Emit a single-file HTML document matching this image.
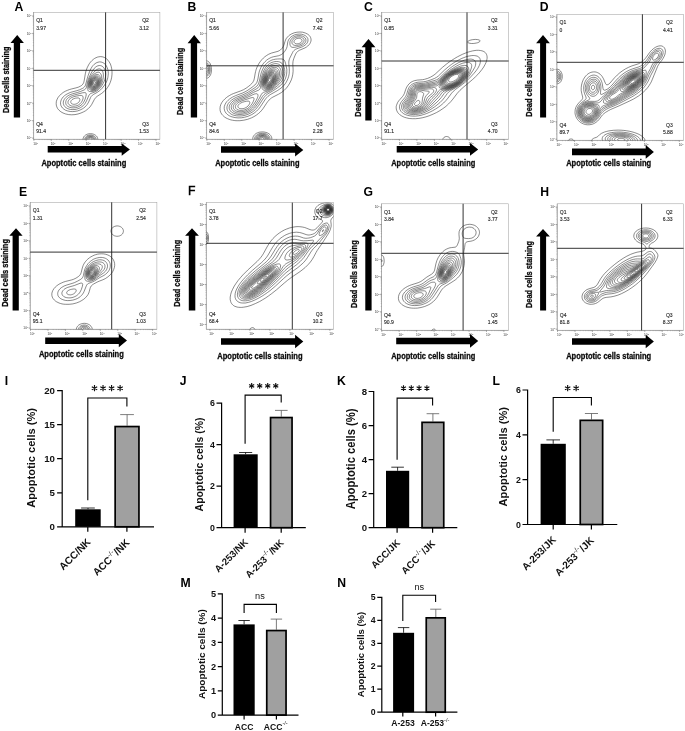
<!DOCTYPE html>
<html><head><meta charset="utf-8"><title>Figure</title>
<style>html,body{margin:0;padding:0;background:#fff;}svg{display:block;will-change:transform;}text{font-family:"Liberation Sans",sans-serif;}</style>
</head><body>
<svg width="685" height="731" viewBox="0 0 685 731">
<rect width="685" height="731" fill="#fff"/>
<clipPath id="c0"><rect x="33.6" y="12.4" width="126.3" height="126.9"/></clipPath>
<rect x="33.6" y="12.4" width="126.3" height="126.9" fill="#fff" stroke="#9a9a9a" stroke-width="0.5"/>
<path d="M33.6 12.4 V139.3 H159.9" fill="none" stroke="#8a8a8a" stroke-width="0.5"/>
<path d="M33.9 139.3 v1.5 M51.3 139.3 v1.5 M68.8 139.3 v1.5 M86.2 139.3 v1.5 M103.7 139.3 v1.5 M121.2 139.3 v1.5 M138.6 139.3 v1.5 M156.0 139.3 v1.5 M33.6 138.1 h-1.5 M33.6 120.7 h-1.5 M33.6 103.2 h-1.5 M33.6 85.8 h-1.5 M33.6 68.3 h-1.5 M33.6 50.9 h-1.5 M33.6 33.4 h-1.5 M33.6 16.0 h-1.5" stroke="#555" stroke-width="0.5" fill="none"/>
<path d="M39.2 139.3 v.8 M42.2 139.3 v.8 M44.4 139.3 v.8 M46.1 139.3 v.8 M47.5 139.3 v.8 M48.6 139.3 v.8 M49.7 139.3 v.8 M50.6 139.3 v.8 M56.6 139.3 v.8 M59.7 139.3 v.8 M61.9 139.3 v.8 M63.5 139.3 v.8 M64.9 139.3 v.8 M66.1 139.3 v.8 M67.1 139.3 v.8 M68.0 139.3 v.8 M74.1 139.3 v.8 M77.1 139.3 v.8 M79.3 139.3 v.8 M81.0 139.3 v.8 M82.4 139.3 v.8 M83.5 139.3 v.8 M84.6 139.3 v.8 M85.5 139.3 v.8 M91.5 139.3 v.8 M94.6 139.3 v.8 M96.8 139.3 v.8 M98.4 139.3 v.8 M99.8 139.3 v.8 M101.0 139.3 v.8 M102.0 139.3 v.8 M102.9 139.3 v.8 M109.0 139.3 v.8 M112.0 139.3 v.8 M114.2 139.3 v.8 M115.9 139.3 v.8 M117.3 139.3 v.8 M118.4 139.3 v.8 M119.5 139.3 v.8 M120.4 139.3 v.8 M126.4 139.3 v.8 M129.5 139.3 v.8 M131.7 139.3 v.8 M133.3 139.3 v.8 M134.7 139.3 v.8 M135.9 139.3 v.8 M136.9 139.3 v.8 M137.8 139.3 v.8 M143.9 139.3 v.8 M146.9 139.3 v.8 M149.1 139.3 v.8 M150.8 139.3 v.8 M152.2 139.3 v.8 M153.3 139.3 v.8 M154.4 139.3 v.8 M155.3 139.3 v.8 M33.6 132.8 h-.8 M33.6 129.8 h-.8 M33.6 127.6 h-.8 M33.6 125.9 h-.8 M33.6 124.5 h-.8 M33.6 123.4 h-.8 M33.6 122.3 h-.8 M33.6 121.4 h-.8 M33.6 115.4 h-.8 M33.6 112.3 h-.8 M33.6 110.1 h-.8 M33.6 108.5 h-.8 M33.6 107.1 h-.8 M33.6 105.9 h-.8 M33.6 104.9 h-.8 M33.6 104.0 h-.8 M33.6 97.9 h-.8 M33.6 94.9 h-.8 M33.6 92.7 h-.8 M33.6 91.0 h-.8 M33.6 89.6 h-.8 M33.6 88.5 h-.8 M33.6 87.4 h-.8 M33.6 86.5 h-.8 M33.6 80.5 h-.8 M33.6 77.4 h-.8 M33.6 75.2 h-.8 M33.6 73.6 h-.8 M33.6 72.2 h-.8 M33.6 71.0 h-.8 M33.6 70.0 h-.8 M33.6 69.1 h-.8 M33.6 63.0 h-.8 M33.6 60.0 h-.8 M33.6 57.8 h-.8 M33.6 56.1 h-.8 M33.6 54.7 h-.8 M33.6 53.6 h-.8 M33.6 52.5 h-.8 M33.6 51.6 h-.8 M33.6 45.6 h-.8 M33.6 42.5 h-.8 M33.6 40.3 h-.8 M33.6 38.7 h-.8 M33.6 37.3 h-.8 M33.6 36.1 h-.8 M33.6 35.1 h-.8 M33.6 34.2 h-.8 M33.6 28.1 h-.8 M33.6 25.1 h-.8 M33.6 22.9 h-.8 M33.6 21.2 h-.8 M33.6 19.8 h-.8 M33.6 18.7 h-.8 M33.6 17.6 h-.8 M33.6 16.7 h-.8" stroke="#777" stroke-width="0.35" fill="none"/>
<g font-family="Liberation Sans, sans-serif" font-size="3.2" fill="#333"><text x="33.3" y="144.9">10<tspan dy="-1.1" font-size="2.3">0</tspan></text><text x="50.7" y="144.9">10<tspan dy="-1.1" font-size="2.3">1</tspan></text><text x="68.2" y="144.9">10<tspan dy="-1.1" font-size="2.3">2</tspan></text><text x="85.7" y="144.9">10<tspan dy="-1.1" font-size="2.3">3</tspan></text><text x="103.1" y="144.9">10<tspan dy="-1.1" font-size="2.3">4</tspan></text><text x="120.6" y="144.9">10<tspan dy="-1.1" font-size="2.3">5</tspan></text><text x="138.0" y="144.9">10<tspan dy="-1.1" font-size="2.3">6</tspan></text><text x="155.4" y="144.9">10<tspan dy="-1.1" font-size="2.3">7</tspan></text><text x="31.6" y="139.4" text-anchor="end">10<tspan dy="-1.1" font-size="2.3">0</tspan></text><text x="31.6" y="122.0" text-anchor="end">10<tspan dy="-1.1" font-size="2.3">1</tspan></text><text x="31.6" y="104.5" text-anchor="end">10<tspan dy="-1.1" font-size="2.3">2</tspan></text><text x="31.6" y="87.1" text-anchor="end">10<tspan dy="-1.1" font-size="2.3">3</tspan></text><text x="31.6" y="69.6" text-anchor="end">10<tspan dy="-1.1" font-size="2.3">4</tspan></text><text x="31.6" y="52.2" text-anchor="end">10<tspan dy="-1.1" font-size="2.3">5</tspan></text><text x="31.6" y="34.7" text-anchor="end">10<tspan dy="-1.1" font-size="2.3">6</tspan></text><text x="31.6" y="17.3" text-anchor="end">10<tspan dy="-1.1" font-size="2.3">7</tspan></text></g>
<path clip-path="url(#c0)" d="M98.8 56.8l2-.2 2.1 .3 1.8 .7 1.8 1.2 1.5 1.4 1.2 1.7 1.2 2.1 .8 2.4 .5 2.4 .3 2.7 0 2.7-.3 3-.6 2.7-.9 2.7-1.1 2.4-1.5 2.4-1.7 2.2-2.1 2.1-2.4 1.9-4.2 2.7-1.5 1.3-.6 .8-.7 1-2.7 5.1-1.7 2.4-1.5 1.5-1.4 1.2-1.6 1.2-1.8 1-2.7 1.2-3 1-3 .6-3.3 .2-3-.2-3-.6-2.7-1-2.1-1.2-1.8-1.5-1.4-1.6-.9-1.8-.5-1.8-.1-1.8 .2-2.1 .8-2.1 1-1.8 1.5-1.8 1.5-1.5 2.1-1.6 2.1-1.2 2.1-.9 1.8-.7 2.1-.6 4.5-1.1 2.4-.7 2.1-1 1-.6 .8-.7 .9-1.1 .7-1.5 .5-2.3 1-6.1 .6-2.7 1.2-3.3 1.5-3 .9-1.5 1.2-1.5 1.1-1.2 1.5-1.3 1.2-.9 1.5-.8 1.5-.6zM84.2 142.3l-.8-1.2-.2-.6-.2-.9 0-.6 .2-.9 .4-.9 .3-.6 .5-.6 .8-.7 1.5-.9 1.8-.6 1.8-.1 1.8 .1 1.8 .5 .9 .5 .9 .6 .7 .6 .5 .6 .3 .6 .4 .9 .1 .6 .1 .9-.1 .6-.3 .9-.8 1.2M98 62.2l1.6-.3 1.5 .1 1.5 .5 1.5 .8 1.2 1.1 1 1.4 .9 1.8 .6 1.8 .4 2.1 .1 2.1-.2 2.1-.3 2.1-.6 2.1-.8 2.1-1.2 2.1-1.2 1.8-2.2 2.7-1.2 1.2-1.3 1.1-2.1 1.5-4 2.2-.8 .6-.6 .6-.6 .7-.6 1-2 4.6-1.4 2.4-1 1.2-1.1 1.2-1.4 1.1-1.5 1-2.1 1-2.4 .9-2.7 .5-2.4 .2-2.4-.1-2.4-.5-2.1-.7-1.8-1.1-1.3-1.1-.9-1.2-.7-1.2-.4-1.5-.1-1.5 .3-1.5 .5-1.5 .9-1.5 .9-1.2 1.4-1.3 1.5-1.1 1.8-1 3-1.3 6-1.6 2.7-.9 3.2-1.5 .9-.6 .7-.6 .7-.9 .5-1.1 1.6-6.1 1-3.3 1.5-4.2 1.4-3 1.4-2.2 .9-1.1 .9-.9 1.8-1.3 .9-.4zM86.3 142.3l-.8-.9-.4-.6-.2-.6-.1-1.2 .3-1.2 .7-1 1.2-1 1.5-.6 1.8-.2 1.5 .1 1.5 .5 1.2 .7 .6 .6 .4 .6 .5 1.2 .1 .6-.2 .9-.6 1.2-.8 .9M97.9 65.8l1.4-.3 1.2 .1 1.2 .4 1.2 .8 .9 .9 .8 1.4 .6 1.5 .4 1.8 .1 1.8-.1 1.8-.3 1.8-.5 1.8-.8 2.1-1 2.1-1.1 1.8-1.2 1.8-2 2.1-.9 .8-1.2 .8-1.8 .9-3.8 1.4-.7 .4-.6 .5-.5 .6-.5 .9-2.2 5.1-1.3 2.4-.9 1.2-1.1 1.2-1.3 1-1.2 .8-1.8 .9-2.1 .7-1.8 .4-2.1 .1-2.1-.1-1.8-.4-1.8-.7-1.4-.9-1-.9-.7-.9-.5-1.2-.3-1.2 0-1.2 .3-1.2 .5-1.2 .8-1.2 .8-.9 1.2-1 1.2-.9 1.5-.8 2.7-1 5.4-1.5 3-1 3.3-1.4 .9-.5 .6-.5 .6-.9 .4-1 1-5.1 .8-2.7 1-2.4 1.6-3.2 1.8-3.2 1.5-2.1 .9-.9 .9-.7 .9-.6zM88.1 142.3l-1.1-.7-.5-.5-.4-.6-.2-.9 0-.6 .1-.6 .5-.9 .5-.5 .6-.5 1.2-.5 1.5-.2 1.5 .2 1.2 .4 1 .8 .5 .6 .3 .6 .1 .6 0 .6-.2 .9-.4 .6-.4 .4-1.2 .8M97.9 69.1l.8-.2 .9 0 .9 .3 .6 .3 .6 .5 .6 .8 .5 1 .3 .9 .3 2.1-.1 2.7-.6 3-.9 2.7-1 2.1-1.2 1.8-1.5 1.7-1.5 1.2-1.8 .9-1.8 .5-2.1 .2-1.2-.1-.8-.2-.4-.2-.3-.4-.3-.6-.1-1.2-.1-2.1 .2-2.1 .2-1.8 .5-1.8 .6-1.8 .7-1.5 1-1.7 1.2-1.7 1.5-1.8 1.2-1.4 1.2-1 .9-.7zM82.5 92.8l1.8-.2 .9 0 .4 .2 .4 .3 .1 .3 .1 .6 0 .9-.3 1.5-.4 1.5-.6 1.8-.7 1.5-.7 1.2-.7 1-.9 1-.9 .8-1.8 1.2-1.8 .8-2.1 .5-2.1 .2-2.1-.2-1.8-.5-1.5-.8-1.1-1-.6-.9-.3-.9-.1-.9 .1-1.2 .4-1.2 .5-.9 .8-.9 .9-.8 1.8-1.2 2.4-1 2.1-.6zM89.5 136.6l1.1-.1 1.2 .2 1.2 .6 .7 .8 .3 .9 0 .9-.5 .9-.7 .6-.7 .4-.8 .2-.7 .1-.9-.1-.9-.2-.6-.3-.6-.4-.5-.6-.3-.6 0-.6 0-.6 .3-.6 .5-.6 .4-.3 .8-.4zM97.2 72.4l1.2-.2 .6 .2 .6 .2 .9 .9 .7 1.3 .4 1.8 .1 2.1-.3 2.4-.6 2.1-.8 1.8-.9 1.5-1.2 1.5-1.3 1.1-1.5 .9-1.5 .4-1.5 .1-1.2-.2-.9-.5-.6-.6-.5-.9-.3-1.2-.1-1.5 .1-1.5 .3-1.8 .4-1.5 .6-1.5 .7-1.2 .9-1.3 .9-1.1 1.2-1.2 1.2-.9 1.2-.7zM79.5 95.5l1.5-.1 .6 .1 .6 .2 .6 .5 .2 .5 .1 .6 0 .9-.2 .9-.7 1.8-.9 1.5-1.4 1.5-1.3 1-1.5 .7-1.5 .4-1.5 .2-1.5 0-1.5-.3-1.2-.6-1-.8-.5-.6-.3-.6-.1-.6 0-.9 .3-.9 .3-.6 .6-.9 .6-.6 1.6-1.1 2.1-.9 2.7-.7zM90.1 137.2l.8 0 1 .3 .8 .6 .4 .6 0 .9-.2 .6-.5 .6-.6 .3-1.2 .3-1.2-.1-1-.5-.3-.3-.4-.6 0-.9 .2-.6 .2-.3 .8-.6zM96.4 74.5l1.1 0 1 .3 .8 .7 .7 1.1 .4 1.5 .2 1.5-.1 1.8-.5 1.8-.5 1.5-.9 1.5-1 1.2-1 .9-1.2 .8-1.2 .5-1.2 .1-1.2-.1-.9-.4-.6-.5-.5-.7-.4-.9-.2-1.2 0-1.5 .1-1.2 .3-1.5 .6-1.5 .6-1.2 .7-1.1 .9-1.1 .9-.8 1.2-.8 .9-.4zM75.3 98.2l1.5-.2 1.2-.1 .9 .2 .6 .4 .3 .6 .1 .6-.2 .9-.4 .9-.7 .9-.9 .7-.9 .6-1.2 .4-1.2 .2-.9 0-.9-.2-.9-.4-.6-.6-.3-.7 0-.9 .4-.9 .8-.9 .9-.6 1.2-.5zM89.6 138.1l1-.1 .6 .1 .5 .3 .3 .3 .2 .6-.1 .4-.3 .4-.6 .4-.6 .1-.9-.1-.6-.3-.4-.6 0-.6 .4-.6zM95.1 76l1.2-.2 .9 .1 .9 .4 .8 .9 .6 1.2 .2 1.2 .1 1.2-.2 1.5-.4 1.5-.5 1.2-.8 1.2-1 1.2-.9 .7-1.2 .6-1.2 .3-1.2 0-.9-.4-.6-.4-.4-.5-.5-.9-.2-.9-.1-1.2 .2-2.1 .7-2.1 .6-1.2 .6-.8 .6-.7 .9-.8 .9-.6zM95 76.9l1-.1 .9 .1 .9 .5 .6 .7 .4 .9 .3 1.2 0 1.2-.1 1.2-.4 1.2-.5 1.2-.6 1-.9 1-.9 .7-.9 .4-1.2 .3-.9-.1-.6-.2-.7-.4-.5-.6-.3-.6-.3-.9-.1-.9 0-.9 .1-1.2 .4-1.2 .4-.9 1-1.6 .6-.6 .9-.7zM94.5 77.8l.9-.2 .9 .1 .6 .2 .6 .5 .6 .8 .3 1 .2 .9-.1 1.2-.3 1.2-.3 .9-.5 .9-.8 1-.9 .8-.9 .4-.9 .3-.9 0-.6-.2-.6-.4-.4-.4-.4-.6-.2-.6-.1-.9 0-1.5 .5-1.8 .8-1.5 .7-.9 .6-.5zM94.9 78.4l.8-.1 .6 .2 .6 .4 .4 .4 .4 .6 .2 .9 .1 .9-.1 .9-.2 .9-.3 .9-.5 .8-.6 .7-.7 .6-.8 .5-.9 .2-.6 0-.6-.2-.4-.2-.5-.5-.3-.4-.2-.6-.2-.9 .1-1.5 .4-1.5 .5-.8 .5-.7 1-.9 .6-.4zM94.2 79.3l.6-.2 .6 0 .6 .1 .6 .4 .5 .6 .2 .6 .1 .6 .1 .9-.4 1.5-.4 .9-.5 .6-.5 .5-.6 .4-.6 .3-.9 .1-.9-.3-.6-.6-.4-1-.1-1.2 .2-1.2 .6-1.3 .9-1.1zM94.4 79.9l.4-.1 .6 0 .6 .3 .3 .2 .3 .5 .2 .6 .1 1.2-.3 1.2-.3 .6-.6 .7-.9 .7-.6 .1-.6 0-.6-.2-.6-.6-.3-.9 0-1 .3-1.2 .5-.9 .7-.7zM94.1 80.8l.4-.2 .6 0 .6 .3 .3 .3 .2 .5 .1 .9-.3 1.1-.6 .9-.6 .4-.9 .2-.6-.2-.3-.3-.3-.6 0-.9 .2-.9 .3-.6 .4-.5zM94.4 81.7l.5 0 .4 .3 .1 .3 0 .6-.2 .6-.2 .3-.3 .3-.5 .1-.3 0-.3-.3-.2-.7 .2-.6 .1-.3 .3-.3z" fill="none" stroke="#2a2a2a" stroke-width="0.55"/>
<path d="M105.6 12.4 V139.3 M33.6 70.3 H159.9" stroke="#1c1c1c" stroke-width="0.9" fill="none"/>
<g font-family="Liberation Sans, sans-serif" font-size="5.0" fill="#2a2a2a" stroke="#2a2a2a" stroke-width="0.14"><text x="36.2" y="22.4">Q1</text><text x="36.2" y="29.7">3.97</text><text x="148.9" y="22.4" text-anchor="end">Q2</text><text x="148.9" y="29.7" text-anchor="end">3.12</text><text x="148.9" y="125.8" text-anchor="end">Q3</text><text x="148.9" y="133.1" text-anchor="end">1.53</text><text x="36.2" y="125.8">Q4</text><text x="36.2" y="133.1">91.4</text></g>
<text x="14.6" y="10.6" font-family="Liberation Sans, sans-serif" font-size="12.2" font-weight="bold" fill="#000">A</text>
<path d="M13.8 117.5 V42.9 H10.5 L17.2 35.1 L23.9 42.9 H20.1 V117.5 Z" fill="#000"/>
<path d="M47.7 146.0 H121.7 V143.4 L129.9 149.6 L121.7 155.8 V152.4 H47.7 Z" fill="#000"/>
<text x="41.4" y="166.0" font-family="Liberation Sans, sans-serif" font-size="8.5" font-weight="bold" fill="#0a0a0a" stroke="#0a0a0a" stroke-width="0.28" textLength="84.9" lengthAdjust="spacingAndGlyphs">Apoptotic cells staining</text>
<text transform="translate(8.9 113.0) rotate(-90)" font-family="Liberation Sans, sans-serif" font-size="8.5" font-weight="bold" fill="#0a0a0a" stroke="#0a0a0a" stroke-width="0.28" textLength="66.6" lengthAdjust="spacingAndGlyphs">Dead cells staining</text>
<clipPath id="c1"><rect x="206.6" y="12.4" width="126.9" height="126.9"/></clipPath>
<rect x="206.6" y="12.4" width="126.9" height="126.9" fill="#fff" stroke="#9a9a9a" stroke-width="0.5"/>
<path d="M206.6 12.4 V139.3 H333.5" fill="none" stroke="#8a8a8a" stroke-width="0.5"/>
<path d="M206.9 139.3 v1.5 M224.3 139.3 v1.5 M241.8 139.3 v1.5 M259.2 139.3 v1.5 M276.7 139.3 v1.5 M294.1 139.3 v1.5 M311.6 139.3 v1.5 M329.1 139.3 v1.5 M206.6 138.1 h-1.5 M206.6 120.7 h-1.5 M206.6 103.2 h-1.5 M206.6 85.8 h-1.5 M206.6 68.3 h-1.5 M206.6 50.9 h-1.5 M206.6 33.4 h-1.5 M206.6 16.0 h-1.5" stroke="#555" stroke-width="0.5" fill="none"/>
<path d="M212.2 139.3 v.8 M215.2 139.3 v.8 M217.4 139.3 v.8 M219.1 139.3 v.8 M220.5 139.3 v.8 M221.6 139.3 v.8 M222.7 139.3 v.8 M223.6 139.3 v.8 M229.6 139.3 v.8 M232.7 139.3 v.8 M234.9 139.3 v.8 M236.5 139.3 v.8 M237.9 139.3 v.8 M239.1 139.3 v.8 M240.1 139.3 v.8 M241.0 139.3 v.8 M247.1 139.3 v.8 M250.1 139.3 v.8 M252.3 139.3 v.8 M254.0 139.3 v.8 M255.4 139.3 v.8 M256.5 139.3 v.8 M257.6 139.3 v.8 M258.5 139.3 v.8 M264.5 139.3 v.8 M267.6 139.3 v.8 M269.8 139.3 v.8 M271.4 139.3 v.8 M272.8 139.3 v.8 M274.0 139.3 v.8 M275.0 139.3 v.8 M275.9 139.3 v.8 M282.0 139.3 v.8 M285.0 139.3 v.8 M287.2 139.3 v.8 M288.9 139.3 v.8 M290.3 139.3 v.8 M291.4 139.3 v.8 M292.5 139.3 v.8 M293.4 139.3 v.8 M299.4 139.3 v.8 M302.5 139.3 v.8 M304.7 139.3 v.8 M306.3 139.3 v.8 M307.7 139.3 v.8 M308.9 139.3 v.8 M309.9 139.3 v.8 M310.8 139.3 v.8 M316.9 139.3 v.8 M319.9 139.3 v.8 M322.1 139.3 v.8 M323.8 139.3 v.8 M325.2 139.3 v.8 M326.3 139.3 v.8 M327.4 139.3 v.8 M328.3 139.3 v.8 M206.6 132.8 h-.8 M206.6 129.8 h-.8 M206.6 127.6 h-.8 M206.6 125.9 h-.8 M206.6 124.5 h-.8 M206.6 123.4 h-.8 M206.6 122.3 h-.8 M206.6 121.4 h-.8 M206.6 115.4 h-.8 M206.6 112.3 h-.8 M206.6 110.1 h-.8 M206.6 108.5 h-.8 M206.6 107.1 h-.8 M206.6 105.9 h-.8 M206.6 104.9 h-.8 M206.6 104.0 h-.8 M206.6 97.9 h-.8 M206.6 94.9 h-.8 M206.6 92.7 h-.8 M206.6 91.0 h-.8 M206.6 89.6 h-.8 M206.6 88.5 h-.8 M206.6 87.4 h-.8 M206.6 86.5 h-.8 M206.6 80.5 h-.8 M206.6 77.4 h-.8 M206.6 75.2 h-.8 M206.6 73.6 h-.8 M206.6 72.2 h-.8 M206.6 71.0 h-.8 M206.6 70.0 h-.8 M206.6 69.1 h-.8 M206.6 63.0 h-.8 M206.6 60.0 h-.8 M206.6 57.8 h-.8 M206.6 56.1 h-.8 M206.6 54.7 h-.8 M206.6 53.6 h-.8 M206.6 52.5 h-.8 M206.6 51.6 h-.8 M206.6 45.6 h-.8 M206.6 42.5 h-.8 M206.6 40.3 h-.8 M206.6 38.7 h-.8 M206.6 37.3 h-.8 M206.6 36.1 h-.8 M206.6 35.1 h-.8 M206.6 34.2 h-.8 M206.6 28.1 h-.8 M206.6 25.1 h-.8 M206.6 22.9 h-.8 M206.6 21.2 h-.8 M206.6 19.8 h-.8 M206.6 18.7 h-.8 M206.6 17.6 h-.8 M206.6 16.7 h-.8" stroke="#777" stroke-width="0.35" fill="none"/>
<g font-family="Liberation Sans, sans-serif" font-size="3.2" fill="#333"><text x="206.3" y="144.9">10<tspan dy="-1.1" font-size="2.3">0</tspan></text><text x="223.8" y="144.9">10<tspan dy="-1.1" font-size="2.3">1</tspan></text><text x="241.2" y="144.9">10<tspan dy="-1.1" font-size="2.3">2</tspan></text><text x="258.6" y="144.9">10<tspan dy="-1.1" font-size="2.3">3</tspan></text><text x="276.1" y="144.9">10<tspan dy="-1.1" font-size="2.3">4</tspan></text><text x="293.5" y="144.9">10<tspan dy="-1.1" font-size="2.3">5</tspan></text><text x="311.0" y="144.9">10<tspan dy="-1.1" font-size="2.3">6</tspan></text><text x="328.4" y="144.9">10<tspan dy="-1.1" font-size="2.3">7</tspan></text><text x="204.6" y="139.4" text-anchor="end">10<tspan dy="-1.1" font-size="2.3">0</tspan></text><text x="204.6" y="122.0" text-anchor="end">10<tspan dy="-1.1" font-size="2.3">1</tspan></text><text x="204.6" y="104.5" text-anchor="end">10<tspan dy="-1.1" font-size="2.3">2</tspan></text><text x="204.6" y="87.1" text-anchor="end">10<tspan dy="-1.1" font-size="2.3">3</tspan></text><text x="204.6" y="69.6" text-anchor="end">10<tspan dy="-1.1" font-size="2.3">4</tspan></text><text x="204.6" y="52.2" text-anchor="end">10<tspan dy="-1.1" font-size="2.3">5</tspan></text><text x="204.6" y="34.7" text-anchor="end">10<tspan dy="-1.1" font-size="2.3">6</tspan></text><text x="204.6" y="17.3" text-anchor="end">10<tspan dy="-1.1" font-size="2.3">7</tspan></text></g>
<path clip-path="url(#c1)" d="M297 32.2l2.9-.2 2.7 .2 1.5 .4 1.2 .4 2.1 1 .9 .6 1 .9 .7 .9 .5 .9 .3 .9 .2 .9 .1 .9-.2 1.2-.4 1.2-.6 1.2-.9 1.2-1.2 1.2-1.3 1-1.5 .9-5.4 2.3-1.2 .7-.7 .5-.8 .8-.6 .8-.6 1-.9 2-.9 2.3-.6 1.8-.3 1.5-.2 2.4 .3 5.1 0 2.4-.3 2.7-.6 3-.9 2.7-1.4 3-1.6 2.7-1.9 2.5-2.4 2.4-2.7 2.1-2.7 1.6-5.7 2.9-1.5 .9-1.2 1-1.2 1.1-1.2 1.4-1.2 1.7-3.4 5.2-1.4 1.8-1.5 1.7-1.8 1.6-2.1 1.6-2.4 1.5-2.4 1.2-1.8 .7-2.1 .8-3.9 .9-3.9 .5-2.1 0-1.8 0-1.8-.2-1.8-.3-1.5-.3-1.8-.6-1.5-.6-1.5-.7-1.4-.9-1.1-.9-.9-.9-.8-.9-1.1-1.8-.6-1.8-.2-2.1 .2-2.1 .6-2.1 1.1-2.1 1.6-2.1 1.4-1.4 1.5-1.3 1.5-1.1 1.8-1.1 1.8-1 2.1-.9 6.9-2.5 2.8-1.2 1.6-.9 1.9-1.2 2-1.5 1.8-1.5 1.2-1.2 .8-.9 .7-1.2 .6-1.2 .5-2.1 .7-4.2 .5-2.4 .6-2.1 .9-2.4 .9-1.8 1.2-2.1 1.3-1.8 1.2-1.5 1.6-1.7 1.5-1.3 1.8-1.3 1.8-1.1 1.5-.7 1.8-.7 6.3-1.7 1.2-.6 1.2-.7 1.5-1.5 1.2-1.7 .8-1.7 1.1-3.6 .5-1.5 1-1.8 1.3-1.5 .9-.9 1-.8 2.1-1.2 2.4-1zM203.6 62.3l.6-.5 .6-.4 .6-.3 .9-.2 .9 .1 .6 .2 .6 .4 .6 .5 .6 .7 .6 .9 .7 1.8 .4 1.8 .2 2.4-.2 2.4-.5 2.1-.9 1.8-.6 .8-.6 .6-1.2 .7-.6 .1-.9 .1-1.2-.5-.6-.4-.6-.5M254.1 142.3l-.5-.6-.4-.9-.3-.9-.1-.9 0-.9 .2-.9 .4-.9 .6-.9 .6-.7 .9-.8 .9-.6 1.2-.5 1.2-.5 1.2-.2 2.4-.2 1.5 .1 1.2 .2 2.1 .6 1.9 1.1 .8 .7 .7 .8 .6 .9 .4 .9 .2 .9 0 .9-.1 .9-.3 .9-.4 .9-.5 .6M296.9 34.3l2.4-.2 2.1 .1 2.1 .6 1.8 .8 1.3 1.1 .5 .6 .5 .9 .3 .6 .1 .9-.1 1.5-.4 1.2-.6 .9-.7 .9-1.2 1-1.2 .8-1.5 .8-5.3 1.9-1.6 .7-.7 .5-.8 .7-.7 .8-.5 .9-3 6-.5 1.5-.3 1.2-.1 1.2 0 1.5 .5 5.1 0 2.4-.1 2.4-.5 2.7-.8 2.4-1.1 2.4-1.2 2.1-1.6 2.1-2.1 2.1-2.1 1.6-2.4 1.6-6.6 3.7-1.5 1-1.4 1.1-1.3 1.3-1.2 1.5-4.9 7.4-1.1 1.5-1.3 1.5-1.5 1.5-1.7 1.4-1.8 1.3-1.8 1-3.3 1.5-3.3 .9-3.3 .6-3.3 .1-3-.3-3-.7-1.5-.5-1.2-.6-1.2-.7-.9-.7-1.2-1.2-1-1.5-.6-1.5-.3-1.8 .1-1.8 .6-1.8 .9-1.8 1.1-1.5 1.2-1.2 1.4-1.2 1.4-1 1.8-1.1 3-1.4 7.2-2.7 3.2-1.6 1.9-1.2 3-2.1 2.4-1.8 1.5-1.2 .8-.9 .7-.9 .5-.9 .4-1.1 .6-2.2 1-6 .6-2.1 .7-1.8 1.4-3 1-1.5 1.1-1.5 1.4-1.5 1.5-1.4 1.5-1.1 1.8-1 1.5-.7 1.8-.6 5.1-1 1.5-.5 1.5-.7 1.2-.8 .9-.9 1.3-1.5 1-1.5 .8-1.5 .6-1.8 .5-3.6 .3-1.5 .6-1.5 .9-1.4 .6-.7 .9-.9 1.8-1.2 2.1-1zM203.6 65l.9-1.2 .9-.6 .6-.2 .6 0 .6 .1 .6 .3 .9 .9 .4 .6 .5 .9 .5 1.8 .2 2.1-.2 1.8-.5 1.8-.8 1.5-1 1-.9 .3-.6 .1-.6-.1-.6-.3-.6-.4-.9-1.2M256.3 142.3l-.6-.6-.6-.9-.4-.9-.1-.6 0-.9 .1-.6 .4-.9 .3-.6 1.1-1.2 .8-.6 .9-.4 .9-.4 1.2-.3 2.1-.2 2.1 .2 1.8 .6 .9 .5 .9 .6 1.1 1.2 .3 .6 .4 .9 .1 .6 0 .9-.2 .9-.3 .6-.6 .9-.6 .6M296.8 35.8l1.9-.2 2.1 .1 1.8 .5 1.5 .8 1 .9 .7 1.2 .1 1.2-.1 .9-.2 .6-.7 1.2-1.1 1.1-1.5 1-1.5 .7-2.4 .7-3.6 .8-1.8 .1-.9-.1-.4-.1-.5-.3-.6-.7-.4-.8-.3-1.2 0-1.2 0-.9 .2-.9 .4-.9 1-1.5 .6-.7 .9-.7 1.8-1zM275.3 59.2l2.1-.2 2.7-.1 1.8 .1 1.2 .3 .8 .5 .5 .6 .5 1 .6 1.8 .8 3.5 .5 2.7 0 2.4-.2 2.4-.6 2.7-.9 2.4-1.2 2.1-1.6 2.1-2 2.1-2.7 2.1-4.1 2.8-5.9 3.5-1.9 1.5-.9 1-.9 1.1-4.9 7.5-2.3 3-1.4 1.5-1.3 1.2-1.6 1.2-1.7 1-2.7 1.3-3 1-3 .6-3 .1-2.7-.2-2.7-.6-1.2-.4-1.2-.6-1.8-1.3-1.1-1.2-.8-1.2-.4-1.2-.2-1.5 .2-1.5 .5-1.5 .8-1.5 1-1.2 1.9-1.8 2.3-1.6 3-1.5 6.3-2.4 3-1.4 2.6-1.5 6.4-4.2 1.9-1.5 1.1-1.3 .8-1.7 .7-2.3 1.3-6.1 .8-2.7 1.2-3 1.5-2.7 1.1-1.5 1.1-1.2 1.3-1.2 1.3-.9 1.5-.9 1.5-.7 1.5-.4zM203.6 67.6l.6-1.5 .6-.9 .9-.6 .6-.1 .6 0 .6 .3 .5 .4 .4 .5 .4 .7 .5 1.5 .1 1.8-.2 1.8-.5 1.5-.4 .6-.5 .6-.9 .5-.6 0-.6-.1-.9-.6-.7-1-.5-1.4M258 142.3l-.7-.5-.6-.6-.5-.7-.2-.6-.2-.6 0-.9 .4-1.2 .4-.6 .5-.6 .7-.6 .7-.4 .9-.4 .9-.3 1.2-.2 .9 0 1.8 .2 1.8 .6 .8 .5 .7 .6 .5 .6 .4 .6 .4 1.2 0 .6-.2 .9-.6 1.2-.6 .6-.8 .6M297.4 37l1.3-.1 1.5 .1 1.3 .3 1.1 .6 .9 .9 .5 .9 .1 .9-.2 .6-.2 .6-.6 .9-1 .9-1 .6-1.5 .6-1.5 .4-1.8 .2-1.5 0-1.2-.4-.9-.6-.4-.5-.2-.6-.2-1.2 .1-.9 .2-.6 .8-1.2 1.2-1.1 1.5-.8zM274.9 61.6l1.6-.1 1.8 .1 1.5 .4 1.2 .6 .9 .7 .9 1.1 .8 1.4 .6 1.8 .4 1.8 .2 2.1-.1 2.1-.3 1.8-.7 2.1-.8 1.8-1.1 1.8-1.2 1.5-1.4 1.5-1.6 1.5-3.8 3.1-3.3 2.1-5 2.6-1.5 1.2-1.5 1.8-4.1 6.6-2.6 3.6-1.3 1.5-1.4 1.3-1.5 1.2-1.5 1-2.4 1.2-2.4 .9-2.7 .6-2.7 .2-2.4-.1-2.4-.5-2.1-.9-1.6-1-.9-.9-.7-1.2-.5-1.2-.1-1.2 .1-1.2 .4-1.2 .7-1.2 .9-1.2 1.7-1.7 2.4-1.5 2.4-1.2 5.8-2.2 2.9-1.3 2.1-1.2 4.5-2.8 3.6-2.1 1.4-1 .9-1.2 .7-1.5 .5-1.8 1.2-5.7 1.2-3.9 1.2-3 1.3-2.3 .9-1.3 1.2-1.3 1.2-1.2 1.2-.9 1.2-.7 1.2-.5 1.5-.5zM206.3 65.8l.3 0 .6 .2 .4 .4 .4 .6 .5 1.2 .1 1.5-.2 1.5-.5 1.2-.7 .8-.3 .1-.6 .1-.4-.1-.5-.3-.6-.7-.4-1.1-.2-1.5 .1-1.5 .5-1.2 .6-.8 .3-.2zM259.6 142.3l-.8-.4-.6-.4-.9-1-.3-.6-.2-.6 0-.9 .2-.6 .3-.6 .4-.6 .7-.6 .7-.4 1.5-.6 1.8-.2 1.8 .2 1.5 .7 1.2 .9 .4 .6 .3 .6 .2 .6 0 .9-.2 .6-.3 .6-.5 .6-.5 .4-1.3 .8M297 38.5l1.1-.2 1.2 0 .9 .2 .9 .5 .6 .6 .3 .7 0 .6-.4 .9-.5 .6-.9 .6-.9 .4-.9 .3-1.2 .1-.9 0-.9-.3-.6-.3-.5-.5-.2-.6-.1-.6 .3-.9 .4-.6 .6-.6 1-.6zM274.6 63.7l1.3-.1 1.5 .2 1.2 .4 1.2 .7 1 .9 .9 1.2 .6 1.5 .4 1.5 .2 1.5 0 1.8-.3 1.8-.4 1.5-.7 1.8-.9 1.5-1 1.5-1.4 1.8-1.7 1.8-1.9 1.8-1.7 1.4-1.8 1.2-1.5 .8-1.2 .6-4.8 1.5-.6 .3-.7 .5-.9 1.2-2 3.9-1.4 2.4-1.5 2.4-1.4 2.1-1.2 1.5-1.5 1.5-1.4 1.3-1.7 1.1-2.2 1.2-2.1 .7-2.4 .6-2.1 .1-2.1 0-2.1-.4-1.8-.8-1.5-1-.9-1-.5-.9-.3-1.2 0-1.2 .3-1.2 .6-1.2 1-1.2 1.2-1.2 1.3-.9 1.8-1 2.1-.9 4.5-1.7 2.4-1 2.1-1.1 4.8-2.8 1.8-.8 3.3-1.4 1-.7 .6-.9 .4-1.2 1.1-6.9 .9-3.6 1.3-3.3 1.3-2.7 .9-1.4 1-1.3 1.1-1.2 1.2-1 1.2-.9 1.5-.7 1.2-.4zM206.2 67.3l.4 0 .6 .4 .4 .8 .2 .9-.1 .9-.3 .9-.5 .6-.6 .1-.6-.3-.3-.4-.3-.8-.1-.7 .1-.9 .3-.8 .3-.4zM260.6 135.7l1.2-.2 1.5 0 1.5 .5 1 .6 .7 .9 .4 .9 0 .6-.1 .6-.5 .9-.7 .6-.8 .5-.9 .3-1.2 .2-1.2 0-.9-.2-.9-.3-.9-.6-.6-.7-.4-.7-.1-.6 .1-.9 .4-.8 .6-.7 .9-.6zM273.2 65.8l.9-.2 1.2 0 .9 .1 .9 .2 .9 .4 .9 .7 .6 .6 .6 .8 .5 1 .3 .9 .2 1.2 .1 1.2 0 1.2-.2 1.2-.7 2.4-1.2 2.4-1 1.5-1.1 1.5-2.3 2.7-2.4 2.1-2.1 1.3-1.2 .6-1.2 .4-1.2 .3-1.2 .1-.9 0-.9-.3-.6-.3-.3-.3-.5-.9-.3-1.2-.1-1.8 .1-2.4 .4-2.4 .5-2.4 .8-2.4 1-2.1 1-1.8 1-1.5 1.2-1.4 1.2-1.2 1.5-1.1 1.2-.6zM254.6 94l.9-.2 .9-.1 .6 .1 .6 .4 .3 .5 .1 .8-.1 .9-.3 .9-.6 1.5-.9 1.8-2.3 3.6-1.9 2.4-1.2 1.2-1.1 .9-1.9 1.2-2.1 1-2.1 .6-2.4 .3-2.1-.1-2.1-.4-1.6-.8-.7-.6-.6-.6-.5-.9-.2-.9 0-.9 .2-.9 .4-.9 .6-.9 .8-.9 1-.8 1.5-1 1.5-.7 7.8-3 5.7-2.8zM260.9 136.3l1.2-.2 1.2 .1 .9 .3 .9 .5 .6 .8 .3 .9-.2 .9-.3 .6-.7 .6-.6 .3-.6 .2-.9 .2-.9 0-.9-.2-.9-.4-.6-.4-.5-.6-.2-.6-.1-.6 .1-.6 .3-.6 .7-.6zM272.4 67.6l1.7-.3 .9 0 .9 .2 .9 .4 .6 .4 .6 .5 .5 .6 .7 1.5 .3 .9 .1 1.2-.1 2.1-.5 2.1-1.1 2.7-1.5 2.4-1.8 2.4-1.9 1.8-1.9 1.4-.9 .5-1.2 .6-1.2 .3-.9 .1-.9 0-.7-.2-.8-.4-.8-.8-.5-1.2-.3-1.5 0-1.8 .2-2.1 .3-1.8 .7-2.1 .7-1.8 .9-1.8 1-1.5 1.1-1.4 1.2-1.2 1.2-1 1.2-.7zM252 97.6l.8-.1 .5 .1 .4 .2 .2 .4 .1 .6 0 .6-.6 1.8-1.2 2.4-1.3 1.8-1.4 1.6-1.8 1.4-1.7 .9-1.6 .6-1.5 .4-1.8 .1-1.8-.1-1.4-.4-1.1-.6-.9-.9-.3-.6-.2-.9 0-.6 .3-.9 .3-.7 .7-.8 1.4-1.2 1.8-1 2.1-.9 8.1-2.7zM261.4 136.9l.7-.1 .9 .1 .9 .3 .5 .3 .5 .6 .2 .6-.1 .6-.4 .6-.4 .4-.6 .3-1.2 .2-.9-.1-.6-.2-.9-.6-.3-.4-.1-.5 0-.6 .1-.3 .6-.7 .6-.3zM272 69.1l1.5-.3 1.5 .2 .6 .2 .8 .5 .6 .6 .4 .5 .6 1.3 .3 1.8-.1 1.8-.4 2.1-.9 2.1-1.3 2.4-1.6 2.1-1.7 1.7-1.8 1.3-1.8 .9-1.5 .3-.9-.1-.6-.1-.9-.5-.6-.5-.6-1.2-.3-1.2-.1-1.5 .1-1.5 .2-1.8 .5-1.8 .6-1.5 .7-1.5 .9-1.5 1-1.4 1.2-1.2 1.2-1 1.2-.7zM246.5 101.2l1.5-.1 .9 .1 .6 .4 .3 .5 0 .3-.2 1.2-.6 1.2-1 1.2-1 .9-1.1 .7-1.2 .6-1.5 .4-1.2 .2-1.2-.1-1.2-.2-.7-.4-.6-.6-.4-.9 .1-.9 .5-.9 1.1-1.1 1.2-.7 1.8-.8 2.1-.6zM261.7 137.8l.4-.1 .6 0 .8 .4 .2 .3 .1 .3-.2 .6-.3 .3-.9 .3-.6-.1-.5-.2-.4-.4-.1-.5 .1-.3 .2-.3zM271.8 70.3l1.4-.2 1.2 .2 .6 .3 .6 .4 .5 .5 .4 .6 .6 1.5 .1 1.5-.1 1.8-.5 1.8-.8 2.1-1.1 1.8-1.4 1.8-1.3 1.3-1.8 1.3-1.5 .6-1.5 .2-1.2-.2-.9-.5-.5-.6-.5-.9-.3-1.2-.1-1.2 .1-1.5 .2-1.5 .5-1.8 .6-1.4 .6-1.3 .9-1.4 .9-1.1 .9-.9 1.2-1 1.2-.7zM271 71.5l1.3-.3 1.2 .1 .6 .2 .6 .4 .8 .8 .6 1.2 .2 1.5 0 1.5-.4 1.8-.6 1.8-1 1.8-1.1 1.5-1.2 1.3-1.2 .9-1.5 .8-1.5 .4-1.2-.1-.6-.3-.7-.6-.5-.7-.4-1.1-.2-1.2 0-1.2 .2-1.2 .3-1.5 .5-1.5 .6-1.2 .7-1.2 .7-1 .9-1 .9-.8 .9-.6zM270.9 72.4l1.1-.2 1.2 .1 .9 .5 .8 .8 .5 1.2 .2 1.2-.1 1.5-.3 1.5-.5 1.5-.8 1.5-1.1 1.5-1.1 1.2-1.2 .9-1.2 .6-1.2 .3-1.2-.1-.6-.2-.7-.6-.4-.6-.3-.9-.2-.9 0-1.2 .1-1.2 .4-1.5 .4-1.2 .5-1.2 .8-1.2 .6-.8 1.5-1.5 .9-.6zM270.5 73.3l1.2-.3 .9 .1 .9 .4 .7 .7 .4 .9 .3 1.2 0 1.2-.3 1.5-.5 1.5-.7 1.5-.9 1.2-1.1 1.2-.9 .7-1.2 .6-1.2 .2-.9-.1-.6-.2-.6-.6-.4-.6-.2-.6-.2-.9 0-1.2 .3-2.1 .8-2.1 1.2-1.8 .6-.7 .9-.8 .6-.5zM271 73.9l.7-.1 .9 .3 .7 .4 .5 .7 .3 .8 .2 1.2-.1 1.2-.3 1.2-.4 1.2-.7 1.2-.8 1.1-.9 .9-.9 .7-.9 .4-.9 .2-.9 0-.6-.3-.6-.6-.4-.6-.2-.6-.1-.9 0-.9 .1-.9 .3-1.2 .9-2 1.2-1.6 .6-.6 .9-.6 .6-.4zM270.3 74.8l.8-.2 .9 .1 .7 .4 .5 .6 .3 .7 .2 .8 0 .9-.2 1.2-.4 1.2-.5 1-.7 1.1-.8 .8-.9 .7-.9 .5-.9 .1-.6 0-.6-.3-.3-.2-.3-.4-.3-.6-.2-.6 0-.9 .2-1.8 .6-1.7 .9-1.4 1.2-1.3 .6-.4zM269.9 75.7l.9-.3 .6 0 .6 .3 .4 .3 .4 .6 .3 .9 0 .9-.1 .9-.3 .9-.4 .9-.6 1-.7 .8-.8 .6-.6 .4-.9 .2-.6 0-.6-.3-.3-.3-.4-.6-.3-1.2 .2-1.5 .5-1.5 .7-1.2 .8-1zM270.2 76.3l.6-.1 .6 .1 .7 .6 .3 .6 .1 .6 0 .6-.1 .9-.6 1.5-1 1.3-.6 .5-.6 .3-.6 .2-.6 0-.4-.2-.4-.3-.4-.7-.1-1.1 .1-1.2 .5-1.2 .7-1.1 .9-.8zM270.1 77.2l.4-.1 .4 .1 .5 .3 .2 .3 .2 .9-.1 1-.4 1.1-.8 1-.9 .7-.6 .1-.3 0-.6-.4-.3-.5-.1-.9 .1-.9 .4-.9 .5-.8 .6-.6zM269.8 78.4l.4-.1 .3 .1 .3 .3 .1 .6-.1 .6-.3 .7-.4 .5-.5 .3-.6 .1-.3-.3-.2-.4 .1-.9 .4-.9 .3-.3z" fill="none" stroke="#2a2a2a" stroke-width="0.55"/>
<path d="M283.1 12.4 V139.3 M206.6 65.8 H333.5" stroke="#1c1c1c" stroke-width="0.9" fill="none"/>
<g font-family="Liberation Sans, sans-serif" font-size="5.0" fill="#2a2a2a" stroke="#2a2a2a" stroke-width="0.14"><text x="209.2" y="22.4">Q1</text><text x="209.2" y="29.7">5.66</text><text x="322.5" y="22.4" text-anchor="end">Q2</text><text x="322.5" y="29.7" text-anchor="end">7.42</text><text x="322.5" y="125.8" text-anchor="end">Q3</text><text x="322.5" y="133.1" text-anchor="end">2.28</text><text x="209.2" y="125.8">Q4</text><text x="209.2" y="133.1">84.6</text></g>
<text x="187.6" y="10.6" font-family="Liberation Sans, sans-serif" font-size="12.2" font-weight="bold" fill="#000">B</text>
<path d="M190.8 117.5 V43.2 H187.6 L194.2 35.1 L200.9 43.2 H197.1 V117.5 Z" fill="#000"/>
<path d="M221.0 146.3 H295.1 V143.4 L303.3 149.9 L295.1 156.5 V152.8 H221.0 Z" fill="#000"/>
<text x="215.2" y="166.2" font-family="Liberation Sans, sans-serif" font-size="8.5" font-weight="bold" fill="#0a0a0a" stroke="#0a0a0a" stroke-width="0.28" textLength="84.3" lengthAdjust="spacingAndGlyphs">Apoptotic cells staining</text>
<text transform="translate(182.6 115.0) rotate(-90)" font-family="Liberation Sans, sans-serif" font-size="8.5" font-weight="bold" fill="#0a0a0a" stroke="#0a0a0a" stroke-width="0.28" textLength="67.3" lengthAdjust="spacingAndGlyphs">Dead cells staining</text>
<clipPath id="c2"><rect x="381.7" y="12.4" width="126.9" height="126.9"/></clipPath>
<rect x="381.7" y="12.4" width="126.9" height="126.9" fill="#fff" stroke="#9a9a9a" stroke-width="0.5"/>
<path d="M381.7 12.4 V139.3 H508.6" fill="none" stroke="#8a8a8a" stroke-width="0.5"/>
<path d="M382.0 139.3 v1.5 M399.4 139.3 v1.5 M416.9 139.3 v1.5 M434.4 139.3 v1.5 M451.8 139.3 v1.5 M469.2 139.3 v1.5 M486.7 139.3 v1.5 M504.1 139.3 v1.5 M381.7 138.1 h-1.5 M381.7 120.7 h-1.5 M381.7 103.2 h-1.5 M381.7 85.8 h-1.5 M381.7 68.3 h-1.5 M381.7 50.9 h-1.5 M381.7 33.4 h-1.5 M381.7 16.0 h-1.5" stroke="#555" stroke-width="0.5" fill="none"/>
<path d="M387.3 139.3 v.8 M390.3 139.3 v.8 M392.5 139.3 v.8 M394.2 139.3 v.8 M395.6 139.3 v.8 M396.7 139.3 v.8 M397.8 139.3 v.8 M398.7 139.3 v.8 M404.7 139.3 v.8 M407.8 139.3 v.8 M410.0 139.3 v.8 M411.6 139.3 v.8 M413.0 139.3 v.8 M414.2 139.3 v.8 M415.2 139.3 v.8 M416.1 139.3 v.8 M422.2 139.3 v.8 M425.2 139.3 v.8 M427.4 139.3 v.8 M429.1 139.3 v.8 M430.5 139.3 v.8 M431.6 139.3 v.8 M432.7 139.3 v.8 M433.6 139.3 v.8 M439.6 139.3 v.8 M442.7 139.3 v.8 M444.9 139.3 v.8 M446.5 139.3 v.8 M447.9 139.3 v.8 M449.1 139.3 v.8 M450.1 139.3 v.8 M451.0 139.3 v.8 M457.1 139.3 v.8 M460.1 139.3 v.8 M462.3 139.3 v.8 M464.0 139.3 v.8 M465.4 139.3 v.8 M466.5 139.3 v.8 M467.6 139.3 v.8 M468.5 139.3 v.8 M474.5 139.3 v.8 M477.6 139.3 v.8 M479.8 139.3 v.8 M481.4 139.3 v.8 M482.8 139.3 v.8 M484.0 139.3 v.8 M485.0 139.3 v.8 M485.9 139.3 v.8 M492.0 139.3 v.8 M495.0 139.3 v.8 M497.2 139.3 v.8 M498.9 139.3 v.8 M500.3 139.3 v.8 M501.4 139.3 v.8 M502.5 139.3 v.8 M503.4 139.3 v.8 M381.7 132.8 h-.8 M381.7 129.8 h-.8 M381.7 127.6 h-.8 M381.7 125.9 h-.8 M381.7 124.5 h-.8 M381.7 123.4 h-.8 M381.7 122.3 h-.8 M381.7 121.4 h-.8 M381.7 115.4 h-.8 M381.7 112.3 h-.8 M381.7 110.1 h-.8 M381.7 108.5 h-.8 M381.7 107.1 h-.8 M381.7 105.9 h-.8 M381.7 104.9 h-.8 M381.7 104.0 h-.8 M381.7 97.9 h-.8 M381.7 94.9 h-.8 M381.7 92.7 h-.8 M381.7 91.0 h-.8 M381.7 89.6 h-.8 M381.7 88.5 h-.8 M381.7 87.4 h-.8 M381.7 86.5 h-.8 M381.7 80.5 h-.8 M381.7 77.4 h-.8 M381.7 75.2 h-.8 M381.7 73.6 h-.8 M381.7 72.2 h-.8 M381.7 71.0 h-.8 M381.7 70.0 h-.8 M381.7 69.1 h-.8 M381.7 63.0 h-.8 M381.7 60.0 h-.8 M381.7 57.8 h-.8 M381.7 56.1 h-.8 M381.7 54.7 h-.8 M381.7 53.6 h-.8 M381.7 52.5 h-.8 M381.7 51.6 h-.8 M381.7 45.6 h-.8 M381.7 42.5 h-.8 M381.7 40.3 h-.8 M381.7 38.7 h-.8 M381.7 37.3 h-.8 M381.7 36.1 h-.8 M381.7 35.1 h-.8 M381.7 34.2 h-.8 M381.7 28.1 h-.8 M381.7 25.1 h-.8 M381.7 22.9 h-.8 M381.7 21.2 h-.8 M381.7 19.8 h-.8 M381.7 18.7 h-.8 M381.7 17.6 h-.8 M381.7 16.7 h-.8" stroke="#777" stroke-width="0.35" fill="none"/>
<g font-family="Liberation Sans, sans-serif" font-size="3.2" fill="#333"><text x="381.4" y="144.9">10<tspan dy="-1.1" font-size="2.3">0</tspan></text><text x="398.8" y="144.9">10<tspan dy="-1.1" font-size="2.3">1</tspan></text><text x="416.3" y="144.9">10<tspan dy="-1.1" font-size="2.3">2</tspan></text><text x="433.8" y="144.9">10<tspan dy="-1.1" font-size="2.3">3</tspan></text><text x="451.2" y="144.9">10<tspan dy="-1.1" font-size="2.3">4</tspan></text><text x="468.6" y="144.9">10<tspan dy="-1.1" font-size="2.3">5</tspan></text><text x="486.1" y="144.9">10<tspan dy="-1.1" font-size="2.3">6</tspan></text><text x="503.5" y="144.9">10<tspan dy="-1.1" font-size="2.3">7</tspan></text><text x="379.7" y="139.4" text-anchor="end">10<tspan dy="-1.1" font-size="2.3">0</tspan></text><text x="379.7" y="122.0" text-anchor="end">10<tspan dy="-1.1" font-size="2.3">1</tspan></text><text x="379.7" y="104.5" text-anchor="end">10<tspan dy="-1.1" font-size="2.3">2</tspan></text><text x="379.7" y="87.1" text-anchor="end">10<tspan dy="-1.1" font-size="2.3">3</tspan></text><text x="379.7" y="69.6" text-anchor="end">10<tspan dy="-1.1" font-size="2.3">4</tspan></text><text x="379.7" y="52.2" text-anchor="end">10<tspan dy="-1.1" font-size="2.3">5</tspan></text><text x="379.7" y="34.7" text-anchor="end">10<tspan dy="-1.1" font-size="2.3">6</tspan></text><text x="379.7" y="17.3" text-anchor="end">10<tspan dy="-1.1" font-size="2.3">7</tspan></text></g>
<path clip-path="url(#c2)" d="M472.3 39.7l3-.3 2.4 .2 1.6 .4 .4 .3 .3 .3 .1 .3-.3 .6-.8 .6-1.3 .6-1.2 .3-1.6 .3-1.7 .2-1.8 0-1.5-.2-1.2-.3-.6-.3-.3-.3-.2-.3 .1-.3 .1-.3 .8-.6 .7-.4 1.6-.5zM475 50.5l1.8-.2 1.8 0 1.8 .2 1.5 .3 1.2 .4 1.2 .6 1 .8 .7 .9 .5 .9 .4 1.2 .2 1.2 0 1.5-.3 1.5-.4 1.5-.5 1.5-.9 1.8-1.3 2.4-1.7 2.4-2.1 2.7-2.1 2.4-2.4 2.4-2.8 2.6-9.4 7.9-3.3 3-2.7 3-4.3 5.7-2 2.4-2.3 2.4-2.7 2.5-3 2.2-3 2-3.3 1.9-3.6 1.7-3.9 1.6-3.3 1.1-3.6 .9-3.3 .6-3.3 .3-3.3 0-3-.2-2.7-.6-2.4-.7-2.4-1.2-2-1.3-1.5-1.5-.7-.9-.6-1.2-.4-.9-.3-1.2-.1-1.2 0-1.2 .3-1.2 .4-1.2 .8-1.8 1-1.5 1.3-1.5 2.4-2.7 1.1-1.5 .9-1.8 1.4-4.2 .9-2.1 1.4-2.1 .9-1.1 .9-.8 1.2-.9 1.2-.7 1.2-.5 1.2-.4 2.7-.5 5.1-.4 2.1-.4 3-.9 2.8-1.2 2.6-1.5 2.1-1.5 7.2-6.7 4.5-3.7 3.6-2.6 4.2-2.7 2.7-1.6 2.7-1.4 2.7-1.3 2.7-1.1 2.4-.9 2.4-.7 2.4-.6zM444.8 142.3l-.9-.6-.8-.9-.3-.9 .1-.9 .4-.9 .8-.8 1.2-.6 1.2-.2 1.2 .2 1.2 .5 .7 .6 .6 .9 .2 .6 0 .6-.3 .9-.8 .9-.9 .6M471.7 55.6l1.5-.1 1.5 .1 1.2 .2 1.2 .3 .9 .4 .8 .6 .6 .6 .5 .9 .3 .9 .2 .9 0 1.2-.2 1.2-.3 1.2-.6 1.5-1.4 2.7-1.7 2.4-2.2 2.7-3.3 3.6-3.3 3.3-2.6 2.3-2.1 1.7-7.3 5.3-2.1 1.8-1.7 1.9-3.7 5-2 2.4-2.3 2.4-2.8 2.4-2.7 2-2.7 1.7-2.7 1.6-3 1.5-3.3 1.4-2.7 .9-2.7 .8-2.7 .5-2.7 .3-2.7 0-2.7-.2-2.4-.5-2.1-.7-1.8-.8-1.5-1.1-1.4-1.4-.9-1.5-.3-.9-.2-.9-.1-1.8 .3-1.2 .3-.9 .7-1.5 .8-1.2 3.2-3.8 .9-1.3 .9-1.8 1.2-4.2 .8-2.1 .5-.9 .8-1.1 .9-1 .7-.6 1.1-.7 .9-.5 2.1-.8 2.4-.5 5.1-.3 2.7-.5 2.2-.6 2.8-.9 3.8-1.5 2-1.1 1.8-1.3 6.3-6.1 3.6-3.1 3.3-2.5 3.3-2.2 4.5-2.5 2.4-1.2 2.1-.8 2.1-.8 2.1-.6 1.8-.3zM469 59.2l1.5-.1 1.2 .1 1.2 .3 .9 .4 .9 .7 .5 .7 .4 .9 .1 .9 0 .9-.2 1.2-.3 1.2-.6 1.2-1.5 2.7-3 4.5-1.8 2.4-1.8 2.1-2.1 2.1-2.3 2-1.8 1.4-2.4 1.6-7.4 4.3-1.3 .9-.7 .6-1.1 1.2-3 4.2-1.9 2.4-2.6 2.6-3 2.5-2.4 1.8-2.4 1.6-2.4 1.5-2.4 1.2-2.1 1-2.4 .9-2.4 .7-2.4 .4-2.4 .3-2.4 .1-2.1-.2-2.1-.4-2.1-.6-1.5-.8-1.3-.9-1.2-1.2-.9-1.5-.4-1.5 0-1.5 .5-1.8 .6-1.2 .8-1.2 2.8-3.5 .9-1.3 .8-1.8 1.1-4.2 .7-1.8 1.1-1.8 .8-.9 .9-.8 1.8-1.1 2.1-.7 2.1-.3 5.1-.3 2.1-.4 8.1-2.2 2.7-.9 1.4-.8 1.3-1 5.7-5.5 4.2-3.6 3-2.3 2.7-1.8 3.6-2.1 3.9-1.8 1.8-.7 1.8-.5zM465.6 62.5l1.3-.1 1.2 0 .9 .1 .9 .3 .6 .4 .6 .6 .4 .8 .2 .9-.1 1.2-.2 1.2-.7 2.1-.7 2.1-1.5 3-1.8 2.7-1.5 1.8-1.9 1.9-2.1 1.8-2.4 1.8-2.1 1.3-2.1 1.2-2.4 1.2-4.9 2.2-1.1 .6-.9 .6-1.1 1.2-2.8 3.9-2.3 2.7-3.1 3-3.9 3.3-2 1.5-1.8 1.2-1.9 1.1-1.8 .9-2.1 .8-1.8 .6-2.1 .5-1.8 .3-2.1 .2-1.8 0-1.8-.2-1.8-.4-1.5-.5-1.2-.6-1.2-.8-1-1-.7-1.2-.4-1.5 0-1.5 .4-1.5 .4-.9 .8-1.2 2.6-3.3 1-1.5 .7-1.8 .9-3.6 .6-1.8 1-1.8 .8-.9 .7-.7 .9-.6 .9-.5 2.1-.7 1.8-.2 4.2-.2 2.4-.3 6-1.5 3.6-.7 1.8-.6 .9-.6 1.2-.9 4.5-4.5 2.7-2.3 3-2.4 3-2 3.9-2.4 3.6-1.9 3-1.2zM463.4 65.5l1.4-.1 1.2 .2 .9 .3 .9 .7 .6 1 .3 1.2 .2 1.5-.2 1.5-.4 1.5-.6 1.5-.8 1.5-1 1.5-1.2 1.5-1.4 1.5-1.5 1.4-1.5 1.2-3 2.1-3.3 1.8-3.3 1.5-6.3 2.2-1.5 .9-1.2 1.2-1.9 2.7-1.8 2.1-6.4 6.6-2 1.8-1.9 1.5-1.9 1.2-2.1 1.1-2.7 1.1-2.4 .7-2.7 .4-2.7 .1-2.4-.3-2.1-.7-1.7-.9-.7-.6-.6-.6-.7-1.2-.3-1.2 0-1.2 .4-1.5 .9-1.8 2.6-3.3 1-1.5 .7-1.8 .7-3.6 .7-1.8 .4-.9 .7-.9 1.3-1.3 .9-.6 .9-.4 1.8-.5 1.5-.2 3.9-.1 2.1-.2 6-1.3 4.2-.7 1.2-.4 .9-.4 1.2-1 4-4.3 2.3-2.2 2.4-2 2.4-1.7 3.6-2.1 3.6-1.7 3.3-1.3 1.8-.5zM462.4 67.3l1.2 0 1.2 .3 .9 .4 .9 .7 .6 .9 .3 .9 .1 1 0 1.2-.3 1.2-.6 1.5-.8 1.5-.8 1.2-1 1.2-1.4 1.5-1.5 1.4-1.5 1.1-1.8 1.3-1.8 1.1-1.8 1-2.1 .9-3.9 1.4-5.5 1.4-1.1 .4-.8 .5-.9 .9-1.8 2.4-1.2 1.5-4 4.2-3.1 3.6-1.4 1.5-1.3 1.2-1.4 1.1-1.5 1-1.5 .8-2.1 .9-2.4 .7-2.4 .3-2.4 .1-2.1-.3-1.8-.5-1.5-.8-.7-.6-.6-.6-.5-.9-.3-1.2 0-1.2 .3-1.2 1-1.8 2.3-3 .9-1.5 .7-1.8 .7-3.6 .5-1.5 .5-.9 .6-.9 1.2-1.2 1.5-.8 1.8-.5 1.5-.2 3.6-.1 1.8-.1 6-1.2 4.5-.5 1.2-.3 .9-.5 .9-.7 3.9-4.7 2.4-2.4 2.4-2.1 2.4-1.7 3.6-2.1 3.3-1.4 1.8-.6 1.5-.4 1.5-.3zM459.7 68.5l1.5-.2 1.5 .1 1.2 .2 .9 .4 .9 .7 .5 .6 .4 .9 .1 1.2-.1 1.2-.3 1.2-.5 1.2-.9 1.5-1.1 1.5-1.1 1.2-1.5 1.4-1.5 1.3-2.1 1.5-2.1 1.2-2.1 1.1-2.4 .9-2.1 .7-2.1 .5-6 .8-.9 .3-.6 .4-.9 .9-1.5 2.2-1.2 1.5-3.7 3.6-1.1 1.2-2.7 3.9-1.5 1.8-.9 .9-1.2 1-1.2 .8-1.5 .8-1.8 .8-2.1 .6-2.1 .3-2.1 .1-1.8-.3-1.8-.5-1.5-.9-.8-.9-.5-.9-.2-.9 0-.9 .3-1.2 .8-1.5 2.2-3 .9-1.5 .7-1.8 .6-3.3 .5-1.6 .4-.8 .5-.8 1.2-1.2 1.5-.8 1.8-.4 1.5-.2 4.5 0 1.8-.3 4.8-.9 1.8-.1 2.7 0 1.2-.2 .9-.6 .6-.6 3.1-4.4 2-2.4 2.1-2.1 2.1-1.7 3-2 3-1.6 3-1.1zM460.2 69.1l1 0 1.2 .1 .9 .2 .9 .3 .7 .6 .5 .6 .4 .9 .2 .9-.1 .9-.2 1.2-.4 .9-.6 1.2-.8 1.2-.9 1.2-1.1 1.2-1.3 1.2-2.7 2.1-2.7 1.6-3 1.4-3 1-3 .6-1.5 .1-1.5 0-1.2 0-1.2-.3-.9-.3-.6-.5-.2-.6 .1-1.2 .8-1.8 .9-1.8 1.2-1.8 1.2-1.5 1.3-1.5 1.6-1.5 1.5-1.2 1.8-1.3 2.1-1.2 1.8-.9 1.5-.7 1.8-.6 1.8-.5zM430 87.4l1.5-.1 1.5 0 1.2 .2 1.3 .5 .5 .3 .4 .6 .1 .6-.1 .9-.3 .9-.5 .9-1.1 1.5-1.2 1.3-3 2.5-1.2 1.3-.7 1.2-1.9 3.6-.9 1.2-.8 .9-1.7 1.4-1.8 1.1-2.1 .9-2.4 .6-2.1 .2-2.1-.3-1.8-.5-.7-.4-.7-.6-.7-.9-.3-.9 0-.9 .1-.9 .4-.9 .5-.9 2.2-3 .9-1.5 .5-1.5 .6-3.3 .3-1.2 .6-1.2 .8-1 .6-.6 .9-.5 .9-.3 .9-.2 1.5-.2 3.6 .1 1.5-.1zM459.8 69.7l2 0 .9 .2 .9 .4 .8 .6 .4 .6 .3 .6 .2 .9 0 .9-.2 .9-.3 .9-.6 1.2-1.5 2.1-2 2.1-2.5 2-2.7 1.7-3 1.5-2.7 .9-2.7 .6-1.5 .1-1.2 0-1.2-.1-.9-.2-.6-.3-.7-.5-.2-.3-.3-.6 0-.9 .3-1.2 .5-1.2 .8-1.5 1.2-1.8 1.3-1.5 1.5-1.5 1.6-1.3 1.8-1.3 1.8-1.1 1.8-1 1.8-.7 1.8-.6 1.5-.4zM428.7 88.9l1.3-.1 1.2 0 .9 .1 .6 .2 .5 .4 .4 .6 .1 .6 0 .6-.4 .9-1 1.2-3.5 2.8-1.3 1.4-.9 1.5-1 3-.6 1.2-.7 1.2-.9 1-1.2 1.1-1.8 1.1-1.8 .7-1.8 .4-1.8 .2-1.8-.2-1.5-.4-.6-.4-.7-.5-.4-.6-.4-.9 0-.9 .2-.9 .8-1.5 2.2-3 .8-1.5 .5-1.5 .4-2.7 .2-1.2 .6-1.2 .6-.9 .8-.6 .7-.4 .9-.3 .9-.2 1.5-.1 4.5 .2zM458.8 70.3l2.1-.1 .9 .2 .9 .3 .6 .3 .6 .5 .4 .6 .3 .9 0 .9-.1 .9-.7 1.8-1.3 2.1-1.9 2-2.2 1.9-2.6 1.7-2.7 1.3-2.7 1-2.7 .6-2.4 .2-1.2-.2-.9-.2-.6-.3-.6-.5-.4-.6-.2-.9 .2-1.2 .4-1.2 .6-1.2 1-1.5 1.3-1.5 1.1-1.2 1.4-1.2 1.5-1.2 1.5-1 1.8-1 1.8-.8 1.5-.6 1.8-.5zM418.6 90.4l1.2-.2 1.2 0 4.2 .7 3 .3 .5 .1 .5 .3 .1 .3-.1 .3-.6 .9-2.2 2.3-1.1 1.6-.6 1.5-.7 3.3-.4 1.2-.7 1.2-1 1.2-.9 .8-1.1 .7-1 .5-1.2 .4-1.2 .2-1.2 .1-1.2-.1-.9-.2-1.2-.6-.4-.3-.4-.6-.3-.9 0-.6 .1-.6 .7-1.3 2.3-3.2 .8-1.5 .4-1.5 .4-3 .3-.9 .3-.6 .4-.6 .7-.6 .7-.4zM457.8 70.9l2.2-.2 .9 .1 .9 .2 .6 .3 .7 .5 .5 .6 .3 .6 .1 .6 0 .9-.2 .9-.3 .9-1.1 1.8-1.8 2.1-2 1.8-2.5 1.7-2.4 1.3-2.7 1-2.4 .6-2.4 .3-1.2-.1-.9-.3-.7-.3-.5-.4-.4-.5-.2-.9 0-.9 .3-1.2 .6-1.2 .7-1.2 1.2-1.5 1.1-1.2 1.3-1.2 1.4-1.1 1.5-1 1.5-.9 3-1.3 1.5-.5zM418.7 91.9l.8-.2 .6-.1 1.5 .3 1.3 .6 .3 .3 .4 .6 .1 .6-.1 .6-.8 2.4-.3 1.2-.3 3.3-.2 1.2-.5 1.2-.7 .9-1 .9-.9 .5-1.2 .5-1.2 .3-1.2 0-1.2-.2-.9-.4-.6-.7-.2-.9 .2-.9 .6-1.2 2.1-2.7 .8-1.2 .6-1.5 .2-2.7 .2-.9 .3-.6 .3-.5 .5-.4zM456.9 71.5l2.2-.3 1.8 .2 .9 .3 .6 .4 .3 .3 .4 .6 .2 .6 .1 .9-.4 1.5-.9 1.8-.9 1.2-.8 .9-2 1.8-2.3 1.6-2.7 1.4-2.3 .9-2.5 .6-2.1 .1-.9-.1-.9-.2-.6-.3-.5-.4-.4-.6-.2-.9 .1-.9 .3-.9 .4-.9 .7-1.2 .9-1.2 1.1-1.2 2.4-2.1 2.7-1.8 2.7-1.3zM417.7 100.6l.9-.2 .6 .2 .3 .4 .3 .7 .1 .7-.1 .6-.3 .6-.4 .6-.5 .4-1.2 .7-1.2 .2-.6 0-.6-.3-.3-.3-.2-.4 0-.6 .3-.6 .5-.8 .6-.6 .9-.8zM457.7 71.8l2 0 1.4 .3 .5 .3 .5 .4 .3 .5 .2 .6 .1 .6-.1 .9-.5 1.5-1.2 1.8-1.4 1.5-1.7 1.5-2.3 1.5-2.4 1.2-2.1 .8-2.1 .5-1.8 .1-1.5-.3-.6-.2-.6-.5-.5-.7-.1-.6 .1-.9 .2-.9 .6-1.2 .6-.9 .9-1.2 1.1-1.2 1-.9 1.5-1.1 2.6-1.6 2.8-1.2 1.2-.3zM456.9 72.4l1.6-.2 1.5 .2 .6 .2 .6 .4 .3 .4 .3 .5 .2 .6 0 .6-.1 .6-.3 .9-.9 1.5-1.2 1.5-1.7 1.5-1.7 1.2-2.1 1.2-2.1 .9-2.1 .6-1.8 .2-1.5-.2-.8-.3-.4-.3-.5-.6-.1-.6 0-.6 .1-.9 .4-.9 .5-.9 .8-1.1 .8-1 2-1.8 2.6-1.7 2.7-1.3zM456.4 73l1.5-.2 1.5 .2 .9 .4 .3 .3 .4 .5 .1 .6 .1 .6-.3 1.2-.9 1.5-1 1.2-1.6 1.5-1.7 1.2-1.7 .9-2.1 .9-1.8 .5-1.5 .1-.9 0-.6-.1-.9-.5-.3-.4-.2-.5-.1-.6 .1-.9 .4-.9 .5-.9 1.4-1.8 1.7-1.5 2.2-1.5 2.4-1.2zM456.4 73.6l1.2-.1 1.2 .2 .5 .2 .4 .3 .4 .6 .1 .9-.4 1.2-.7 1.2-.9 1.1-1.2 1-1.6 1.2-1.7 .9-1.5 .6-1.5 .4-1.5 .2-1.2-.2-.8-.4-.2-.3-.2-.6 0-.6 .1-.6 .8-1.5 1.2-1.5 1.6-1.5 1.9-1.2 1.9-.9zM455.8 74.5l.9-.1 .9 .1 .7 .3 .5 .6 0 .6-.2 .9-.6 .9-.7 .8-1.1 1-1 .7-1.5 .8-1.2 .4-1.2 .4-.9 .1-.9-.1-.6-.4-.2-.4-.1-.3 .1-.9 .6-1.2 1-1.2 1.1-.9 1.4-.9 1.8-.9z" fill="none" stroke="#2a2a2a" stroke-width="0.55"/>
<path d="M467.0 12.4 V139.3 M381.7 61.0 H508.6" stroke="#1c1c1c" stroke-width="0.9" fill="none"/>
<g font-family="Liberation Sans, sans-serif" font-size="5.0" fill="#2a2a2a" stroke="#2a2a2a" stroke-width="0.14"><text x="384.3" y="22.4">Q1</text><text x="384.3" y="29.7">0.85</text><text x="497.6" y="22.4" text-anchor="end">Q2</text><text x="497.6" y="29.7" text-anchor="end">3.31</text><text x="497.6" y="125.8" text-anchor="end">Q3</text><text x="497.6" y="133.1" text-anchor="end">4.70</text><text x="384.3" y="125.8">Q4</text><text x="384.3" y="133.1">91.1</text></g>
<text x="364.0" y="10.6" font-family="Liberation Sans, sans-serif" font-size="12.2" font-weight="bold" fill="#000">C</text>
<path d="M365.3 120.5 V47.2 H361.6 L368.5 38.9 L375.4 47.2 H371.6 V120.5 Z" fill="#000"/>
<path d="M396.7 146.0 H470.0 V142.9 L478.2 149.4 L470.0 155.8 V152.4 H396.7 Z" fill="#000"/>
<text x="391.2" y="165.9" font-family="Liberation Sans, sans-serif" font-size="8.5" font-weight="bold" fill="#0a0a0a" stroke="#0a0a0a" stroke-width="0.28" textLength="84.1" lengthAdjust="spacingAndGlyphs">Apoptotic cells staining</text>
<text transform="translate(360.9 116.7) rotate(-90)" font-family="Liberation Sans, sans-serif" font-size="8.5" font-weight="bold" fill="#0a0a0a" stroke="#0a0a0a" stroke-width="0.28" textLength="67.2" lengthAdjust="spacingAndGlyphs">Dead cells staining</text>
<clipPath id="c3"><rect x="556.9" y="14.3" width="126.8" height="126.1"/></clipPath>
<rect x="556.9" y="14.3" width="126.8" height="126.1" fill="#fff" stroke="#9a9a9a" stroke-width="0.5"/>
<path d="M556.9 14.3 V140.4 H683.7" fill="none" stroke="#8a8a8a" stroke-width="0.5"/>
<path d="M557.2 140.4 v1.5 M574.6 140.4 v1.5 M592.1 140.4 v1.5 M609.5 140.4 v1.5 M627.0 140.4 v1.5 M644.4 140.4 v1.5 M661.9 140.4 v1.5 M679.3 140.4 v1.5 M556.9 139.2 h-1.5 M556.9 121.8 h-1.5 M556.9 104.3 h-1.5 M556.9 86.9 h-1.5 M556.9 69.4 h-1.5 M556.9 52.0 h-1.5 M556.9 34.5 h-1.5 M556.9 17.1 h-1.5" stroke="#555" stroke-width="0.5" fill="none"/>
<path d="M562.5 140.4 v.8 M565.5 140.4 v.8 M567.7 140.4 v.8 M569.4 140.4 v.8 M570.8 140.4 v.8 M571.9 140.4 v.8 M573.0 140.4 v.8 M573.9 140.4 v.8 M579.9 140.4 v.8 M583.0 140.4 v.8 M585.2 140.4 v.8 M586.8 140.4 v.8 M588.2 140.4 v.8 M589.4 140.4 v.8 M590.4 140.4 v.8 M591.3 140.4 v.8 M597.4 140.4 v.8 M600.4 140.4 v.8 M602.6 140.4 v.8 M604.3 140.4 v.8 M605.7 140.4 v.8 M606.8 140.4 v.8 M607.9 140.4 v.8 M608.8 140.4 v.8 M614.8 140.4 v.8 M617.9 140.4 v.8 M620.1 140.4 v.8 M621.7 140.4 v.8 M623.1 140.4 v.8 M624.3 140.4 v.8 M625.3 140.4 v.8 M626.2 140.4 v.8 M632.3 140.4 v.8 M635.3 140.4 v.8 M637.5 140.4 v.8 M639.2 140.4 v.8 M640.6 140.4 v.8 M641.7 140.4 v.8 M642.8 140.4 v.8 M643.7 140.4 v.8 M649.7 140.4 v.8 M652.8 140.4 v.8 M655.0 140.4 v.8 M656.6 140.4 v.8 M658.0 140.4 v.8 M659.2 140.4 v.8 M660.2 140.4 v.8 M661.1 140.4 v.8 M667.2 140.4 v.8 M670.2 140.4 v.8 M672.4 140.4 v.8 M674.1 140.4 v.8 M675.5 140.4 v.8 M676.6 140.4 v.8 M677.7 140.4 v.8 M678.6 140.4 v.8 M556.9 133.9 h-.8 M556.9 130.9 h-.8 M556.9 128.7 h-.8 M556.9 127.0 h-.8 M556.9 125.6 h-.8 M556.9 124.5 h-.8 M556.9 123.4 h-.8 M556.9 122.5 h-.8 M556.9 116.5 h-.8 M556.9 113.4 h-.8 M556.9 111.2 h-.8 M556.9 109.6 h-.8 M556.9 108.2 h-.8 M556.9 107.0 h-.8 M556.9 106.0 h-.8 M556.9 105.1 h-.8 M556.9 99.0 h-.8 M556.9 96.0 h-.8 M556.9 93.8 h-.8 M556.9 92.1 h-.8 M556.9 90.7 h-.8 M556.9 89.6 h-.8 M556.9 88.5 h-.8 M556.9 87.6 h-.8 M556.9 81.6 h-.8 M556.9 78.5 h-.8 M556.9 76.3 h-.8 M556.9 74.7 h-.8 M556.9 73.3 h-.8 M556.9 72.1 h-.8 M556.9 71.1 h-.8 M556.9 70.2 h-.8 M556.9 64.1 h-.8 M556.9 61.1 h-.8 M556.9 58.9 h-.8 M556.9 57.2 h-.8 M556.9 55.8 h-.8 M556.9 54.7 h-.8 M556.9 53.6 h-.8 M556.9 52.7 h-.8 M556.9 46.7 h-.8 M556.9 43.6 h-.8 M556.9 41.4 h-.8 M556.9 39.8 h-.8 M556.9 38.4 h-.8 M556.9 37.2 h-.8 M556.9 36.2 h-.8 M556.9 35.3 h-.8 M556.9 29.2 h-.8 M556.9 26.2 h-.8 M556.9 24.0 h-.8 M556.9 22.3 h-.8 M556.9 20.9 h-.8 M556.9 19.8 h-.8 M556.9 18.7 h-.8 M556.9 17.8 h-.8" stroke="#777" stroke-width="0.35" fill="none"/>
<g font-family="Liberation Sans, sans-serif" font-size="3.2" fill="#333"><text x="556.6" y="146.0">10<tspan dy="-1.1" font-size="2.3">0</tspan></text><text x="574.0" y="146.0">10<tspan dy="-1.1" font-size="2.3">1</tspan></text><text x="591.5" y="146.0">10<tspan dy="-1.1" font-size="2.3">2</tspan></text><text x="608.9" y="146.0">10<tspan dy="-1.1" font-size="2.3">3</tspan></text><text x="626.4" y="146.0">10<tspan dy="-1.1" font-size="2.3">4</tspan></text><text x="643.8" y="146.0">10<tspan dy="-1.1" font-size="2.3">5</tspan></text><text x="661.3" y="146.0">10<tspan dy="-1.1" font-size="2.3">6</tspan></text><text x="678.7" y="146.0">10<tspan dy="-1.1" font-size="2.3">7</tspan></text><text x="554.9" y="140.5" text-anchor="end">10<tspan dy="-1.1" font-size="2.3">0</tspan></text><text x="554.9" y="123.1" text-anchor="end">10<tspan dy="-1.1" font-size="2.3">1</tspan></text><text x="554.9" y="105.6" text-anchor="end">10<tspan dy="-1.1" font-size="2.3">2</tspan></text><text x="554.9" y="88.2" text-anchor="end">10<tspan dy="-1.1" font-size="2.3">3</tspan></text><text x="554.9" y="70.7" text-anchor="end">10<tspan dy="-1.1" font-size="2.3">4</tspan></text><text x="554.9" y="53.3" text-anchor="end">10<tspan dy="-1.1" font-size="2.3">5</tspan></text><text x="554.9" y="35.8" text-anchor="end">10<tspan dy="-1.1" font-size="2.3">6</tspan></text><text x="554.9" y="18.4" text-anchor="end">10<tspan dy="-1.1" font-size="2.3">7</tspan></text></g>
<path clip-path="url(#c3)" d="M658.4 46.1l1.7-.3 .9 .1 .9 .1 .6 .3 .8 .4 1 1 .3 .5 .4 .9 .3 .9 .1 .9-.1 1.8-.5 2.1-.9 2.1-1 1.8-1.2 1.8-2.8 3.6-1.2 2.1-5.5 13.5-.9 2.1-1 1.8-1.3 2.1-1.5 2.1-1.8 2.1-2.1 2-2.4 2.1-2.4 1.8-2.7 1.7-2.7 1.6-3.6 1.8-10.8 5-8.2 3.5-2.3 1.2-3 1.8-1.6 1.2-1.3 1.2-1 1.2-2.1 3-1.8 2-1.8 1.4-2.1 1.2-1.8 .7-2.1 .4-2.1 .1-2.1-.2-2.1-.6-2.1-1-1.8-1.2-1.3-1.3-1-1.2-.6-.9-.6-1.2-.6-1.5-.4-1.5-.2-1.5 .1-1.5 .1-1.5 .7-2.4 .6-1.2 .7-1.2 1.6-2 3-3.1 .5-.6 .3-.6 .1-.6 0-.9-1-3.9-.5-2.7 0-2.7 .3-2.7 .8-3 1.1-2.7 1.5-2.4 1-1.2 .9-.9 1.3-1.1 1.2-.7 1.5-.7 1.2-.3 1.5-.2 1.5 0 1.2 .2 1.5 .6 1.2 .6 1.2 .9 1 1 1 1.2 1.4 2.4 2 4.7 .6 .9 .3 .2 .6 .2 .9-.2 .9-.5 1.2-1.1 4.7-5.4 2.5-2.5 2.7-2.4 3-2.2 2.7-1.7 3-1.5 3.3-1.4 6.3-2 1.5-.7 1.8-1.2 1.8-1.5 1.8-1.8 1.2-1.5 3.4-4.8 1.1-1.3 1.2-1.2 1.5-1.3 1.8-1.2 1.5-.8zM553.9 70.4l1.2-.8 .6-.3 .9-.1 .6 0 .9 .1 1.2 .6 1.2 1.1 .9 1.5 .7 1.8 .2 2.1-.2 2.1-.6 1.8-.8 1.5-1.1 1.1-.9 .5-.6 .3-.6 .1-.9 0-.6 0-.9-.4-1.2-.8M570.1 139.1l.6-.1 .9 0 .9 .3 .6 .4 .5 .6 .1 .6 0 .6-.4 .6-.8 .6-1.2 .3-1.2-.1-.6-.2-.6-.4-.6-.8 0-.3 0-.6 .3-.6 .3-.3 .6-.4zM593.8 143.3l-.6-.3-.6-.3-.6-.6-.3-.6-.1-.6 .1-.6 .5-.9 .6-.6 .7-.4 .9-.4 2.1-.7 .6-.3 .6-.4 2-2 1.9-1.3 1.5-.7 1.5-.6 2.1-.6 2.1-.5 4.5-.6 4.8-.2 3 .1 2.7 .2 3 .4 2.4 .4 2.7 .6 2.7 .8 2.4 .9 2.1 .9 1.8 1.1 1.5 1 1.2 1.1 .9 1.2 .5 1.2 .2 1.2-.2 1.2-.4 .9M600 143.3l-.8-.1-1.2 .1M657.7 48.5l1.5-.2 .9 0 .6 .2 1.1 .6 .7 .8 .5 1.3 .1 1.2-.1 1.5-.6 1.8-.6 1.5-1.2 1.8-1.1 1.5-2.6 3-1.2 1.8-2.3 5.1-2.7 5.1-2.4 5.4-1.6 2.7-1.2 1.8-1.4 1.8-1.6 1.8-1.6 1.5-2.1 1.8-2.1 1.5-2.4 1.6-2.7 1.6-13.2 6.9-3 1.4-6.3 2.6-2.4 1.2-2.1 1.3-1.8 1.4-1.2 1.2-.9 1.3-2.1 3.2-1.5 1.8-1.8 1.6-.9 .6-1.2 .7-1.8 .6-1.8 .4-1.8 0-1.8-.1-1.8-.5-1.5-.7-1.5-.9-1.5-1.4-.8-.9-.8-1.2-.6-1.2-.4-1.2-.3-1.2-.2-1.5 .1-1.2 .2-1.5 .3-1.2 .6-1.5 .7-1.2 .9-1.2 .9-1 1.2-1 3.7-2.8 .6-.6 .3-.6 0-.6-.1-.9-1.4-3.3-.6-2.1-.3-2.4 0-2.4 .2-1.5 .4-1.5 .9-2.4 1.2-2.1 .8-1 .9-.9 1.2-.9 1.2-.7 1.2-.5 1.5-.3 1.2 0 1.2 .3 1.2 .4 1.2 .7 .9 .8 1.1 1.2 .8 1.2 .7 1.5 .5 1.5 .3 1.2 .7 4.5 .4 1.2 .3 .4 .6 .2 .6 0 .9-.3 2.1-1.1 2.3-1.9 1.8-1.8 4.1-4.8 2.3-2.4 2.7-2.5 3-2.3 2.7-1.7 3-1.5 3-1.1 6-1.9 1.5-.7 1.2-.8 2.4-2.3 2.7-2.9 1.2-1.7 2.5-4 .9-1.2 1.1-1.3 1.2-1.2 1.5-1.1 1.5-.8zM553.9 72.8l.9-1 .6-.4 .6-.3 1.2-.1 .6 .1 .6 .3 1 .8 .9 1.2 .5 1.5 .2 1.5-.2 1.5-.4 1.5-.8 1.2-.6 .6-.6 .4-.6 .3-.6 .1-.6 0-.6-.1-.6-.3-.6-.4-.9-1M605.7 143.3l-1.3-.9-1-.9-.9-1.2-.3-.9 0-.9 .2-.9 .4-.9 .9-.9 1.2-.9 1.2-.7 1.8-.7 1.8-.5 2.1-.4 2.1-.3 2.4-.2 2.4-.1 2.4 .1 2.7 .2 4.5 .7 2.1 .5 2.1 .7 1.8 .6 1.8 .9 1.5 .9 1.2 1 .9 .9 .5 .9 .3 .9 .1 1.2-.4 .9-.6 .9M658.3 50l.9 0 .9 .4 .7 .5 .5 .9 .2 .9 0 1.2-.2 1.2-.6 1.5-.7 1.2-.9 1.2-1.1 1.3-2.4 2.6-1.4 1.8-2.3 4.8-2.7 4.8-2.7 6.3-1.6 2.7-1 1.5-1.5 1.8-1.4 1.5-1.6 1.5-3 2.4-3.3 2.2-2.7 1.5-6.4 3.5-5.6 3.2-3.6 1.8-7.2 2.8-2.1 1-1.8 1.1-1.5 1.2-1.2 1.4-.9 1.3-1.9 3.3-1.6 2.1-.9 .9-1 .8-1.8 1.1-1.5 .6-1.8 .3-1.8 .1-1.5-.1-1.8-.5-1.5-.7-1.5-1-1.2-1.2-1-1.2-.6-1.2-.6-1.5-.3-1.5-.1-1.5 .1-1.5 .3-1.2 .6-1.5 .7-1.2 .6-.9 .9-1 1.2-1 2.4-1.6 4.4-2.1 .7-.6 .2-.3 0-.3-.2-.6-2.1-2.7-.6-.9-.6-1.2-.7-2.1-.3-2.4 0-1.2 .2-1.5 .3-1.5 .5-1.2 .5-1.2 .7-1.1 .8-1 .7-.8 1.2-.9 1.2-.6 1.2-.3 1.2-.1 1.2 .2 1.2 .4 1.2 .8 .9 .8 .9 1.3 .7 1.3 .5 1.5 .3 1.5 .2 1.5 0 1.5-.4 4.5 0 1.2 .2 .5 .3 .1 .6 0 .9-.3 1.5-.8 2.4-1.5 2.6-1.9 1.9-1.5 2.4-2.3 4.3-4.9 2.3-2.4 2.7-2.4 2.7-2 2.7-1.7 3-1.5 3.3-1.2 5.4-1.5 1.5-.6 1.1-.8 1.9-1.8 3.6-4.1 1-1.6 2.3-4.2 .9-1.2 1-1.2 1.3-1.2 1.3-.9 1.5-.7zM553.9 75.5l.4-1.2 .3-.6 .5-.6 .9-.6 .6-.2 .6 0 .6 .2 .5 .3 .9 .9 .6 1.2 .2 1.5-.2 1.5-.5 1.2-.4 .6-.5 .5-.6 .3-.6 .2-.6 0-.6-.2-.9-.6-.8-1.1-.4-1.3M609.1 143.3l-1.2-.7-1-.8-.9-.9-.5-.9-.3-.9 .1-.9 .4-.9 .5-.6 .8-.7 1.2-.7 1.5-.7 1.5-.4 1.8-.4 1.8-.3 2.1-.2 2.1-.1 4.2 .2 4.2 .7 2.1 .5 1.8 .6 1.5 .7 1.5 .7 1 .7 1.1 .9 .7 .9 .4 .9 .1 .9-.2 .9-.6 .9-.6 .6M656.5 51.8l1.2-.3 .9 .1 .6 .3 .6 .7 .3 .9 0 1-.2 .9-.5 1.2-.7 1.2-1 1.2-1.2 1.2-2.7 2.4-1 1.2-.7 1.2-1.6 3.6-2.4 4.2-.6 1.6-1.4 4.1-.7 1.5-.7 1.5-1.2 1.8-1.4 1.8-1.5 1.7-1.8 1.7-2.7 2.2-3 2-2.7 1.6-6.6 3.7-6.6 3.9-1.8 .9-1.8 .8-7.5 2.6-1.6 .8-1.4 .8-1.2 1-1.2 1.3-.9 1.5-2.1 3.8-1.4 2.1-1.6 1.5-1.8 1.2-1.5 .7-1.5 .4-1.8 .1-1.5-.1-1.8-.5-1.5-.7-1.2-.8-1.2-1.2-1.1-1.5-.8-1.8-.4-1.8 0-1.8 .3-1.8 .7-1.8 1-1.5 1.5-1.5 1.2-.9 1.2-.7 1.5-.7 1.8-.6 1.5-.3 1.5-.1 3.9 .1 1.4-.1 1.3-.3 1.5-.9 1.5-1.2 3-3 1.7-1.5 1.8-1.5 4.4-3.3 1.8-1.5 1.7-1.8 3.7-4.2 2-2.1 2.4-2.3 2.7-2.1 3.3-2.1 3-1.4 1.8-.7 1.8-.5 5.7-1.4 1.4-.6 1.3-.9 4.4-4.8 1-1.2 .8-1.5 1.7-3.9 .6-1.2 .7-.9 .8-.9 .8-.7 .9-.7zM556.2 73.7l.4-.1 .6 0 .8 .4 .7 .9 .3 .9 0 1.2-.3 1.1-.6 .9-.3 .2-.6 .2-.9-.1-.6-.3-.6-.8-.3-1 0-1.1 .2-.9 .5-.9zM592 79.4l1.2-.2 1.5 .1 1.2 .5 1.1 .8 1 1.2 .6 1.2 .5 1.5 .3 1.8 0 1.8-.4 2.1-.6 1.8-.7 1.4-.9 1.1-1.2 1-1.2 .6-1.2 .2-1.2-.1-1.2-.4-1.2-.8-.9-.9-.8-1.2-.6-1.2-.4-1.2-.2-1.5 0-1.5 .2-1.5 .4-1.5 .7-1.5 .7-1.1 .9-1.1 1.2-.9zM612.1 143.3l-1.5-.7-1.1-.8-.7-.6-.7-.9-.4-.9 0-.6 .3-.9 .4-.6 .6-.6 .9-.6 1.3-.6 1.2-.4 1.5-.4 1.8-.2 3.6-.3 3.9 .2 3.6 .7 1.8 .4 1.5 .6 1.5 .6 1 .6 .9 .6 .9 .9 .4 .6 .3 .9-.1 .9-.2 .6-.8 .9-.8 .6M656.6 53.3l.5-.1 .6 .1 .5 .3 .2 .3 .2 .6 0 .6-.3 .9-.2 .6-1 1.4-1.5 1.3-1.5 .8-.6 .1-.3-.1-.3-.1-.2-.4-.1-.6 .1-1.2 .5-1.3 .7-1.1 .8-1 .9-.7zM643.9 70.4l1.2-.2 .6 .1 .3 .2 .2 .8 0 1.8-.3 2.4-.5 2.1-.7 1.8-.6 1.2-.9 1.5-1 1.5-1 1.2-2.4 2.5-3 2.4-1.8 1.3-2.4 1.5-7.8 4.3-6 3.7-2.4 1.3-1.8 .8-1.8 .7-7.2 2-1.5 .6-.9 .6-1.2 1.1-.8 1.2-2.7 5.4-1.5 2.4-.7 .9-1 .9-1.1 .8-.9 .5-1.5 .6-1.5 .3-1.8 0-1.5-.2-1.5-.5-1.5-.9-1.1-.9-1-1.2-.9-1.5-.5-1.5-.2-1.5 .1-1.8 .4-1.5 .8-1.6 1-1.4 1.4-1.3 1.2-.8 1.2-.6 1.5-.5 1.5-.3 1.2-.2 1.5 0 4.5 .5 1.5 .1 1.2-.2 1.2-.5 .6-.4 .9-.8 3.1-4 1.6-1.8 2-1.8 4.5-3.3 2-1.7 1.8-1.9 3.6-4.2 2-2.1 2.2-2.1 2.4-1.9 1.8-1.2 2.1-1.2 2.1-1 1.8-.7 1.8-.5 2.1-.5zM556.6 75.2l.3-.1 .3 .1 .3 .2 .3 .4 .1 .6-.1 .6-.1 .3-.2 .3-.3 .2-.3 .1-.3-.1-.3-.2-.3-.5-.1-.4 .1-.9 .3-.4zM593.1 80.9l1 .1 .9 .2 .9 .6 .8 .9 .6 .9 .4 1.2 .3 1.2 0 1.5-.2 1.5-.3 1.2-.5 1.2-.6 .9-.8 .8-.9 .7-.9 .3-1.2 .1-.9-.1-.9-.4-.9-.7-.6-.7-.6-1-.4-1.1-.2-1.2-.1-1.2 .1-1.2 .3-1.2 .5-1.2 .7-1.2 .9-.9 .8-.6 1-.4zM615.2 143.3l-1.6-.6-1.2-.6-1-.6-.6-.6-.5-.6-.3-.9 0-.6 .2-.6 .4-.6 .7-.6 1.1-.6 1.2-.4 2.7-.6 3.3-.3 3.6 .3 3.3 .6 1.5 .4 1.5 .6 1.1 .6 .9 .6 .6 .6 .5 .6 .3 .9-.1 .6-.2 .6-.5 .6-.8 .6-1.2 .6M639.1 71.9l1.5-.1 1.5 .1 .9 .3 .7 .3 .5 .5 .3 .7 .2 .9 0 1.2-.1 1.2-.4 1.5-.6 1.5-.8 1.5-1.1 1.5-1.1 1.4-1.2 1.3-1.5 1.4-2.7 2.1-2.7 1.8-2.7 1.5-6.5 3.4-6.1 4-2.7 1.5-1.5 .6-1.5 .5-1.5 .3-1.8 .3-1.8 .2-1.2 0-.9-.1-.6-.4-.2-.3-.1-.6 .1-.9 .3-.9 1.1-2.1 1.4-1.8 1.1-1.2 1.1-1 5.1-3.7 1.8-1.6 1.5-1.6 4.4-5.3 1.8-1.8 1.6-1.5 1.5-1.2 1.8-1.3 2.1-1.3 1.8-.9 1.8-.7 1.8-.6 1.8-.4zM592.1 83l.8-.2 .6 0 .9 .2 .6 .3 .6 .6 .5 .9 .3 .9 .2 .9 0 1.2-.2 .9-.3 .9-.4 .9-.7 .8-.6 .5-.6 .3-.9 .2-.6 0-.6-.2-.6-.4-.6-.5-.5-.7-.2-.6-.4-1.5 0-.9 .1-.9 .6-1.5 .8-1.2 .5-.5zM588.2 103.4l1.7-.1 1.8 .1 2.4 .4 2.7 .7 1.2 .4 .9 .6 .3 .6 0 .6-.1 .9-.3 1.2-1.1 3.3-1.1 2.4-1.3 1.9-1.5 1.5-1.6 1.1-1.1 .5-.9 .2-1.8 .3-1.5-.1-1.5-.4-1.5-.7-1.3-1-1.1-1.2-.8-1.5-.5-1.5-.2-1.5 .1-1.5 .5-1.5 .7-1.5 1-1.2 1.3-1.1 1.2-.8 1.5-.6zM619.3 143.3l-1.6-.3-1.4-.4-1.3-.5-1.1-.6-.9-.6-.5-.6-.3-.6-.1-.6 .2-.6 .5-.6 .9-.6 .8-.4 1.2-.4 1.5-.3 3-.2 3 .3 3 .6 1.2 .4 1.2 .6 .9 .6 .7 .6 .3 .6 .2 .6-.1 .6-.5 .7-.6 .5-1.2 .6-2.3 .6M637.3 72.8l1.5-.1 1.2 0 1.2 .1 .9 .3 .6 .4 .6 .7 .3 .7 .2 .9-.1 1.2-.2 1.2-.4 1.2-.7 1.5-.8 1.2-1.1 1.5-2.3 2.4-2.4 2-2.7 1.8-3 1.7-5.4 2.6-2.1 1.1-1.8 1.2-4.1 2.8-2.2 1.2-1.3 .6-1.4 .5-2.4 .4-1.2 0-.9-.1-.6-.2-.6-.5-.3-.7 0-.6 .1-.6 .6-1.5 1.1-1.5 .9-1 1.2-1 4.7-3.4 1.8-1.5 1.6-1.8 4-5.1 1.7-1.8 1.5-1.5 1.5-1.3 1.5-1.1 1.5-1 1.8-.9 3-1.3 1.5-.4zM592.7 85.4l.5-.1 .3 .1 .6 .3 .4 .6 .2 .9-.1 .9-.5 .9-.6 .6-.6 .1-.6-.1-.6-.6-.3-.6 0-.6 0-.7 .3-.8 .5-.6zM587.4 104.3l1.6-.3 1.8 0 1.8 .3 1.8 .5 1.5 .6 1 .7 .6 .9 .2 .9 0 .9-.1 .9-.6 2.1-.9 2.1-1.1 1.8-1.2 1.4-1.4 1-1.6 .8-1.5 .3-1.5 .1-1.5-.3-1.5-.5-1.1-.7-1-.9-.9-1.2-.6-1.2-.4-1.5-.1-1.5 .2-1.2 .6-1.5 .7-1.2 1.1-1.2 1.2-.9 1.5-.8zM617.5 137.3l1.8-.3 1.8 0 2.1 .2 1.8 .5 1.5 .5 1.2 .9 .3 .3 .3 .6-.1 .6-.4 .6-.9 .6-1 .4-1.5 .3-1.5 .1-1.8-.1-1.8-.2-1.5-.4-1.2-.4-1.1-.6-.6-.6-.2-.3-.2-.6 .2-.6 .5-.6 1.1-.6zM637.4 73.4l1.1-.1 1.2 .1 .9 .2 .9 .3 .6 .5 .5 .8 .2 .6 .1 .9 0 .9-.3 1.2-.9 2.1-.8 1.2-.9 1.2-2.1 2.2-2.1 1.8-2.7 1.8-3.3 1.8-6 2.6-2.1 1.1-1.8 1.1-3.6 2.7-2.1 1.2-1.8 .7-1.8 .4-1.5-.1-.6-.2-.5-.3-.4-.6 0-.9 .5-1.2 .8-1.2 .9-.9 1.1-.9 4.2-2.8 1.8-1.5 1.5-1.8 2.7-3.8 1.4-1.8 1.5-1.8 1.6-1.5 2.7-2.2 1.5-1 1.5-.9 1.5-.7 1.5-.5 1.5-.4zM587.9 104.9l1.7-.2 1.5 .1 1.5 .3 1.5 .5 1.2 .7 .7 .7 .5 .9 .2 .9 0 .9-.1 .9-.5 1.8-.9 1.8-1 1.5-1.3 1.2-1.2 .8-1.5 .6-1.5 .3-1.5-.1-1.2-.3-1.2-.5-1.1-.8-.9-.9-.7-1.2-.5-1.2-.2-1.2 .1-1.2 .3-1.4 .6-1.3 .7-.9 .9-.9 1.1-.8 1.5-.7zM619 138.5l.9-.2 1.2 0 1.2 .1 .9 .2 .9 .3 .8 .5 .2 .3 .1 .3-.1 .3-.2 .3-.5 .3-1.5 .4-1.8 0-1.8-.4-.8-.3-.5-.3-.2-.3-.2-.3 .1-.3 .1-.3 .4-.3zM637 74l1.2-.1 .9 .1 .9 .2 .9 .4 .6 .5 .3 .4 .2 .6 .2 .9 0 .9-.2 .9-.3 .9-.6 1.2-1.5 2.1-2 2.2-2.7 2.1-1.8 1.2-1.8 .9-3.3 1.5-5.7 2.1-2.1 1-1.5 1-2.9 2.4-1.9 1.2-1.2 .5-1.2 .2-.9-.1-.7-.3-.2-.3-.1-.6 .1-.6 .6-.9 .8-.9 .8-.6 4.4-2.7 1.5-1.3 1.2-1.5 2.2-3.8 1.6-2.4 1.7-2.1 1.8-1.8 2.6-2 2.7-1.7 2.7-1.1 1.5-.4zM588.8 105.5l1.4 0 1.5 .2 1.4 .4 1.1 .6 .8 .7 .5 .8 .3 .9 0 1.2-.3 1.5-.6 1.5-.9 1.5-1.1 1.2-1.2 .9-1.2 .6-1.4 .3-1.3 0-1.2-.2-1.1-.4-1-.6-.9-.9-.7-.9-.5-1.2-.2-.9 0-1.2 .2-1 .4-1.1 .5-.9 .9-1 1-.8 1.1-.6 1.2-.4zM636.4 74.6l1.2-.1 .9 0 .9 .2 .6 .3 .6 .4 .4 .4 .3 .6 .2 .6 0 .6-.1 .9-.6 1.8-1.1 1.8-1.5 1.8-1.8 1.7-2.1 1.5-2.4 1.4-2.4 1.1-3 1.1-2.7 .6-1.2 .2-.9 0-.6-.2-.3-.2-.2-.6 0-.9 .4-1.5 .7-1.5 .7-1.5 1-1.5 1.1-1.5 1-1.2 2.5-2.3 1.3-1 1.4-.9 1.5-.8 1.5-.6 1.5-.5zM588.1 106.4l1.2-.1 1.2 0 1.2 .2 1.2 .5 .9 .6 .6 .6 .4 .9 .1 .9-.1 1.2-.3 1.2-.7 1.3-.8 1.1-1 .9-.9 .6-1.2 .5-1.2 .2-1.2 0-.9-.3-.9-.3-.9-.7-.6-.6-.6-.9-.3-.9-.2-1.2 0-.9 .2-.9 .4-.9 .7-.9 .7-.7 .9-.6 1-.5zM635.7 75.2l1.9-.2 1.5 .3 .6 .3 .6 .5 .4 .9 .1 .6 0 .9-.4 1.5-.8 1.5-1.4 1.8-1.8 1.7-1.8 1.4-2.1 1.3-2.4 1.1-2.4 .8-2.1 .4-.9 .1-.9-.1-.6-.2-.4-.2-.4-.6-.1-.6 .1-.9 .4-1.2 .5-1.2 .6-1.2 1.1-1.5 .9-1.2 2.2-2.1 1.4-1.1 1.2-.8 2.4-1.2 1.2-.4zM588.3 107.3l1-.1 1.2 0 .9 .2 .9 .4 .6 .4 .5 .6 .3 .6 .2 .9 0 .9-.4 1.2-.5 .9-.7 .9-.9 .8-.9 .5-.9 .3-1.2 .2-.9-.1-.7-.2-.8-.4-.6-.5-.5-.6-.4-.7-.3-.8 0-.9 0-.6 .3-.9 .3-.6 .6-.8 .6-.5 .7-.5 .8-.4zM635.1 75.8l1.6-.2 1.5 .1 .6 .2 .6 .4 .6 .8 .2 .5 0 .6 0 .6-.2 .9-.8 1.5-1.3 1.8-1.5 1.5-1.8 1.4-1.8 1.1-2.1 1-2.1 .7-2.1 .4-1.5-.1-.6-.3-.3-.2-.3-.4-.2-.9 .1-.9 .3-.9 .3-.9 .7-1.2 1.6-2.1 1.8-1.8 2.3-1.7 2.1-1.1zM588.9 108.5l1.3-.1 .6 .2 .6 .2 .6 .5 .3 .4 .2 .6 .1 .6-.4 1.2-.3 .6-.6 .6-1.1 .7-.6 .3-.9 .1-.6-.1-.6-.2-.9-.7-.3-.4-.3-.6 0-.9 .1-.6 .2-.6 .6-.7 .9-.7zM636 76.1l1.3 0 1 .3 .8 .6 .4 .9 .1 1.2-.4 1.2-.7 1.2-1.1 1.5-1.3 1.2-1.5 1.2-1.8 1.1-1.8 .8-1.8 .6-1.5 .3-1.5 0-.9-.4-.4-.6-.2-.6 0-.6 .2-.9 .3-.9 .6-1.2 .9-1.2 .8-.9 1.9-1.8 2.2-1.5 1.2-.6 1.2-.5zM635.1 76.7l1.3-.1 1.2 .2 .8 .5 .4 .6 .2 .9-.2 1.2-.6 1.2-1.1 1.5-1.2 1.2-1.3 1-1.5 .9-1.8 .9-1.5 .5-1.5 .2-1.2 0-.5-.2-.4-.2-.3-.4-.2-.6-.1-.6 .2-.9 .7-1.5 1.3-1.8 1.5-1.5 2-1.4 1.9-1zM634.5 77.3l1.3-.2 .9 .1 .9 .3 .6 .7 .1 .9-.1 .9-.5 1.2-.9 1.2-1 1-1.3 1.1-1.4 .9-1.5 .7-1.5 .4-1.2 .2-1.2-.1-.6-.3-.3-.3-.2-.6 0-.9 .5-1.5 1.1-1.5 1.4-1.5 1.6-1.2 1.6-.9zM634.1 77.9l1.1-.2 .9 0 .9 .3 .4 .5 .3 .6-.1 .9-.4 .9-.7 1.2-.9 .9-1 .9-1.4 .9-1.3 .6-1.2 .4-1.2 .2-.9-.1-.6-.2-.3-.3-.2-.6 0-.9 .5-1.2 .8-1.2 1.1-1.2 1.4-1.1 1.2-.7zM633.8 78.5l.8-.2 .9 0 .7 .2 .5 .4 .2 .5 0 .9-.3 .6-.5 .9-.6 .7-.9 .8-.9 .7-1.2 .6-1.2 .5-.9 .1-.9 0-.6-.2-.4-.5-.1-.3 0-.6 .3-.9 .5-.9 .9-1 1.2-1 1.2-.8zM633.7 79.1l1.2-.1 .6 .1 .4 .3 .1 .3 .1 .6-.3 .8-.4 .7-1.2 1.2-.8 .5-.9 .5-1.5 .4-.6 0-.7-.2-.2-.3-.1-.3 0-.6 .2-.6 .6-.9 .8-.8 .8-.7 1-.5zM633.3 80l1-.1 .4 .1 .2 .2 .1 .4 0 .3-.4 .7-.7 .8-1.1 .7-.6 .2-.6 .2-.7-.2-.3-.3 0-.3 .1-.6 .3-.4 .4-.5 .7-.6z" fill="none" stroke="#2a2a2a" stroke-width="0.55"/>
<path d="M642.4 14.3 V140.4 M556.9 62.3 H683.7" stroke="#1c1c1c" stroke-width="0.9" fill="none"/>
<g font-family="Liberation Sans, sans-serif" font-size="5.0" fill="#2a2a2a" stroke="#2a2a2a" stroke-width="0.14"><text x="559.5" y="24.3">Q1</text><text x="559.5" y="31.6">0</text><text x="672.7" y="24.3" text-anchor="end">Q2</text><text x="672.7" y="31.6" text-anchor="end">4.41</text><text x="672.7" y="126.9" text-anchor="end">Q3</text><text x="672.7" y="134.2" text-anchor="end">5.88</text><text x="559.5" y="126.9">Q4</text><text x="559.5" y="134.2">89.7</text></g>
<text x="539.8" y="11.3" font-family="Liberation Sans, sans-serif" font-size="12.2" font-weight="bold" fill="#000">D</text>
<path d="M540.1 117.5 V43.2 H536.1 L543.0 35.1 L549.9 43.2 H546.1 V117.5 Z" fill="#000"/>
<path d="M572.0 148.5 H645.7 V145.1 L653.9 151.9 L645.7 158.7 V155.3 H572.0 Z" fill="#000"/>
<text x="566.2" y="165.9" font-family="Liberation Sans, sans-serif" font-size="8.5" font-weight="bold" fill="#0a0a0a" stroke="#0a0a0a" stroke-width="0.28" textLength="84.9" lengthAdjust="spacingAndGlyphs">Apoptotic cells staining</text>
<text transform="translate(531.9 116.7) rotate(-90)" font-family="Liberation Sans, sans-serif" font-size="8.5" font-weight="bold" fill="#0a0a0a" stroke="#0a0a0a" stroke-width="0.28" textLength="67.2" lengthAdjust="spacingAndGlyphs">Dead cells staining</text>
<clipPath id="c4"><rect x="30.2" y="202.3" width="126.7" height="127.0"/></clipPath>
<rect x="30.2" y="202.3" width="126.7" height="127.0" fill="#fff" stroke="#9a9a9a" stroke-width="0.5"/>
<path d="M30.2 202.3 V329.3 H156.9" fill="none" stroke="#8a8a8a" stroke-width="0.5"/>
<path d="M30.5 329.3 v1.5 M48.0 329.3 v1.5 M65.4 329.3 v1.5 M82.8 329.3 v1.5 M100.3 329.3 v1.5 M117.8 329.3 v1.5 M135.2 329.3 v1.5 M152.6 329.3 v1.5 M30.2 328.1 h-1.5 M30.2 310.7 h-1.5 M30.2 293.2 h-1.5 M30.2 275.8 h-1.5 M30.2 258.3 h-1.5 M30.2 240.9 h-1.5 M30.2 223.4 h-1.5 M30.2 206.0 h-1.5" stroke="#555" stroke-width="0.5" fill="none"/>
<path d="M35.8 329.3 v.8 M38.8 329.3 v.8 M41.0 329.3 v.8 M42.7 329.3 v.8 M44.1 329.3 v.8 M45.2 329.3 v.8 M46.3 329.3 v.8 M47.2 329.3 v.8 M53.2 329.3 v.8 M56.3 329.3 v.8 M58.5 329.3 v.8 M60.1 329.3 v.8 M61.5 329.3 v.8 M62.7 329.3 v.8 M63.7 329.3 v.8 M64.6 329.3 v.8 M70.7 329.3 v.8 M73.7 329.3 v.8 M75.9 329.3 v.8 M77.6 329.3 v.8 M79.0 329.3 v.8 M80.1 329.3 v.8 M81.2 329.3 v.8 M82.1 329.3 v.8 M88.1 329.3 v.8 M91.2 329.3 v.8 M93.4 329.3 v.8 M95.0 329.3 v.8 M96.4 329.3 v.8 M97.6 329.3 v.8 M98.6 329.3 v.8 M99.5 329.3 v.8 M105.6 329.3 v.8 M108.6 329.3 v.8 M110.8 329.3 v.8 M112.5 329.3 v.8 M113.9 329.3 v.8 M115.0 329.3 v.8 M116.1 329.3 v.8 M117.0 329.3 v.8 M123.0 329.3 v.8 M126.1 329.3 v.8 M128.3 329.3 v.8 M129.9 329.3 v.8 M131.3 329.3 v.8 M132.5 329.3 v.8 M133.5 329.3 v.8 M134.4 329.3 v.8 M140.5 329.3 v.8 M143.5 329.3 v.8 M145.7 329.3 v.8 M147.4 329.3 v.8 M148.8 329.3 v.8 M149.9 329.3 v.8 M151.0 329.3 v.8 M151.9 329.3 v.8 M30.2 322.8 h-.8 M30.2 319.8 h-.8 M30.2 317.6 h-.8 M30.2 315.9 h-.8 M30.2 314.5 h-.8 M30.2 313.4 h-.8 M30.2 312.3 h-.8 M30.2 311.4 h-.8 M30.2 305.4 h-.8 M30.2 302.3 h-.8 M30.2 300.1 h-.8 M30.2 298.5 h-.8 M30.2 297.1 h-.8 M30.2 295.9 h-.8 M30.2 294.9 h-.8 M30.2 294.0 h-.8 M30.2 287.9 h-.8 M30.2 284.9 h-.8 M30.2 282.7 h-.8 M30.2 281.0 h-.8 M30.2 279.6 h-.8 M30.2 278.5 h-.8 M30.2 277.4 h-.8 M30.2 276.5 h-.8 M30.2 270.5 h-.8 M30.2 267.4 h-.8 M30.2 265.2 h-.8 M30.2 263.6 h-.8 M30.2 262.2 h-.8 M30.2 261.0 h-.8 M30.2 260.0 h-.8 M30.2 259.1 h-.8 M30.2 253.0 h-.8 M30.2 250.0 h-.8 M30.2 247.8 h-.8 M30.2 246.1 h-.8 M30.2 244.7 h-.8 M30.2 243.6 h-.8 M30.2 242.5 h-.8 M30.2 241.6 h-.8 M30.2 235.6 h-.8 M30.2 232.5 h-.8 M30.2 230.3 h-.8 M30.2 228.7 h-.8 M30.2 227.3 h-.8 M30.2 226.1 h-.8 M30.2 225.1 h-.8 M30.2 224.2 h-.8 M30.2 218.1 h-.8 M30.2 215.1 h-.8 M30.2 212.9 h-.8 M30.2 211.2 h-.8 M30.2 209.8 h-.8 M30.2 208.7 h-.8 M30.2 207.6 h-.8 M30.2 206.7 h-.8" stroke="#777" stroke-width="0.35" fill="none"/>
<g font-family="Liberation Sans, sans-serif" font-size="3.2" fill="#333"><text x="29.9" y="334.9">10<tspan dy="-1.1" font-size="2.3">0</tspan></text><text x="47.4" y="334.9">10<tspan dy="-1.1" font-size="2.3">1</tspan></text><text x="64.8" y="334.9">10<tspan dy="-1.1" font-size="2.3">2</tspan></text><text x="82.2" y="334.9">10<tspan dy="-1.1" font-size="2.3">3</tspan></text><text x="99.7" y="334.9">10<tspan dy="-1.1" font-size="2.3">4</tspan></text><text x="117.2" y="334.9">10<tspan dy="-1.1" font-size="2.3">5</tspan></text><text x="134.6" y="334.9">10<tspan dy="-1.1" font-size="2.3">6</tspan></text><text x="152.0" y="334.9">10<tspan dy="-1.1" font-size="2.3">7</tspan></text><text x="28.2" y="329.4" text-anchor="end">10<tspan dy="-1.1" font-size="2.3">0</tspan></text><text x="28.2" y="312.0" text-anchor="end">10<tspan dy="-1.1" font-size="2.3">1</tspan></text><text x="28.2" y="294.5" text-anchor="end">10<tspan dy="-1.1" font-size="2.3">2</tspan></text><text x="28.2" y="277.1" text-anchor="end">10<tspan dy="-1.1" font-size="2.3">3</tspan></text><text x="28.2" y="259.6" text-anchor="end">10<tspan dy="-1.1" font-size="2.3">4</tspan></text><text x="28.2" y="242.2" text-anchor="end">10<tspan dy="-1.1" font-size="2.3">5</tspan></text><text x="28.2" y="224.7" text-anchor="end">10<tspan dy="-1.1" font-size="2.3">6</tspan></text><text x="28.2" y="207.3" text-anchor="end">10<tspan dy="-1.1" font-size="2.3">7</tspan></text></g>
<path clip-path="url(#c4)" d="M116.1 226l1.1-.1 1.2 .1 1.1 .3 1 .4 .9 .6 .9 .8 .4 .6 .4 .9 .3 .9 0 .9-.2 .9-.3 .9-.6 .9-.6 .6-.9 .6-1.2 .6-1.2 .3-1.5 .1-1.2-.2-1.2-.3-1.2-.7-.9-.7-.7-.9-.4-.9-.3-.9 0-1.2 .4-1.2 .5-.9 .8-.9 .9-.6 1.2-.6zM99.3 253.9l2.3-.1 2.1 .1 2.1 .4 2.1 .7 1.8 .9 1.5 1.2 1.3 1.3 .9 1.5 .8 1.8 .4 1.8 .1 1.8-.3 2.1-.7 2.1-.8 1.8-1.2 1.8-1.5 1.8-2.3 2-2.7 1.8-2.4 1.1-3.6 1.4-2.1 .9-3.3 1.8-1.7 1.2-.9 .9-.7 1.2-.4 1.2-.8 3-.5 1.5-.7 1.5-1 1.5-1.6 1.8-1.7 1.5-2 1.3-2.4 1.3-3 1.2-3.6 .9-3.6 .4-3.6 0-1.8-.1-1.8-.3-1.5-.4-1.5-.5-2.4-1.2-1.2-.8-1-.9-1.3-1.5-.8-1.5-.4-1.5-.1-1.8 .4-1.8 .6-1.5 1.1-1.8 1.3-1.5 1.3-1.2 1.6-1.2 1.8-1.1 1.8-.8 1.5-.7 2.1-.7 6-1.5 2-.6 2.6-1.2 2.3-1.5 1.5-1.3 .9-1.3 .6-1.6 1.1-4.5 .8-2.4 .7-1.5 .7-1.2 .9-1.2 1-1.2 1.4-1.4 1.5-1.2 1.5-1 1.5-.8 1.8-.9 1.5-.5 1.8-.5zM77 332.2l-.5-1.5-.2-1.5 .4-1.5 .5-.9 .4-.6 1.2-1.2 1.5-.8 1.8-.6 2.1-.3 2.1 .2 1.8 .6 1.6 .9 1.3 1.2 .4 .6 .5 .9 .4 1.5-.2 1.5-.5 1.5M99.2 257.5l1.8-.1 1.5 .1 1.5 .3 1.6 .6 1.1 .6 1.2 .9 1 1.2 .7 1.2 .5 1.2 .2 1.5 0 1.2-.2 1.5-.5 1.5-.6 1.2-1 1.5-1.1 1.2-1.4 1.2-1.5 1.1-4.8 2.5-4.5 2.9-2.4 1.2-3.6 1.3-1 .6-.8 .9-.5 .9-2.4 6-.6 1.2-.8 1.2-1 1.2-1.2 1.2-1.3 1-1.5 .9-2.4 1-2.4 .7-2.7 .4-2.4 .1-2.4-.2-2.4-.7-1.8-.8-.9-.6-.7-.6-.8-.9-.7-1.2-.2-.9-.1-1.2 .2-1.2 .4-1.2 .8-1.2 .8-1 1.8-1.5 2.4-1.4 2.7-1 5.4-1.6 2.1-.7 3.1-1.5 2.9-1.6 1.2-.8 .9-1 .6-1.1 .4-1.2 .9-4.5 .9-2.7 1.3-2.4 1.6-2.3 1.2-1.3 1.2-1 1.2-.9 1.5-1 1.5-.7 1.5-.5 1.5-.4zM79.5 332.2l-.8-1.2-.2-1.2 .1-1.2 .6-1.2 .8-.9 1.2-.8 1.5-.5 1.5-.2 1.5 .1 1.5 .5 1.2 .7 1 1.1 .6 1.2 .1 1.2-.2 1.2-.8 1.2M98.6 259.9l1.2-.1 1.2 0 1.2 .2 .9 .2 .9 .4 .9 .5 .8 .6 .5 .6 .6 .9 .4 .9 .3 .9 0 .9 0 .9-.3 1.2-.7 1.8-1.1 1.5-1.6 1.5-4 2.7-3.9 3.1-2.1 1.4-2.1 .9-2.1 .4-2.1-.1-.9-.2-.6-.2-.6-.6-.4-1.1-.2-1.8 .1-2.4 .2-2.1 .5-1.8 .5-1.5 .9-1.8 1.1-1.5 1.2-1.4 1.2-1.1 1.5-1.2 1.5-.9 1.8-.8 1.5-.5zM80 283.3l.9-.2 .6 0 .6 .2 .3 .2 .2 .4 .1 .6-.3 1.8-1.1 3.3-1.2 2.4-.8 1.2-.8 .9-1.8 1.5-1.8 1-1.8 .7-2.1 .5-2.1 .1-2.1-.2-1.8-.5-1.5-.9-1-1-.3-.6-.3-.9 0-.9 .2-.9 .5-.9 .4-.6 .8-.8 .9-.8 1.4-.8 1.6-.7 6.6-1.9zM81.3 332.2l-.9-.9-.4-.9-.2-.6 .1-.6 .3-.9 .6-.9 1-.7 1.2-.5 1.2-.1 1.5 .2 1.2 .4 .9 .7 .6 .9 .3 .9 .1 .6-.2 .6-.4 .9-.9 .9M97.8 262l1.7-.1 1.8 .2 1.5 .6 .6 .4 .6 .5 .7 1.1 .2 .6 .1 .9-.1 1.5-.6 1.5-.9 1.2-.9 .9-3 2.7-3.3 3.3-1.8 1.4-1.8 .9-1.8 .5-1.5 0-.9-.2-.6-.2-.8-.6-.6-.9-.4-1.2-.2-1.5 0-1.5 .3-1.8 .6-1.8 .7-1.5 .8-1.2 1-1.2 1-1 1.2-.9 1.5-.9 1.5-.7 1.8-.6zM73.2 289l1.1 0 .9 .1 .6 .3 .4 .5 0 .9-.4 .9-.6 .9-.9 .8-.9 .6-.9 .4-1 .3-1.1 .2-.9-.1-.9-.1-.9-.4-.6-.5-.4-.6 0-.9 .5-.9 .7-.6 1-.6 1.4-.6 1.3-.3zM83.7 327.1l1.1 0 1.1 .3 .9 .6 .5 .6 .2 .9-.1 .9-.5 .7-.9 .7-1.2 .3-.9 0-.6-.1-.6-.2-.6-.3-.5-.5-.4-.6-.1-.6 0-.6 .4-.9 .9-.8 .6-.2zM95.7 264.1l1.7-.2 1.5 0 1.2 .3 1 .5 .8 .8 .4 1 0 .9-.4 1.2-.9 1.5-3.6 4.8-1.3 1.5-1.4 1.3-1.5 .9-1.5 .6-1.5 .1-.9-.1-.6-.2-.8-.5-.5-.6-.5-.9-.3-1.2-.1-1.2 .1-1.5 .3-1.5 .5-1.2 .6-1.2 .9-1.2 1-1.1 .9-.7 1.2-.8 1.2-.6 1.2-.4zM83.6 328.3l.6-.1 .6 0 .6 .3 .3 .2 .3 .4 .1 .4-.1 .6-.2 .3-.4 .3-.9 .3-.9-.1-.6-.3-.3-.4-.2-.4 .1-.6 .4-.6zM94.3 265.6l1.3-.1 1.5 .2 1.2 .5 .6 .5 .4 .7 .1 .9-.1 .9-.5 1.5-.9 2.1-1.2 1.8-1.2 1.5-1.1 1.1-1.2 .8-1.5 .5-1.2 .1-1.2-.2-.9-.5-.5-.6-.4-.6-.3-.9-.1-.9 0-1.2 .2-1.2 .3-1.2 .5-1 .6-1 .6-.8 .9-.9 .9-.7 .9-.5 1.2-.5zM93 266.8l1.1-.2 1.2 .1 .9 .3 .7 .4 .5 .6 .3 .9 .1 1.2-.2 1.2-.6 1.5-.6 1.2-1 1.5-1 1-1.2 .8-1.2 .5-1.2 .2-.9-.1-.6-.3-.6-.4-.4-.5-.4-.9-.2-.9-.1-.9 .3-1.8 .7-1.8 .6-.9 .7-.8 .6-.6 .9-.6zM92.5 267.7l1-.2 .9 0 .9 .3 .6 .4 .5 .7 .3 .6 .1 .9-.1 1.2-.4 1.2-.5 1.2-.9 1.2-.8 .9-.9 .6-.9 .5-.9 .2-.9 0-.6-.2-.6-.3-.4-.5-.4-.6-.2-.6-.2-.9 .1-1.5 .3-.9 .3-.9 1.1-1.5 1.2-1.1zM93.1 268.3l.7 0 .9 .3 .5 .3 .4 .5 .3 .7 .1 .6 0 .9-.2 .9-.3 .9-.5 .9-.7 .9-.8 .7-.7 .5-.8 .3-.9 .1-.6 0-.9-.5-.4-.5-.3-.6-.2-.6-.1-.9 .3-1.5 .7-1.5 .9-1.1 1.2-.9 .6-.2zM92.2 269.2l.7-.2 .6 .1 .6 .1 .6 .5 .3 .4 .2 .6 .1 .6 0 .9-.3 .9-.4 .9-.5 .7-.6 .6-.6 .4-.8 .4-.7 .1-.6 0-.6-.3-.3-.2-.5-.8-.3-.9 .1-1.2 .4-1.2 .6-.9 .9-.9zM92.6 269.8l.6 0 .6 .2 .6 .7 .2 .9-.1 1.2-.6 1.2-.4 .6-.6 .5-.6 .3-.6 .2-.9-.1-.6-.4-.4-.8-.1-.9 .1-.9 .4-.9 .7-.9 .8-.6zM92.2 270.7l.7 0 .6 .3 .3 .6 .1 .9-.3 .9-.7 .9-.6 .4-.6 .2-.3-.1-.6-.2-.3-.4-.2-.8 .1-.6 .2-.6 .5-.8 .6-.5zM92 271.9l.3-.1 .3 .1 .2 .3 0 .6-.2 .5-.3 .3-.3 .1-.3 0-.4-.3 0-.6 .3-.6z" fill="none" stroke="#2a2a2a" stroke-width="0.55"/>
<path d="M111.7 202.3 V329.3 M30.2 252.1 H156.9" stroke="#1c1c1c" stroke-width="0.9" fill="none"/>
<g font-family="Liberation Sans, sans-serif" font-size="5.0" fill="#2a2a2a" stroke="#2a2a2a" stroke-width="0.14"><text x="32.8" y="212.3">Q1</text><text x="32.8" y="219.6">1.31</text><text x="145.9" y="212.3" text-anchor="end">Q2</text><text x="145.9" y="219.6" text-anchor="end">2.54</text><text x="145.9" y="315.8" text-anchor="end">Q3</text><text x="145.9" y="323.1" text-anchor="end">1.03</text><text x="32.8" y="315.8">Q4</text><text x="32.8" y="323.1">95.1</text></g>
<text x="18.9" y="196.4" font-family="Liberation Sans, sans-serif" font-size="12.2" font-weight="bold" fill="#000">E</text>
<path d="M12.6 310.6 V235.7 H9.3 L16.0 228.2 L22.6 235.7 H18.8 V310.6 Z" fill="#000"/>
<path d="M45.2 337.4 H118.8 V334.1 L127.0 340.6 L118.8 347.2 V343.9 H45.2 Z" fill="#000"/>
<text x="38.9" y="357.2" font-family="Liberation Sans, sans-serif" font-size="8.5" font-weight="bold" fill="#0a0a0a" stroke="#0a0a0a" stroke-width="0.28" textLength="84.9" lengthAdjust="spacingAndGlyphs">Apoptotic cells staining</text>
<text transform="translate(8.1 306.8) rotate(-90)" font-family="Liberation Sans, sans-serif" font-size="8.5" font-weight="bold" fill="#0a0a0a" stroke="#0a0a0a" stroke-width="0.28" textLength="67.8" lengthAdjust="spacingAndGlyphs">Dead cells staining</text>
<clipPath id="c5"><rect x="206.3" y="202.6" width="127.2" height="126.7"/></clipPath>
<rect x="206.3" y="202.6" width="127.2" height="126.7" fill="#fff" stroke="#9a9a9a" stroke-width="0.5"/>
<path d="M206.3 202.6 V329.3 H333.5" fill="none" stroke="#8a8a8a" stroke-width="0.5"/>
<path d="M209.9 329.3 v1.5 M229.9 329.3 v1.5 M249.9 329.3 v1.5 M269.9 329.3 v1.5 M289.9 329.3 v1.5 M309.9 329.3 v1.5 M329.9 329.3 v1.5 M206.3 324.5 h-1.5 M206.3 304.5 h-1.5 M206.3 284.5 h-1.5 M206.3 264.5 h-1.5 M206.3 244.5 h-1.5 M206.3 224.5 h-1.5 M206.3 204.5 h-1.5" stroke="#555" stroke-width="0.5" fill="none"/>
<path d="M215.9 329.3 v.8 M219.4 329.3 v.8 M221.9 329.3 v.8 M223.9 329.3 v.8 M225.5 329.3 v.8 M226.8 329.3 v.8 M228.0 329.3 v.8 M229.0 329.3 v.8 M235.9 329.3 v.8 M239.4 329.3 v.8 M241.9 329.3 v.8 M243.9 329.3 v.8 M245.5 329.3 v.8 M246.8 329.3 v.8 M248.0 329.3 v.8 M249.0 329.3 v.8 M255.9 329.3 v.8 M259.4 329.3 v.8 M261.9 329.3 v.8 M263.9 329.3 v.8 M265.5 329.3 v.8 M266.8 329.3 v.8 M268.0 329.3 v.8 M269.0 329.3 v.8 M275.9 329.3 v.8 M279.4 329.3 v.8 M281.9 329.3 v.8 M283.9 329.3 v.8 M285.5 329.3 v.8 M286.8 329.3 v.8 M288.0 329.3 v.8 M289.0 329.3 v.8 M295.9 329.3 v.8 M299.4 329.3 v.8 M301.9 329.3 v.8 M303.9 329.3 v.8 M305.5 329.3 v.8 M306.8 329.3 v.8 M308.0 329.3 v.8 M309.0 329.3 v.8 M315.9 329.3 v.8 M319.4 329.3 v.8 M321.9 329.3 v.8 M323.9 329.3 v.8 M325.5 329.3 v.8 M326.8 329.3 v.8 M328.0 329.3 v.8 M329.0 329.3 v.8 M206.3 318.5 h-.8 M206.3 315.0 h-.8 M206.3 312.5 h-.8 M206.3 310.5 h-.8 M206.3 308.9 h-.8 M206.3 307.6 h-.8 M206.3 306.4 h-.8 M206.3 305.4 h-.8 M206.3 298.5 h-.8 M206.3 295.0 h-.8 M206.3 292.5 h-.8 M206.3 290.5 h-.8 M206.3 288.9 h-.8 M206.3 287.6 h-.8 M206.3 286.4 h-.8 M206.3 285.4 h-.8 M206.3 278.5 h-.8 M206.3 275.0 h-.8 M206.3 272.5 h-.8 M206.3 270.5 h-.8 M206.3 268.9 h-.8 M206.3 267.6 h-.8 M206.3 266.4 h-.8 M206.3 265.4 h-.8 M206.3 258.5 h-.8 M206.3 255.0 h-.8 M206.3 252.5 h-.8 M206.3 250.5 h-.8 M206.3 248.9 h-.8 M206.3 247.6 h-.8 M206.3 246.4 h-.8 M206.3 245.4 h-.8 M206.3 238.5 h-.8 M206.3 235.0 h-.8 M206.3 232.5 h-.8 M206.3 230.5 h-.8 M206.3 228.9 h-.8 M206.3 227.6 h-.8 M206.3 226.4 h-.8 M206.3 225.4 h-.8 M206.3 218.5 h-.8 M206.3 215.0 h-.8 M206.3 212.5 h-.8 M206.3 210.5 h-.8 M206.3 208.9 h-.8 M206.3 207.6 h-.8 M206.3 206.4 h-.8 M206.3 205.4 h-.8" stroke="#777" stroke-width="0.35" fill="none"/>
<g font-family="Liberation Sans, sans-serif" font-size="3.2" fill="#333"><text x="209.3" y="334.9">10<tspan dy="-1.1" font-size="2.3">0</tspan></text><text x="229.3" y="334.9">10<tspan dy="-1.1" font-size="2.3">1</tspan></text><text x="249.3" y="334.9">10<tspan dy="-1.1" font-size="2.3">2</tspan></text><text x="269.3" y="334.9">10<tspan dy="-1.1" font-size="2.3">3</tspan></text><text x="289.3" y="334.9">10<tspan dy="-1.1" font-size="2.3">4</tspan></text><text x="309.3" y="334.9">10<tspan dy="-1.1" font-size="2.3">5</tspan></text><text x="329.3" y="334.9">10<tspan dy="-1.1" font-size="2.3">6</tspan></text><text x="204.3" y="325.8" text-anchor="end">10<tspan dy="-1.1" font-size="2.3">0</tspan></text><text x="204.3" y="305.8" text-anchor="end">10<tspan dy="-1.1" font-size="2.3">1</tspan></text><text x="204.3" y="285.8" text-anchor="end">10<tspan dy="-1.1" font-size="2.3">2</tspan></text><text x="204.3" y="265.8" text-anchor="end">10<tspan dy="-1.1" font-size="2.3">3</tspan></text><text x="204.3" y="245.8" text-anchor="end">10<tspan dy="-1.1" font-size="2.3">4</tspan></text><text x="204.3" y="225.8" text-anchor="end">10<tspan dy="-1.1" font-size="2.3">5</tspan></text><text x="204.3" y="205.8" text-anchor="end">10<tspan dy="-1.1" font-size="2.3">6</tspan></text></g>
<path clip-path="url(#c5)" d="M326.5 202.6l2.2 .1 1.2 .3 .9 .3 1.5 .9 .9 .7 .6 .7 .7 .9 .4 .9 .6 1.8 .1 1.8-.1 1.2-.2 .9-.5 1.2-.6 1.2-.9 1.2-1.8 2.1-.6 1.2-.1 .6 0 .6 .4 3.3-.1 2.1-.4 1.5-.3 1.2-.6 1.5-.7 1.5-1.4 2.4-5.4 8.4-5 7.2-1.2 2.1-2.2 4.2-1.6 2.7-1.9 2.7-2.1 2.4-3 3-3.3 2.7-3 2.2-7.5 5-4.2 3.2-3 2.5-7.8 6.8-4.8 3.8-3 2.2-3 2.1-3.3 2-2.7 1.6-4.2 2-4.5 1.9-3.9 1.2-3.6 .6-1.8 .2-1.5 0-1.5-.1-1.5-.2-1.2-.4-1.2-.4-1.2-.7-.8-.7-.7-.7-.6-.8-.5-.9-.3-.9-.5-2.1 0-2.4 .5-2.7 .7-2.4 1.2-2.7 1.7-3.3 1.8-2.7 1.9-2.7 2.5-3 2.4-2.7 4.8-4.8 9.5-8.7 1.7-1.8 1.6-1.8 1.6-2.1 1.2-1.9 3.7-6.8 1.8-3 1.9-2.7 2.2-2.7 2.1-2.1 2.1-1.8 2.1-1.6 2.4-1.6 2.7-1.5 2.4-1 2.7-1 2.4-.6 2.1-.4 2.1-.3 2.1-.1 1.8 .1 2.4 .3 2.4 .5 2.1 .8 3.2 1.3 1.6 .4 1.2 .1 .9-.1 .9-.3 .9-.6 1.8-1.6 3.9-4.2 1-1.2 .4-.9-.1-.6-.6-.6-3.1-1.7-1.3-1-.9-.9-.8-1.2-.7-1.5-.3-1.5 0-1.5 .2-.9 .3-.9 .6-1.2 1-1.2 1-1 1.5-.9 1.5-.7 1.8-.6 2.1-.5zM205.7 232.3l.6-.3 .3 0 .6 .4 .3 .4 .4 1 .3 .9 .3 2.4 0 2.4-.2 1.5-.3 .9-.3 .9-.5 .8-.3 .2-.6 .2-.6-.3-.3-.4-.4-.8-.5-1.8-.2-1.8 0-2.1 .3-2.1 .5-1.5zM251.5 332.2l-.8-.4-.6-.7-.3-.7 .1-.9 .2-.6 .6-.7 .9-.4 .9-.2 .9 .2 .6 .3 .6 .7 .3 .7 .1 .9-.3 .6-.4 .6-.4 .3-.6 .3M325.7 204.1l1.5-.3 1.5 .1 1.5 .4 1.2 .6 1.1 1 .9 1.2 .6 1.5 .1 1.5-.1 1.5-.4 1.2-.7 1.2-1.2 1.3-1.2 .9-1.8 .9-1.2 .4-1.5 .2-1.5-.1-1.5-.3-1.5-.6-1.2-.7-1-.8-.9-1.2-.4-1.2-.2-1.2 .1-1.2 .3-.9 .7-1.2 .9-.9 1.4-1.1 1.6-1 1.4-.7zM325 223.3l1.3-.3 .6 0 .6 .2 .5 .4 .4 .4 .5 1.1 .2 1.5-.3 1.8-.5 1.8-1.1 2.1-.9 1.5-1.2 1.5-6 7.5-1.8 2-3.8 3.7-1.3 1.6-1.4 2-3.3 5.4-1.9 2.7-2.1 2.4-2.7 2.5-3 2.5-7.7 5.5-3.4 2.7-3.3 2.9-8.1 7.5-5.1 4.3-2.7 2-3 2.1-3.3 2.1-2.7 1.5-3.6 1.8-3.6 1.5-3 .9-3 .6-2.7 0-1.2-.1-1.2-.2-1.2-.5-.9-.4-.9-.7-.6-.6-.9-1.3-.3-.9-.3-.9-.1-1.8 .2-2.1 .6-2.4 .9-2.1 1.3-2.4 1.5-2.4 1.8-2.4 1.8-2.1 2.2-2.4 2.4-2.5 4.8-4.5 9-7.7 1.9-1.8 1.7-1.8 1.5-1.8 1.4-2.1 4.2-7.2 2-3 2.4-3 2.7-2.7 1.7-1.3 1.5-1.1 1.8-1.1 1.8-1 1.8-.7 1.8-.7 1.8-.5 1.8-.3 1.8-.2 1.5-.1 3 .3 2.4 .6 4.2 1.5 1.8 .4 1.2 0 1.2-.2 2.4-.6 1.5-.7 1.5-1.1 1.2-1.3 2.8-3.6 1.4-1.5 1.8-1.6 .9-.6zM206.1 234.4l.2-.1 .3 0 .3 .2 .3 .5 .4 1.2 .1 1.5 0 1.5-.4 1.5-.4 .8-.3 .2-.3 0-.3-.1-.3-.4-.3-.7-.2-1-.1-1.2 0-1.2 .2-1.2 .4-1.1zM326.2 204.7l1.3-.2 1.2 0 1.2 .3 1.2 .7 .9 .8 .8 1.1 .5 1.2 .1 .9 0 1.2-.3 1.2-.6 1.2-.8 .9-.9 .8-1.2 .6-1.2 .5-1.2 .2-1.2 0-1.2-.2-1.2-.3-1.2-.5-.9-.6-.7-.8-.5-.9-.3-.9 .1-1.2 .2-.9 .5-.9 1-1.2 .8-.9 1.3-1 1.2-.7zM325.1 225.1l.6 0 .6 .1 .7 .5 .5 .9 0 .6 0 .9-.3 1.5-.6 1.5-1.1 1.8-1.3 1.6-4.4 4.4-3.6 3.9-4 3.6-1.5 1.6-2.1 2.6-4.8 6.9-1.8 2.1-1.7 1.8-1.6 1.5-2.1 1.8-7.5 5.6-3.3 2.6-3 2.8-7.4 7.3-4 3.6-5.1 4.1-5.4 3.8-2.4 1.5-2.4 1.3-2.4 1.2-2.1 .9-2.1 .7-2.1 .5-1.8 .2-1.8 0-1.5-.2-1.5-.5-1.2-.7-.8-.8-.8-1.2-.5-1.5-.1-1.8 .3-1.8 .5-1.8 .9-2.1 1.2-2.1 1.5-2.1 1.7-2.1 1.8-2 4.8-4.7 5.4-4.7 9.2-7.5 2-1.8 1.4-1.4 1.6-1.9 1.5-2.1 4.2-6.9 1.8-2.7 2-2.5 2.4-2.3 2.7-2 2.7-1.5 2.7-1.1 1.5-.4 1.5-.3 2.7-.2 2.4 .1 2.1 .5 3.8 1.3 2.2 .3 1.5-.1 1.5-.2 1.8-.4 2.1-.8 1.8-.8 1.5-1.1 1.2-1.4 2.4-3.9 1.5-1.9 1.1-1.1 1-.7 .9-.5zM206.2 236.8l.1-.2 .3 .1 .3 1 0 .7-.1 .5-.2 .4-.3 .1-.3-.5-.1-.6 0-.9zM327.1 205l1-.1 1.2 .2 .9 .4 .9 .5 .8 .8 .5 .9 .4 .9 .1 1.2-.1 1.2-.3 .9-.5 .9-.6 .7-.9 .7-.9 .5-1.2 .4-1.2 .1-1.2-.1-.9-.2-.9-.4-.9-.5-.7-.6-.6-.9-.3-.9 0-.6 .2-1.2 .3-.9 .5-.9 .7-.9 .8-.8 .9-.6 1.2-.5zM324.5 226.9l.6 0 .5 .3 .3 .3 .2 .6 0 .6-.2 .9-.3 .9-.5 .9-1.2 1.7-.9 .9-.9 .7-1.5 .7-.6 .2-.6-.1-.3-.5 0-.3 .2-1.2 .6-1.8 .8-1.5 .8-1.2 1.2-1.2 .9-.6zM292.2 239.5l2-.2 1.8 .1 1.5 .3 3.6 .8 2.4 .3 3.6-.1 5.1-.5 .6 0 .6 .2 .1 .3 0 .3-.2 .6-.4 .6-3.1 3.9-5 6.9-2.5 3.1-2.7 2.8-2.7 2.5-2.4 1.9-6.3 4.6-3 2.5-2.4 2.4-7.1 7.5-4.6 4.4-5.4 4.5-5.7 4.1-3.3 2.2-2.7 1.4-2.7 1.2-2.4 .7-2.7 .4-2.1 0-1.8-.5-.8-.4-.7-.5-.9-1.1-.6-1.4-.1-.9-.1-.9 .3-1.8 .7-2.1 1-2.1 1.4-2.1 1.9-2.4 1.7-1.8 1.9-1.9 5.1-4.4 5.7-4.7 8.8-6.7 3.1-2.7 1.6-1.8 1.5-2 3.9-6.4 1.6-2.4 1.7-2.1 1.8-1.8 2.1-1.7 2.4-1.5 2.4-1zM326.3 205.6l.9-.2 .9-.1 .9 .1 .9 .3 .9 .6 .6 .5 .6 .9 .4 .9 .1 .9 0 .9-.2 .9-.4 .9-.5 .7-.6 .5-.9 .6-.9 .4-.9 .2-1.2 0-.9-.2-.9-.3-.7-.4-.7-.6-.5-.6-.4-.9-.1-.9 0-.9 .3-.9 .4-.9 .7-.9 .6-.6 .7-.5zM323 229.9l.3-.1 .3-.1 .1 .2 0 .6-.4 .6-.3 .3-.3 .2-.3 0-.1-.2 .1-.6 .3-.6zM293 242.5l1.8 0 4.2 .3 4.5-.1 1.8 .1 1.6 .3 .6 .3 .2 .3 .3 .6-.1 .9-.4 1.2-.7 1.5-1.1 1.8-1.3 1.8-1.4 1.8-1.6 1.7-2.4 2.4-2.7 2.2-2.7 1.9-5.3 3.5-2.5 2-2.4 2.4-6.6 7.9-4.1 4.2-2.8 2.6-3.3 2.7-4.5 3.6-3.3 2.4-2.7 1.8-2.7 1.5-2.4 1-2.4 .6-2.1 .3-1.8-.1-.9-.2-.7-.3-.8-.5-.5-.4-.5-.6-.3-.6-.3-.6-.1-.9 0-1.5 .4-1.8 .7-1.8 1-1.8 1.5-2.1 1.7-1.9 1.8-1.8 2.4-2.1 8.1-6.6 4.8-3.7 8-5.5 1.6-1.2 1.3-1.2 1.4-1.5 1.2-1.5 3.6-6 1.4-2.1 1.6-2 1.7-1.6 1.9-1.4 2.1-1.2 2.1-.7zM326.5 205.9l.7-.2 .9-.1 .9 .1 .6 .2 .6 .3 .7 .6 .6 .6 .4 .9 .3 .9 0 .9-.1 .6-.3 .9-.4 .7-.6 .7-.6 .4-.9 .5-1.5 .3-.9-.1-.9-.2-.9-.5-.6-.4-.6-.7-.4-.7-.1-.6-.1-.9 .1-.9 .4-.9 .6-.9 .5-.6 .8-.5zM299.4 244.6l2.3-.3 1.8 .1 1.2 .3 .6 .5 .2 .3 .2 .9-.1 .6-.3 .9-1 1.8-1.2 1.8-1.4 1.7-1.5 1.5-1.8 1.6-1.8 1.4-3.6 2.3-6.3 3.3-1.2 .8-.9 .8-1.5 1.7-3.7 5.6-2.5 3.3-2.9 3.3-3.5 3.4-3.9 3.3-7.5 6-3 2.1-3 1.6-1.5 .7-1.5 .5-1.5 .4-1.5 .1-1.2 0-1.2-.2-1.1-.5-.8-.6-.4-.6-.4-.6-.1-.6-.2-.9 0-.9 .2-.9 .6-1.8 .9-1.8 1.5-2.1 1.6-1.9 2.1-2 2.7-2.3 6.6-5.3 4.8-3.6 5.1-3.4 7.4-4.3 1.3-.9 1.2-.9 1.2-1.2 .8-1.2 2.8-4.9 1.5-2.3 1.6-1.8 1.7-1.5 1.8-1.1 2.1-.8 2.1-.4zM326.5 206.2l.7-.2 .9-.1 .9 .1 .6 .2 .6 .4 .6 .5 .5 .6 .3 .6 .2 .6 .1 .9-.1 .9-.2 .6-.3 .6-.5 .6-.6 .5-.9 .5-.9 .2-.9 .1-.9-.2-.6-.2-.6-.3-.7-.6-.5-.6-.2-.6-.2-.6 0-.9 .1-.9 .3-.6 .4-.6 .5-.6 .6-.5zM299.1 246.1l2-.3 .9 .1 .6 .1 .7 .4 .3 .3 .2 .6-.1 .6-.1 .6-.4 .9-.5 .9-1.3 1.8-1.8 1.8-1.8 1.6-2.1 1.4-2.1 1.2-2.1 .9-2.1 .7-2.1 .3-1.2-.1-.6-.3-.3-.3-.3-.6 0-.9 .2-.9 .3-1.2 .6-1.2 .7-1.2 1-1.2 .8-.9 1.9-1.5 2.6-1.4 3.3-1.4zM276.9 264.1l1.4-.2 .9 0 .6 .2 .4 .3 .3 .6 .1 .9-.2 1.2-.5 1.5-.6 1.5-.8 1.5-1 1.5-1.2 1.8-2.5 3-3.3 3.3-3.3 2.8-8.4 6.7-3 2.1-2.4 1.4-1.5 .7-1.5 .6-1.5 .3-1.2 .2-1.2-.1-1.2-.2-.9-.4-.7-.6-.4-.6-.3-.6-.2-1.2 .1-1.5 .5-1.5 .8-1.5 1.2-1.8 1.4-1.7 1.6-1.6 2.6-2.2 9-7.2 2.4-1.8 2.7-1.9 3-1.8 3.3-1.7 3-1.2zM327.6 206.2l.8 0 .6 .1 .6 .2 .6 .4 .6 .5 .4 .6 .3 .6 .1 .9 0 .9-.2 .6-.2 .6-.5 .6-.5 .5-.6 .4-.6 .2-.9 .2-.6 0-.9-.2-.6-.3-.6-.4-.5-.4-.4-.6-.2-.6-.1-.6-.1-.6 .2-.9 .6-1.2 .5-.5 .6-.4 .9-.5zM298.8 247.6l1.4-.2 .9 .2 .5 .3 .3 .6-.2 .9-.4 .9-.8 1.2-1.2 1.4-1.2 1-1.5 1.1-1.5 .9-1.5 .7-1.2 .4-1.2 .1-.9-.1-.6-.4-.2-.3-.2-.6 .1-.6 .2-.6 .6-1.2 1.2-1.5 1.6-1.4 1.8-1.2 2.1-1zM274.6 266.2l1-.1 .9 0 .6 .2 .6 .4 .3 .4 .3 .9-.1 .9-.2 .9-.4 1.2-.6 1.2-1.7 2.7-2.2 2.7-2.6 2.7-3.3 2.8-8.7 6.9-2.4 1.8-2.4 1.5-1.5 .7-1.2 .5-1.5 .4-1.2 .1-1.2 0-.9-.1-.9-.4-.6-.5-.6-.8-.3-1.2 .1-1.2 .4-1.5 .7-1.5 1-1.5 1.3-1.5 1.5-1.5 1.9-1.6 9.6-7.8 4.2-3 3-1.9 2.4-1.2 2.7-1.1zM327.3 206.5l.8-.1 .6 .1 .6 .1 .6 .4 .5 .4 .5 .6 .3 .6 .2 .6-.1 1.2-.1 .6-.4 .7-.9 .9-.6 .3-.9 .3-.9 0-.6-.1-1.1-.6-.9-.9-.3-.6-.1-.6 0-1.2 .2-.6 .4-.6 .9-.9 .6-.4zM297.5 249.7l.6-.2 .6 0 .4 .2 .2 .3 0 .3-.2 .6-.7 1-1.2 1.1-1.5 .9-.9 .4-.6 .1-.3 0-.5-.2-.2-.3 0-.6 .3-.6 .7-.9 1.5-1.2 .9-.5zM272.6 267.7l1.8-.2 .9 .1 .6 .2 .5 .5 .3 .6 .1 .6-.1 .9-.3 .9-.5 1.2-1.4 2.4-1.9 2.4-2.4 2.5-3.3 2.8-9 7-2.1 1.6-2.1 1.3-2.4 1.1-1.2 .3-1.2 .3-1.2 0-.9-.2-.6-.3-.7-.5-.5-.9-.2-.9 .1-1.2 .4-1.2 .6-1.2 .8-1.2 1-1.2 1.4-1.5 1.9-1.6 4.5-3.6 5.1-4.2 3.3-2.5 2.1-1.4 2.4-1.3 2.1-.9zM327 206.8l.8-.2 .6 .1 .6 .1 .6 .2 .9 .8 .3 .5 .3 .6 .1 1.2-.2 .6-.2 .6-.8 .9-1 .5-1.2 .2-1.2-.2-.6-.4-.5-.4-.4-.6-.2-.6-.1-.6 0-.6 .1-.6 .3-.6 .8-.9zM272.7 268.6l1.4 .1 .6 .2 .4 .3 .3 .6 .1 .6 0 .6-.2 .9-.8 1.8-1.4 2.1-1.8 2.1-2.1 2.1-2.9 2.4-9.3 7.1-1.8 1.3-1.5 .9-2.1 1-1.2 .4-.9 .2-.9 0-.9-.1-.7-.3-.5-.4-.5-.8-.2-.9 .1-.9 .4-1.2 .6-1.2 .9-1.2 1-1.2 1.3-1.2 5.7-4.7 5.1-4.3 3.3-2.5 2.4-1.5 2.4-1.2 2.1-.8zM326.9 207.1l.9-.2 .6 0 .6 .1 .6 .3 .5 .4 .6 .9 .2 .6 .1 .6-.1 .6-.2 .6-.7 .9-1 .6-.6 .1-.6 .1-.9-.2-1-.6-.6-.9-.2-.6-.1-.6 .1-.6 .2-.6 .7-.9zM270.6 269.8l1.7-.2 .6 0 .7 .2 .4 .3 .3 .6 .1 .6 0 .6-.5 1.5-1.1 1.8-1.6 2.1-1.9 2-1.8 1.5-2.1 1.7-4.8 3.5-4.5 3.4-2.4 1.6-1.8 .8-1.8 .5-.9 .1-.6-.1-.6-.2-.6-.4-.4-.6-.1-.6 0-.9 .3-.9 .4-.9 .6-.9 .7-.9 1.2-1.2 1.7-1.5 4.3-3.5 4.8-4.2 2.4-1.9 2.1-1.5 1.8-1 1.8-.8zM327.7 207.1l1 0 .6 .3 .5 .3 .4 .4 .3 .5 .2 .9-.1 .9-.4 .9-.3 .4-.6 .4-.9 .3-.6 0-.6-.1-.9-.4-.7-.9-.3-.9 0-.6 .1-.6 .6-.9 .8-.6zM269.9 270.7l1.5-.2 .6 0 .6 .2 .4 .3 .2 .3 .2 .6-.1 .6-.5 1.5-.8 1.5-1.5 1.8-1.7 1.8-1.7 1.5-2 1.5-5.1 3.6-4.5 3.3-1.8 1.1-1.8 .9-1.5 .3-1.2-.1-.7-.4-.3-.3-.1-.6 0-.6 .2-.9 .5-.9 .6-.9 1.7-1.8 5-4.2 4.9-4.5 2.3-1.8 1.8-1.3 1.8-1.1 1.5-.7zM327.3 207.4l1.1-.1 .9 .3 .6 .5 .5 .8 .1 .9-.1 .6-.2 .5-.6 .7-.9 .5-.9 .1-1-.3-.7-.6-.5-.9-.1-.9 .3-.9 .8-.8zM269.2 271.6l1.3-.2 .6 0 .6 .2 .3 .2 .2 .4 .1 .9-.4 1.2-.8 1.5-1.2 1.5-1.5 1.5-1.7 1.5-1.9 1.4-5.5 3.7-5.2 3.6-1.3 .7-1.2 .4-.6 0-.6 0-.6-.3-.3-.5 0-.3 0-.6 .3-.6 .7-1.2 1.4-1.5 4.2-3.7 5-4.7 1.9-1.6 1.8-1.3 1.5-1 1.5-.7zM327.1 207.7l1-.2 .9 .2 .6 .4 .6 .8 .1 .6-.1 .9-.6 .9-.6 .4-.9 .3-.9-.2-.8-.5-.4-.6-.2-.9 .2-.9 .3-.6zM268.4 272.5l1.2-.2 .9 0 .3 .2 .3 .3 .1 .3 .1 .6-.4 1.2-.7 1.2-1 1.2-1.4 1.4-1.5 1.3-2.1 1.5-5.9 3.6-3.7 2.4-1.2 .6-.6 .2-.6 .1-.3-.1-.3-.2 0-.3 .1-.6 .8-1.2 3.9-3.8 5.1-5.2 1.8-1.6 1.8-1.2 1.8-1.1zM327.1 208l.7-.3 .9 .1 .8 .5 .4 .6 .2 .6-.1 .9-.4 .6-.6 .5-.6 .2-.9 0-.7-.4-.5-.6-.3-.6 .1-.9 .3-.6zM267.9 273.4l1.1-.2 .6 .1 .4 .4 .1 .6-.2 .9-.5 .9-.7 .9-1.1 1.2-1 .9-1.5 1.2-3 1.8-1.8 .9-1.5 .6-.9 .2-.3 .1-.3-.2-.1-.1 .2-.6 .9-1.5 1.7-2.1 1.6-1.8 1.7-1.5 1.6-1.2 1.7-1zM327.7 208l.7 0 .7 .3 .6 .6 .1 .6 0 .6-.3 .6-.5 .5-.6 .3-.6 0-.6-.2-.6-.5-.3-.7 0-.6 .3-.8 .4-.4zM266.8 274.6l.7-.2 .6 0 .6 .2 .1 .3 0 .6-.3 .6-.6 .9-.7 .8-1.8 1.5-2.1 1.3-1.8 .7-.6 .1-.3 0-.2-.2-.1-.3 .1-.3 .4-.9 .7-.9 1.1-1.2 2.1-1.8 1-.7zM327.5 208.3l.6-.1 .6 .1 .4 .3 .4 .6 .1 .6-.2 .6-.2 .3-.5 .4-.6 .1-.6-.1-.6-.4-.2-.3-.2-.6 .1-.6 .4-.6zM266.1 276.1l.5 0 .2 .3-.2 .6-.5 .6-.7 .6-.9 .6-.9 .4-.4-.1-.1-.3 .1-.3 .7-.9 1-.9zM327.5 208.6l.6-.1 .3 0 .6 .4 .2 .3 .1 .3 0 .6-.3 .4-.3 .3-.3 .1-.6 0-.5-.2-.3-.3-.1-.3-.1-.6 .3-.6z" fill="none" stroke="#2a2a2a" stroke-width="0.55"/>
<path d="M292.3 202.6 V329.3 M206.3 243.3 H333.5" stroke="#1c1c1c" stroke-width="0.9" fill="none"/>
<g font-family="Liberation Sans, sans-serif" font-size="5.0" fill="#2a2a2a" stroke="#2a2a2a" stroke-width="0.14"><text x="208.9" y="212.6">Q1</text><text x="208.9" y="219.9">3.78</text><text x="322.5" y="212.6" text-anchor="end">Q2</text><text x="322.5" y="219.9" text-anchor="end">17.7</text><text x="322.5" y="315.8" text-anchor="end">Q3</text><text x="322.5" y="323.1" text-anchor="end">10.2</text><text x="208.9" y="315.8">Q4</text><text x="208.9" y="323.1">68.4</text></g>
<text x="187.9" y="195.0" font-family="Liberation Sans, sans-serif" font-size="12.2" fill="#000" stroke="#000" stroke-width="0.45">F</text>
<path d="M188.8 310.6 V235.7 H185.1 L192.0 228.2 L198.9 235.7 H195.3 V310.6 Z" fill="#000"/>
<path d="M221.0 338.2 H295.1 V334.8 L303.3 341.5 L295.1 348.2 V344.7 H221.0 Z" fill="#000"/>
<text x="217.2" y="359.0" font-family="Liberation Sans, sans-serif" font-size="8.5" font-weight="bold" fill="#0a0a0a" stroke="#0a0a0a" stroke-width="0.28" textLength="85.4" lengthAdjust="spacingAndGlyphs">Apoptotic cells staining</text>
<text transform="translate(180.1 306.8) rotate(-90)" font-family="Liberation Sans, sans-serif" font-size="8.5" font-weight="bold" fill="#0a0a0a" stroke="#0a0a0a" stroke-width="0.28" textLength="67.0" lengthAdjust="spacingAndGlyphs">Dead cells staining</text>
<clipPath id="c6"><rect x="381.5" y="203.8" width="127.1" height="126.6"/></clipPath>
<rect x="381.5" y="203.8" width="127.1" height="126.6" fill="#fff" stroke="#9a9a9a" stroke-width="0.5"/>
<path d="M381.5 203.8 V330.4 H508.6" fill="none" stroke="#8a8a8a" stroke-width="0.5"/>
<path d="M381.8 330.4 v1.5 M399.2 330.4 v1.5 M416.7 330.4 v1.5 M434.1 330.4 v1.5 M451.6 330.4 v1.5 M469.1 330.4 v1.5 M486.5 330.4 v1.5 M503.9 330.4 v1.5 M381.5 329.2 h-1.5 M381.5 311.8 h-1.5 M381.5 294.3 h-1.5 M381.5 276.9 h-1.5 M381.5 259.4 h-1.5 M381.5 241.9 h-1.5 M381.5 224.5 h-1.5 M381.5 207.1 h-1.5" stroke="#555" stroke-width="0.5" fill="none"/>
<path d="M387.1 330.4 v.8 M390.1 330.4 v.8 M392.3 330.4 v.8 M394.0 330.4 v.8 M395.4 330.4 v.8 M396.5 330.4 v.8 M397.6 330.4 v.8 M398.5 330.4 v.8 M404.5 330.4 v.8 M407.6 330.4 v.8 M409.8 330.4 v.8 M411.4 330.4 v.8 M412.8 330.4 v.8 M414.0 330.4 v.8 M415.0 330.4 v.8 M415.9 330.4 v.8 M422.0 330.4 v.8 M425.0 330.4 v.8 M427.2 330.4 v.8 M428.9 330.4 v.8 M430.3 330.4 v.8 M431.4 330.4 v.8 M432.5 330.4 v.8 M433.4 330.4 v.8 M439.4 330.4 v.8 M442.5 330.4 v.8 M444.7 330.4 v.8 M446.3 330.4 v.8 M447.7 330.4 v.8 M448.9 330.4 v.8 M449.9 330.4 v.8 M450.8 330.4 v.8 M456.9 330.4 v.8 M459.9 330.4 v.8 M462.1 330.4 v.8 M463.8 330.4 v.8 M465.2 330.4 v.8 M466.3 330.4 v.8 M467.4 330.4 v.8 M468.3 330.4 v.8 M474.3 330.4 v.8 M477.4 330.4 v.8 M479.6 330.4 v.8 M481.2 330.4 v.8 M482.6 330.4 v.8 M483.8 330.4 v.8 M484.8 330.4 v.8 M485.7 330.4 v.8 M491.8 330.4 v.8 M494.8 330.4 v.8 M497.0 330.4 v.8 M498.7 330.4 v.8 M500.1 330.4 v.8 M501.2 330.4 v.8 M502.3 330.4 v.8 M503.2 330.4 v.8 M381.5 323.9 h-.8 M381.5 320.9 h-.8 M381.5 318.7 h-.8 M381.5 317.0 h-.8 M381.5 315.6 h-.8 M381.5 314.5 h-.8 M381.5 313.4 h-.8 M381.5 312.5 h-.8 M381.5 306.5 h-.8 M381.5 303.4 h-.8 M381.5 301.2 h-.8 M381.5 299.6 h-.8 M381.5 298.2 h-.8 M381.5 297.0 h-.8 M381.5 296.0 h-.8 M381.5 295.1 h-.8 M381.5 289.0 h-.8 M381.5 286.0 h-.8 M381.5 283.8 h-.8 M381.5 282.1 h-.8 M381.5 280.7 h-.8 M381.5 279.6 h-.8 M381.5 278.5 h-.8 M381.5 277.6 h-.8 M381.5 271.6 h-.8 M381.5 268.5 h-.8 M381.5 266.3 h-.8 M381.5 264.7 h-.8 M381.5 263.3 h-.8 M381.5 262.1 h-.8 M381.5 261.1 h-.8 M381.5 260.2 h-.8 M381.5 254.1 h-.8 M381.5 251.1 h-.8 M381.5 248.9 h-.8 M381.5 247.2 h-.8 M381.5 245.8 h-.8 M381.5 244.7 h-.8 M381.5 243.6 h-.8 M381.5 242.7 h-.8 M381.5 236.7 h-.8 M381.5 233.6 h-.8 M381.5 231.4 h-.8 M381.5 229.8 h-.8 M381.5 228.4 h-.8 M381.5 227.2 h-.8 M381.5 226.2 h-.8 M381.5 225.3 h-.8 M381.5 219.2 h-.8 M381.5 216.2 h-.8 M381.5 214.0 h-.8 M381.5 212.3 h-.8 M381.5 210.9 h-.8 M381.5 209.8 h-.8 M381.5 208.7 h-.8 M381.5 207.8 h-.8" stroke="#777" stroke-width="0.35" fill="none"/>
<g font-family="Liberation Sans, sans-serif" font-size="3.2" fill="#333"><text x="381.2" y="336.0">10<tspan dy="-1.1" font-size="2.3">0</tspan></text><text x="398.6" y="336.0">10<tspan dy="-1.1" font-size="2.3">1</tspan></text><text x="416.1" y="336.0">10<tspan dy="-1.1" font-size="2.3">2</tspan></text><text x="433.5" y="336.0">10<tspan dy="-1.1" font-size="2.3">3</tspan></text><text x="451.0" y="336.0">10<tspan dy="-1.1" font-size="2.3">4</tspan></text><text x="468.4" y="336.0">10<tspan dy="-1.1" font-size="2.3">5</tspan></text><text x="485.9" y="336.0">10<tspan dy="-1.1" font-size="2.3">6</tspan></text><text x="503.3" y="336.0">10<tspan dy="-1.1" font-size="2.3">7</tspan></text><text x="379.5" y="330.5" text-anchor="end">10<tspan dy="-1.1" font-size="2.3">0</tspan></text><text x="379.5" y="313.1" text-anchor="end">10<tspan dy="-1.1" font-size="2.3">1</tspan></text><text x="379.5" y="295.6" text-anchor="end">10<tspan dy="-1.1" font-size="2.3">2</tspan></text><text x="379.5" y="278.2" text-anchor="end">10<tspan dy="-1.1" font-size="2.3">3</tspan></text><text x="379.5" y="260.7" text-anchor="end">10<tspan dy="-1.1" font-size="2.3">4</tspan></text><text x="379.5" y="243.2" text-anchor="end">10<tspan dy="-1.1" font-size="2.3">5</tspan></text><text x="379.5" y="225.8" text-anchor="end">10<tspan dy="-1.1" font-size="2.3">6</tspan></text><text x="379.5" y="208.4" text-anchor="end">10<tspan dy="-1.1" font-size="2.3">7</tspan></text></g>
<path clip-path="url(#c6)" d="M467.4 224.5l2.3-.2 1.2 .1 1.2 .2 2.1 .6 1.2 .6 .9 .6 1.4 1.4 .7 .9 .4 .9 .4 .9 .2 .9 .1 .9-.1 1.2-.4 1.5-.7 1.5-1.1 1.5-1.5 1.2-1.5 .9-1.8 .7-1.5 .4-3 .4-1.1 .3-.7 .4-.7 .8-.2 .6-.2 .9-.4 3-.7 3.6-.2 1.5 0 2.1 .6 3.9 .2 2.1-.1 2.4-.3 2.4-.7 3-1.1 2.7-1.5 2.7-1.5 2.1-1.9 2-2.1 1.8-2.1 1.4-7 4.4-1.3 .9-1.3 1.1-1 1-1.1 1.4-4.1 6.7-1.1 1.5-1.2 1.5-1.5 1.5-1.7 1.4-1.8 1.3-2.1 1.1-3.3 1.4-3.6 1-3.6 .6-2.1 .1-1.8 0-1.8-.1-1.8-.2-3-.7-1.5-.6-1.5-.7-1.2-.7-1.2-.9-1.2-1.2-1.1-1.5-.6-1.5-.3-1.8 .1-1.8 .5-1.8 .9-1.8 1.1-1.5 1.4-1.5 1.5-1.2 1.6-1.1 2.1-1.2 1.8-.8 1.8-.7 7-2.2 2.6-1.2 1.8-1.2 4.2-3.2 4.6-2.8 1.5-1.2 .9-1.2 .8-1.8 1.3-6.3 1-3.3 1.2-2.7 1.7-2.7 1.4-1.8 1.5-1.5 1.8-1.5 1.8-1.1 1.8-.8 1.8-.6 1.5-.2 3.6-.4 .9-.3 .6-.5 .6-.9 .6-1.3 1-2.6 .4-1.5 .2-1.8-.3-3.6 0-1.5 .2-1.8 .6-1.5 .5-.9 .7-.9 .8-.9 1-.8 .9-.6 1.2-.6 1.2-.4zM380.9 255.4l.6-.3 .6 .1 .6 .4 .3 .4 .5 .9 .3 .9 .3 2.1 0 2.4-.5 2.1-.4 .9-.5 .7-.3 .2-.6 .3-.6-.1-.3-.2-.7-.9-.6-1.5-.3-2.1 0-2.1 .3-1.8 .6-1.5 .4-.6zM432.9 333.1l-.5-.3-.5-.6-.2-.6 0-.9 .3-.6 .5-.6 .6-.3 .6-.1 .6 0 .8 .4 .5 .6 .3 .6 0 .9-.2 .6-.5 .6-.5 .3M468.2 227.2l1.5-.1 1.8 .2 1.5 .6 1.2 .8 1.1 1.2 .6 1.2 .2 1.5-.2 1.5-.6 1.2-.9 1.2-1.2 .9-1.4 .7-1.5 .3-1.8 .2-2.4-.1-1.5-.3-.6-.3-.6-.5-.6-.9-.3-.8-.2-1-.1-.9 .1-1.2 .2-.9 .8-1.5 .7-.9 .6-.5 1.6-1 .8-.3zM450.6 251.5l1.7-.1 1.8 .1 2.1 .6 1.5 .7 .9 .7 .9 1.3 .7 1.8 .6 1.8 .4 2.1 .1 2.1-.2 2.1-.4 2.1-.7 2.1-1 2.1-1.1 1.8-1.4 1.8-1.2 1.2-1.6 1.5-5 4.1-2.7 1.8-3.9 2-1.4 1.1-.8 .9-.9 1.2-4.7 7.2-1.8 2.4-1.4 1.5-1.3 1.2-1.5 1.1-1.5 .9-2.7 1.2-3 1-3 .5-3.3 .2-3-.2-2.7-.7-2.4-1-.9-.6-.9-.7-1.1-1.1-.7-1.2-.5-1.2-.2-1.5 .2-1.5 .4-1.2 .9-1.5 .9-1.2 1.2-1.2 1.2-.9 1.6-1 1.5-.8 3-1.2 6.1-1.8 2.3-1 1.8-1.1 3.3-2.5 1.8-1.2 1.8-1.1 3-1.4 1-.7 .8-.9 .8-1.5 .7-2.2 1.7-6.2 .8-2.4 1.1-2.7 1.4-2.4 .9-1.2 1-1.2 1-.9 1.1-.9 1.2-.8 1.2-.6 1.2-.4zM381.5 259.9l.3-.1 .3 .7 0 .7-.3 .6-.3-.1-.2-.6 0-.6zM449.6 254.2l1.8-.3 1.5 .1 1.5 .4 1.3 .7 1.1 1 .9 1.2 .7 1.4 .5 1.8 .2 1.8 0 1.8-.3 2.1-.6 1.8-.6 1.5-1.1 1.8-1.3 1.8-1.5 1.8-3.8 3.9-1.4 1.2-1.3 1-1.5 .9-1.2 .6-4.3 1.4-.8 .4-.6 .5-.9 1.2-5.3 8.4-1.7 2.4-1.1 1.2-1.2 1.2-1.5 1.2-1.5 .9-2.4 1.2-2.4 .8-2.7 .5-2.7 .1-2.4-.2-2.4-.5-2.1-.9-1.5-1.1-1-1.1-.6-1.2-.3-1.2 0-1.2 .4-1.5 .7-1.2 .9-1.2 1.3-1.2 1.9-1.3 2.4-1.2 2.4-.8 5.3-1.5 2.2-.9 2.1-1.2 3.3-2.5 1.5-.9 1.8-.9 3.3-1.2 .6-.4 .5-.4 .6-.9 .4-1 1.6-6.2 1.2-3.6 1.2-3 1.4-2.8 1.6-2.3 1.7-1.8 .9-.8 1.2-.7 .9-.5zM449.5 256.3l1-.2 1.2 0 .9 .1 .9 .3 .9 .4 .7 .6 .6 .6 .6 .9 .5 .9 .3 1.2 .2 1.2 .1 1.2-.1 1.2-.2 1.2-.8 2.4-.5 1.2-.9 1.5-2.8 3.9-2.3 2.7-1.2 1.2-1.1 .9-.9 .7-1.2 .7-1.2 .5-.9 .2-.9 .2-1.2 0-1.2-.1-.9-.3-.7-.4-.3-.3-.2-.6-.2-1.2 .1-1.8 .3-2.7 .5-2.4 .6-2.4 .9-2.4 1-2.1 1.1-2.1 1.1-1.7 1.2-1.6 1.2-1.3 1.2-1 1.2-.7zM431.6 282.4l1.2-.2 .9 0 .9 .1 .6 .4 .4 .6 0 .6-.1 .9-.2 .9-.5 1.2-.8 1.5-4.2 6.9-1.8 2.3-1.1 1-1 .8-1.2 .8-1.2 .6-2.4 1-2.4 .5-2.7 .2-2.4-.2-1.2-.2-1.2-.4-.9-.4-.9-.6-.7-.6-.6-.6-.5-.9-.3-.9 0-.9 .2-1.2 .5-1.2 .6-.9 .9-.9 1.1-.9 1.8-1.1 2.1-.9 2.1-.6 4.8-1.2 2.4-.9 1.8-1 3.9-2.6 1.2-.7zM450 258.1l1.4-.1 .9 .2 .6 .3 .6 .3 .6 .5 .6 .7 .4 .8 .4 .9 .2 .9 .1 1.8-.3 1.8-.7 2.1-1.5 3-1.8 3-1.8 2.4-1.8 1.8-1 .8-.9 .6-1.8 .8-.9 .2-.9 .1-.9-.1-.6-.2-.9-.6-.6-.7-.5-1.2-.2-1.5 .1-1.8 .2-1.8 .5-2.1 .8-2.1 .8-1.8 1.2-2.1 1.3-2 1.2-1.5 1.5-1.5 1.2-.9 1.2-.6zM429.2 286.9l.6-.1 .6 0 .3 .4 .1 .6-.4 1.5-1.6 3.9-1.1 2.1-1.1 1.5-1.6 1.5-1.5 1-1.8 .9-2.1 .7-2.1 .3-2.1 0-1.8-.3-1.8-.6-1.2-.9-.5-.5-.4-.6-.3-.6-.1-.9 .1-.9 .3-.9 .5-.9 .5-.6 1.1-.9 .9-.6 1.5-.8 1.8-.6 2.1-.6 6.3-1.4 1.7-.5zM449 260.2l.6-.2 .9 0 1.2 .2 .6 .3 .6 .5 .7 1 .5 1.5 .1 1.5-.3 1.8-.6 2.1-1.2 2.7-1.3 2.4-1.4 2.1-1.3 1.5-1.8 1.4-1.5 .8-1.5 .3-.9 0-.6-.1-.9-.5-.7-.7-.4-.9-.3-1.2-.1-1.5 .1-1.5 .4-1.8 .5-1.8 .6-1.5 1-1.8 1-1.5 1.2-1.6 1.2-1.2 1.2-1 1.2-.8zM422.2 290.8l1.9 0 1.1 .3 .5 .3 .3 .3 .3 .9 0 .6-.2 .9-.7 1.5-1 1.2-1.4 1.2-1.3 .8-1.5 .6-1.8 .4-1.5 .1-1.5-.1-1.5-.3-1.2-.7-.9-.8-.3-.6-.2-.6 0-.6 .2-.6 .2-.6 .4-.6 .6-.6 .7-.6 1.7-.9 2.1-.8 2.4-.5zM448.5 262l.8-.1 .6 0 .6 .1 .6 .2 .5 .4 .4 .5 .5 1 .2 1.5-.1 1.5-.3 1.8-.7 2.1-1 2.1-1 1.8-1.1 1.5-1.3 1.3-1.2 .9-1.5 .6-1.2 .2-1.2-.2-.7-.4-.6-.6-.5-.9-.3-1.2-.1-1.2 .2-1.5 .3-1.5 .4-1.5 .7-1.5 .8-1.5 1-1.4 .9-1.1 .9-.9 1.2-.9 1.2-.7zM417.9 292.9l1.4-.2 1.2 0 1.2 .1 .8 .4 .5 .6 .2 .6-.1 .6-.5 .9-.8 .9-.9 .6-1 .5-1.2 .3-1.2 .2-1.2-.1-.9-.2-.7-.4-.6-.6-.3-.6 .1-.9 .3-.6 .5-.6 .9-.6 1-.5zM448.3 263.5l1 0 .9 .4 .7 .8 .4 .9 .2 1.2 0 1.5-.4 1.8-.6 1.8-.6 1.5-.9 1.5-.9 1.2-1.2 1.2-1.2 .9-1.2 .4-1.2 .2-.9-.2-.6-.4-.6-.6-.4-.9-.3-1.2-.1-1.2 .2-1.2 .2-1.2 .5-1.5 .7-1.5 .7-1.2 .9-1.2 .9-.9 .9-.8 .9-.6 1.2-.5zM446.8 265l1-.2 .9 .1 .9 .5 .6 .8 .3 .9 .1 1.2-.1 1.5-.3 1.5-.6 1.5-.8 1.5-.8 1.2-.8 .9-1 .9-1.1 .6-1.2 .3-.9-.1-.6-.3-.6-.5-.4-.6-.3-.9-.2-.9 0-1.2 .4-2.1 .9-2.1 .7-1.2 .7-.9 1.5-1.5 .9-.5zM447 265.9l.8 0 .9 .3 .6 .6 .3 .6 .2 .9 .1 1.2-.2 1.2-.4 1.5-.5 1.2-.7 1.2-.6 .9-.9 .9-.9 .6-.9 .4-.9 .2-.9-.2-.6-.4-.3-.3-.4-.6-.2-.9-.1-.9 0-.9 .1-.9 .4-1.2 .8-1.8 1.2-1.7 .6-.6 .9-.7 .9-.4zM446.9 266.8l.6 0 .6 .3 .6 .6 .3 .6 .2 .9 0 .9-.1 1.2-.4 1.2-.5 1.2-.6 .9-.7 .9-.6 .5-.6 .5-.9 .4-.9 .1-.6-.2-.6-.3-.3-.4-.3-.6-.2-.6-.1-.9 0-.9 .5-1.8 .7-1.5 1.2-1.6 1.2-.9 .9-.4zM446.3 267.7l.6 0 .6 .2 .5 .4 .4 .6 .1 .6 .1 .9-.1 .9-.2 .9-.3 .9-.5 .9-.6 .8-.6 .6-.6 .5-.9 .4-.6 .1-.6-.2-.6-.3-.3-.4-.3-.9-.1-1.2 .2-1.5 .7-1.5 1-1.4 1.2-1zM445.9 268.6l.4-.1 .6 .1 .4 .3 .5 .6 .2 1.2-.2 1.5-.7 1.5-1 1.2-1 .7-.6 .1-.6-.1-.6-.4-.4-.9-.1-1.2 .2-1.2 .5-1.2 .7-.9 .9-.8zM445.7 269.5l.6 0 .3 .1 .5 .5 .2 .9-.1 1.2-.5 1.2-.7 .9-.9 .5-.6 .1-.3 0-.4-.3-.4-.6-.1-.9 .2-.9 .4-1.1 .5-.7 .7-.6zM445.3 270.7l.4-.1 .3 0 .3 .3 .2 .4 0 .6-.2 .7-.5 .8-.4 .4-.6 .1-.3-.1-.3-.3-.1-.4 0-.6 .4-1 .3-.4z" fill="none" stroke="#2a2a2a" stroke-width="0.55"/>
<path d="M463.1 203.8 V330.4 M381.5 253.3 H508.6" stroke="#1c1c1c" stroke-width="0.9" fill="none"/>
<g font-family="Liberation Sans, sans-serif" font-size="5.0" fill="#2a2a2a" stroke="#2a2a2a" stroke-width="0.14"><text x="384.1" y="213.8">Q1</text><text x="384.1" y="221.1">3.84</text><text x="497.6" y="213.8" text-anchor="end">Q2</text><text x="497.6" y="221.1" text-anchor="end">3.77</text><text x="497.6" y="316.9" text-anchor="end">Q3</text><text x="497.6" y="324.2" text-anchor="end">1.45</text><text x="384.1" y="316.9">Q4</text><text x="384.1" y="324.2">90.9</text></g>
<text x="363.6" y="195.6" font-family="Liberation Sans, sans-serif" font-size="12.2" font-weight="bold" fill="#000">G</text>
<path d="M365.3 310.6 V236.5 H361.6 L368.5 229.0 L375.4 236.5 H371.6 V310.6 Z" fill="#000"/>
<path d="M396.2 337.7 H470.0 V334.1 L478.2 340.9 L470.0 347.7 V344.3 H396.2 Z" fill="#000"/>
<text x="391.2" y="359.0" font-family="Liberation Sans, sans-serif" font-size="8.5" font-weight="bold" fill="#0a0a0a" stroke="#0a0a0a" stroke-width="0.28" textLength="84.1" lengthAdjust="spacingAndGlyphs">Apoptotic cells staining</text>
<text transform="translate(356.6 308.0) rotate(-90)" font-family="Liberation Sans, sans-serif" font-size="8.5" font-weight="bold" fill="#0a0a0a" stroke="#0a0a0a" stroke-width="0.28" textLength="67.7" lengthAdjust="spacingAndGlyphs">Dead cells staining</text>
<clipPath id="c7"><rect x="557.2" y="203.8" width="126.4" height="126.6"/></clipPath>
<rect x="557.2" y="203.8" width="126.4" height="126.6" fill="#fff" stroke="#9a9a9a" stroke-width="0.5"/>
<path d="M557.2 203.8 V330.4 H683.6" fill="none" stroke="#8a8a8a" stroke-width="0.5"/>
<path d="M557.5 330.4 v1.5 M575.0 330.4 v1.5 M592.4 330.4 v1.5 M609.9 330.4 v1.5 M627.3 330.4 v1.5 M644.8 330.4 v1.5 M662.2 330.4 v1.5 M679.6 330.4 v1.5 M557.2 329.2 h-1.5 M557.2 311.8 h-1.5 M557.2 294.3 h-1.5 M557.2 276.9 h-1.5 M557.2 259.4 h-1.5 M557.2 241.9 h-1.5 M557.2 224.5 h-1.5 M557.2 207.1 h-1.5" stroke="#555" stroke-width="0.5" fill="none"/>
<path d="M562.8 330.4 v.8 M565.8 330.4 v.8 M568.0 330.4 v.8 M569.7 330.4 v.8 M571.1 330.4 v.8 M572.2 330.4 v.8 M573.3 330.4 v.8 M574.2 330.4 v.8 M580.2 330.4 v.8 M583.3 330.4 v.8 M585.5 330.4 v.8 M587.1 330.4 v.8 M588.5 330.4 v.8 M589.7 330.4 v.8 M590.7 330.4 v.8 M591.6 330.4 v.8 M597.7 330.4 v.8 M600.7 330.4 v.8 M602.9 330.4 v.8 M604.6 330.4 v.8 M606.0 330.4 v.8 M607.1 330.4 v.8 M608.2 330.4 v.8 M609.1 330.4 v.8 M615.1 330.4 v.8 M618.2 330.4 v.8 M620.4 330.4 v.8 M622.0 330.4 v.8 M623.4 330.4 v.8 M624.6 330.4 v.8 M625.6 330.4 v.8 M626.5 330.4 v.8 M632.6 330.4 v.8 M635.6 330.4 v.8 M637.8 330.4 v.8 M639.5 330.4 v.8 M640.9 330.4 v.8 M642.0 330.4 v.8 M643.1 330.4 v.8 M644.0 330.4 v.8 M650.0 330.4 v.8 M653.1 330.4 v.8 M655.3 330.4 v.8 M656.9 330.4 v.8 M658.3 330.4 v.8 M659.5 330.4 v.8 M660.5 330.4 v.8 M661.4 330.4 v.8 M667.5 330.4 v.8 M670.5 330.4 v.8 M672.7 330.4 v.8 M674.4 330.4 v.8 M675.8 330.4 v.8 M676.9 330.4 v.8 M678.0 330.4 v.8 M678.9 330.4 v.8 M557.2 323.9 h-.8 M557.2 320.9 h-.8 M557.2 318.7 h-.8 M557.2 317.0 h-.8 M557.2 315.6 h-.8 M557.2 314.5 h-.8 M557.2 313.4 h-.8 M557.2 312.5 h-.8 M557.2 306.5 h-.8 M557.2 303.4 h-.8 M557.2 301.2 h-.8 M557.2 299.6 h-.8 M557.2 298.2 h-.8 M557.2 297.0 h-.8 M557.2 296.0 h-.8 M557.2 295.1 h-.8 M557.2 289.0 h-.8 M557.2 286.0 h-.8 M557.2 283.8 h-.8 M557.2 282.1 h-.8 M557.2 280.7 h-.8 M557.2 279.6 h-.8 M557.2 278.5 h-.8 M557.2 277.6 h-.8 M557.2 271.6 h-.8 M557.2 268.5 h-.8 M557.2 266.3 h-.8 M557.2 264.7 h-.8 M557.2 263.3 h-.8 M557.2 262.1 h-.8 M557.2 261.1 h-.8 M557.2 260.2 h-.8 M557.2 254.1 h-.8 M557.2 251.1 h-.8 M557.2 248.9 h-.8 M557.2 247.2 h-.8 M557.2 245.8 h-.8 M557.2 244.7 h-.8 M557.2 243.6 h-.8 M557.2 242.7 h-.8 M557.2 236.7 h-.8 M557.2 233.6 h-.8 M557.2 231.4 h-.8 M557.2 229.8 h-.8 M557.2 228.4 h-.8 M557.2 227.2 h-.8 M557.2 226.2 h-.8 M557.2 225.3 h-.8 M557.2 219.2 h-.8 M557.2 216.2 h-.8 M557.2 214.0 h-.8 M557.2 212.3 h-.8 M557.2 210.9 h-.8 M557.2 209.8 h-.8 M557.2 208.7 h-.8 M557.2 207.8 h-.8" stroke="#777" stroke-width="0.35" fill="none"/>
<g font-family="Liberation Sans, sans-serif" font-size="3.2" fill="#333"><text x="556.9" y="336.0">10<tspan dy="-1.1" font-size="2.3">0</tspan></text><text x="574.4" y="336.0">10<tspan dy="-1.1" font-size="2.3">1</tspan></text><text x="591.8" y="336.0">10<tspan dy="-1.1" font-size="2.3">2</tspan></text><text x="609.2" y="336.0">10<tspan dy="-1.1" font-size="2.3">3</tspan></text><text x="626.7" y="336.0">10<tspan dy="-1.1" font-size="2.3">4</tspan></text><text x="644.1" y="336.0">10<tspan dy="-1.1" font-size="2.3">5</tspan></text><text x="661.6" y="336.0">10<tspan dy="-1.1" font-size="2.3">6</tspan></text><text x="679.0" y="336.0">10<tspan dy="-1.1" font-size="2.3">7</tspan></text><text x="555.2" y="330.5" text-anchor="end">10<tspan dy="-1.1" font-size="2.3">0</tspan></text><text x="555.2" y="313.1" text-anchor="end">10<tspan dy="-1.1" font-size="2.3">1</tspan></text><text x="555.2" y="295.6" text-anchor="end">10<tspan dy="-1.1" font-size="2.3">2</tspan></text><text x="555.2" y="278.2" text-anchor="end">10<tspan dy="-1.1" font-size="2.3">3</tspan></text><text x="555.2" y="260.7" text-anchor="end">10<tspan dy="-1.1" font-size="2.3">4</tspan></text><text x="555.2" y="243.2" text-anchor="end">10<tspan dy="-1.1" font-size="2.3">5</tspan></text><text x="555.2" y="225.8" text-anchor="end">10<tspan dy="-1.1" font-size="2.3">6</tspan></text><text x="555.2" y="208.4" text-anchor="end">10<tspan dy="-1.1" font-size="2.3">7</tspan></text></g>
<path clip-path="url(#c7)" d="M643.6 228.1l2.4-.1 2.7 .2 2.4 .6 2.1 .8 1.8 1.2 .9 .8 .6 .7 .9 1.5 .3 .9 .1 .9 0 .9-.3 1.2-.5 1.2-.7 .9-.8 .9-1.1 .9-1.2 .8-2.1 1-.7 .6-.5 .6-.4 .6-.3 .9-.2 .9 0 .4 .3 .4 .6 .2 2.1 .4 .9 .4 1.2 .8 1 1 1.9 2.4 .6 1.2 .2 .6 .1 .9-.3 1.5-1 2.4-1.7 3-6.7 9.3-2.1 2.7-2.3 2.7-2.6 2.7-2.7 2.5-3.3 2.7-3.3 2.4-3.6 2.4-3.3 1.9-3.6 1.8-3.6 1.5-3.9 1.1-3 .6-4.8 .5-2.1 .5-.9 .4-1 .6-3.2 2.6-1.5 1.1-1.8 .9-1.8 .5-1.2 .2-1.2 .1-1.2 0-1.2-.2-2.1-.6-1.2-.6-.9-.6-1.1-1-.8-1.2-.6-1.2-.2-1.2-.1-1.2 .3-1.5 .4-1.2 .7-1.2 1.4-1.5 .9-.7 1.2-.8 2.1-.8 4.8-1.4 1.2-.6 1-.8 .8-.8 .7-1 3.1-5.4 2.4-3.3 1.5-1.8 1.7-1.8 4.4-4.1 4.2-3.5 4.5-3.4 3.9-2.6 3.6-2.1 3.9-1.9 3.3-1.2 3-.9 4.5-.8 1.8-.5 1.7-.9 1-.9 .2-.6-.1-.6-1.4-2.4-.7-.9-1-.6-2.4-.8-1.5-.6-1.2-.6-1.2-.9-1.1-1-.9-1.2-.6-1.2-.3-1.2 .1-1.5 .3-1.2 .9-1.5 1.1-1.2 1.4-1 1.8-.9 2.1-.7zM643.8 229.9l1.9-.1 1.8 .1 1.8 .3 1.8 .7 1.5 .8 1 .9 .9 1.2 .5 1.2 .1 .9-.2 1.2-.3 .9-.7 .9-.7 .8-.9 .6-3 1.8-1.5 1.5-.6 .4-.3 0-.6-.2-1.1-1-.7-.4-3.6-1.2-1.8-1-.9-.8-.8-.8-.5-.9-.3-.9-.1-1.2 .3-1.2 .7-1.2 .7-.8 1.2-1 1.2-.6 1.5-.5zM649.5 251.5l.7 0 .6 0 .6 .2 .7 .4 .7 .6 .5 .6 1.1 1.7 .4 1.3 .1 1.2-.4 1.5-.6 1.5-1.1 1.8-1.8 2.4-4.2 5.1-3.8 4.3-2.7 2.8-2.4 2.3-2.7 2.4-2.7 2.2-3.3 2.3-3.9 2.5-3.3 1.8-3.3 1.5-2.4 .8-2.1 .6-2.4 .4-3.9 .4-1.8 .3-1.8 .5-1.5 .6-1.2 .6-.9 .7-2.7 2.7-1.2 1-1.2 .8-1.5 .6-1.2 .3-1.2 .2-1.2 0-1.2-.2-1.2-.4-1-.5-.8-.6-.9-.9-.6-.9-.3-.9-.1-.9 0-.9 .1-.9 .4-.9 .5-.9 .5-.6 1.3-1.1 1.5-.8 1.8-.7 3.6-.7 1.1-.3 1.3-.6 1.5-1.1 1.3-1.3 1.2-1.5 .8-1.2 2.8-4.8 1.2-1.8 1.5-1.8 2-2.1 2.4-2.2 3-2.5 3-2.4 3.3-2.4 3.3-2.1 3-1.7 2.4-1.2 3-1.2 3-.9 2.4-.4 3.6-.2 1.2-.3 1.5-.7 3.6-2.7 .9-.4zM643.8 231.1l2.2-.2 2.1 .3 1.2 .3 .9 .4 1.5 .9 .7 .7 .4 .6 .3 .6 .2 .9 0 .9-.2 .6-.7 1.2-.7 .7-1.1 .8-2.8 1.5-.9 .2-.9-.1-3.9-1.1-1.2-.6-1.1-.8-.8-.9-.6-1.2-.1-1.2 .3-1.2 .4-.6 .5-.6 1.1-.9 1.5-.7zM648.7 254.2l.6-.2 .6 0 .6 .1 .6 .3 1 1 .7 1.2 .2 1.2-.1 1.2-.5 1.5-.8 1.5-1.5 2.1-2.4 3-3.1 3.6-2.8 2.9-2.7 2.7-3 2.7-3 2.4-2.7 2-3.6 2.5-3 1.8-2.7 1.4-3 1.3-2.4 .8-2.1 .4-1.8 .3-3.6 .2-1.8 .3-2.4 .7-2.1 .8-1.2 .7-.9 .7-2.6 3-1 1-1.2 .8-1.2 .6-.9 .2-1.2 .2-1.2 0-.9-.2-.9-.3-.9-.5-.7-.6-.5-.6-.6-1.2-.1-.6 0-.9 .2-.9 .3-.6 .9-1.2 1.1-.9 1.5-.8 1.5-.4 3.6-.5 1.2-.3 1.5-.7 1.2-.9 2-1.8 1.5-1.8 1-1.5 1.7-3.3 .9-1.5 1.3-1.8 1.5-1.8 1.8-1.9 2.1-1.9 2.7-2.2 3-2.2 3.6-2.5 3.3-2 3-1.6 2.7-1.1 2.4-.7 2.1-.4 2.1-.1 3.6 .1 .9-.1 .9-.3 .9-.4 .6-.5 2.7-2.6 .9-.6zM644.5 232l1.5-.1 1.8 .2 1.5 .5 1.3 .9 .8 .9 .3 .6 .1 .6 0 .6-.1 .6-.3 .6-.4 .6-.8 .7-1.2 .7-1.2 .5-1.2 .3-1.5-.2-1.8-.4-1.2-.5-1.2-.8-.7-.9-.4-.9-.1-.6 .1-.6 .4-.9 .7-.8 .9-.7 1.2-.5zM649 256.9l.9 0 .6 .3 .3 .3 .4 .9 .1 .9-.3 1.2-.5 1.2-.9 1.5-1 1.5-1.9 2.4-1.8 2.1-2.2 2.4-2.1 2.1-4.8 4.3-2.7 2.2-2.7 2-3.6 2.5-3.6 2.1-3 1.5-3 1.1-2.1 .6-1.8 .2-4.8 .2-1.8 .1-1.8 .4-3 .8-1.5 .3-.7 0 0-.3 .8-1.2 2.6-3.1 1-1.4 .8-1.4 2.1-4.3 .9-1.5 1.2-1.6 1.7-2 2.2-2 2.4-2 3-2.3 3-2 3-1.9 2.7-1.4 2.4-1.1 2.4-.8 2.1-.4 1.8-.2 3.9 .1 1.2-.1 1.2-.3 1.5-.5 1.2-.6 1-.7 2-1.5zM593.4 292.3l5.2 0 .3 .1 .1 .2-.3 .6-1.2 2.4-.9 1.5-.7 .9-.9 .8-.9 .5-1.2 .5-1.2 .2-.9 0-1.2-.3-.9-.5-.9-.9-.3-.6-.2-.6-.1-.6 .1-.6 .2-.6 .3-.6 .9-.9 .6-.4 .9-.5 1.5-.4zM644.9 232.9l1.4 0 1.2 .2 1.2 .4 .9 .6 .6 .9 .2 .9-.2 .9-.6 .9-.8 .6-1 .5-.9 .2-.9 .1-1.2-.2-1.2-.3-.9-.4-.7-.5-.5-.6-.3-.9 .1-.9 .2-.6 .5-.6 .9-.6 1-.4zM647.4 259.9l1-.2 .6 .2 .2 .3 .1 .3 0 .9-.5 1.2-.8 1.5-1.2 1.8-1.4 1.8-3.2 3.6-4 3.9-4.2 3.5-4.8 3.5-3.9 2.5-3.3 1.8-2.7 1.1-2.7 .9-2.7 .4-2.7-.1-1.8-.2-1.5-.3-.9-.4-.4-.4-.1-.6 0-.9 .7-2.7 1-2.4 1.4-2.4 1.7-2.1 2.3-2.3 2.7-2.2 3.3-2.4 2.7-1.7 2.7-1.6 2.4-1.2 2.1-.8 1.8-.6 1.5-.3 1.5-.1 3.3-.2 2.4-.4 3-.9zM591 293.8l1.3-.3 1.2 0 1.2 .3 .5 .3 .3 .3 .1 .3 .1 .6-.2 .9-.5 .9-.9 .9-1.2 .6-.9 .2-.6 .1-.9-.2-.6-.2-.6-.5-.3-.3-.4-.9 0-.6 .2-.6 .4-.6 .4-.4 .6-.4zM644.4 234.1l1-.2 .9 0 .9 .2 .6 .3 .7 .6 .3 .6 0 .6-.2 .6-.5 .5-.6 .3-1.2 .4-1.2-.1-.7-.2-.7-.3-.4-.3-.4-.6-.1-.3 0-.6 .2-.5 .4-.4 .4-.3zM645.1 262l1.2-.2 .6 .1 .3 .2 .1 .2 .1 .6-.3 .9-.7 1.5-1 1.5-1.2 1.5-2.9 3.3-3.7 3.4-4.2 3.4-4.2 3-3.6 2.3-3 1.6-2.7 1.2-2.7 .8-2.4 .3-1.2 0-1.1-.1-1.3-.3-.8-.3-.7-.4-.5-.5-.3-.6-.1-.6 0-.9 .1-.9 .7-2.1 1.2-2.1 1.6-2 1.9-1.9 2.3-1.9 3-2.1 2.7-1.8 2.4-1.3 2.1-1 2.1-.9 2.7-.7 3.9-.5 1.5-.3zM591.4 295.3l.9-.2 .7 .2 .3 .3 .1 .3-.2 .6-.3 .4-.6 .3-.6 .1-.7-.2-.3-.3-.1-.6 .3-.6zM642.8 263.5l1.1-.2 .9-.1 .6 .1 .2 .2 .2 .3-.1 .9-.3 .9-.7 1.2-.9 1.2-2.6 3-3.3 3.2-3.6 3-4.2 3-3.3 2.1-3.3 1.8-2.7 1.2-2.4 .8-2.4 .3-1.9-.1-1.1-.3-.8-.3-.7-.5-.4-.4-.3-.6-.2-.6 0-1.2 .4-1.5 1-1.8 1.3-1.7 1.5-1.6 1.8-1.5 2.5-1.8 2.3-1.5 2.1-1.2 2.1-1 1.8-.8 2.1-.7 5.7-1.4zM642.3 264.4l1-.1 .6 .1 .5 .3 .1 .3-.1 .6-.3 .9-.7 1.2-.9 1.2-2.4 2.7-3.1 2.8-3.3 2.7-3.9 2.8-3 1.8-2.7 1.4-2.4 1.1-2.4 .7-2.1 .3-1.8-.2-.9-.2-.6-.3-.6-.4-.5-.5-.3-.9 0-1.2 .3-1.2 .9-1.5 1.1-1.4 1.3-1.3 1.7-1.4 1.8-1.2 3.3-2 3.1-1.4 6.2-2.1 7.2-2.8zM641.6 265.3l.8 0 .6 .2 .3 .4 0 .3-.2 .6-.4 .9-1.5 2.1-2.3 2.4-2.8 2.5-3 2.4-3.3 2.2-2.7 1.6-2.4 1.3-2.1 .8-2.1 .6-1.8 .3-.9-.1-.9-.1-1.2-.5-.6-.4-.3-.4-.3-.6 0-.9 .2-.9 .7-1.2 .9-1.1 1-1 1.1-.9 1.5-1 1.8-1.1 1.8-.9 6.3-2.7 6.6-3.1 3-1.1zM640.9 266.2l.6 0 .3 .2 .3 .4 0 .3-.5 1.2-1.3 1.8-1.9 2.1-2.3 2-2.7 2.2-2.7 1.8-2.4 1.5-2.4 1.2-2.1 .9-1.5 .4-1.5 .3-1.2-.1-1.2-.4-.6-.5-.3-.3-.2-.6 0-.6 .2-.6 .3-.6 1.2-1.3 1.8-1.4 2-1.2 12.1-6.5 3.6-1.6 1.2-.4zM638.6 267.4l1.4-.2 .3 0 .4 .2 .2 .3 0 .3-.2 .6-.4 .6-1.1 1.5-1.4 1.5-2 1.8-2.3 1.8-2.1 1.5-1.9 1.1-1.8 1-2.1 .9-1.5 .5-1.2 .1-.9-.1-.5-.2-.3-.3-.1-.3 0-.6 .2-.6 .4-.6 1.1-1.2 2.3-1.8 3.9-2.7 3.9-2.4 3.2-1.7zM638 268.3l.8-.1 .6 .1 .2 .3 0 .3-.4 .9-.7 .9-1 1.2-1.6 1.5-1.5 1.2-3.4 2.4-2.8 1.5-1.4 .6-1.2 .2-.9 0-.4-.2-.2-.3 .1-.3 .2-.6 .3-.6 1.4-1.5 2.1-1.8 2.4-1.8 2.9-1.8 2.6-1.4zM636.8 269.5l.8-.1 .3 .1 .1 .3-.1 .6-1.2 1.5-1.9 1.8-2.4 1.8-2.6 1.5-1.8 .7-.6 0-.4-.1-.2-.3 .1-.3 .5-.9 1-1.2 1.4-1.2 1.9-1.5 1.9-1.2 1.7-.9zM634.7 271.3l.8-.2 .3 .1 .1 .1-.1 .3-.7 .9-.9 .9-1.2 .9-1.5 .9-1.1 .4-.3 0-.3-.1 0-.3 .4-.6 1.2-1.2 1.7-1.2z" fill="none" stroke="#2a2a2a" stroke-width="0.55"/>
<path d="M641.6 203.8 V330.4 M557.2 248.3 H683.6" stroke="#1c1c1c" stroke-width="0.9" fill="none"/>
<g font-family="Liberation Sans, sans-serif" font-size="5.0" fill="#2a2a2a" stroke="#2a2a2a" stroke-width="0.14"><text x="559.8" y="213.8">Q1</text><text x="559.8" y="221.1">3.53</text><text x="672.6" y="213.8" text-anchor="end">Q2</text><text x="672.6" y="221.1" text-anchor="end">6.33</text><text x="672.6" y="316.9" text-anchor="end">Q3</text><text x="672.6" y="324.2" text-anchor="end">8.37</text><text x="559.8" y="316.9">Q4</text><text x="559.8" y="324.2">81.8</text></g>
<text x="540.3" y="195.6" font-family="Liberation Sans, sans-serif" font-size="12.2" font-weight="bold" fill="#000">H</text>
<path d="M540.1 310.6 V236.5 H536.1 L543.0 229.0 L549.9 236.5 H546.1 V310.6 Z" fill="#000"/>
<path d="M572.0 338.2 H645.7 V334.8 L653.9 341.5 L645.7 348.2 V344.7 H572.0 Z" fill="#000"/>
<text x="566.2" y="359.0" font-family="Liberation Sans, sans-serif" font-size="8.5" font-weight="bold" fill="#0a0a0a" stroke="#0a0a0a" stroke-width="0.28" textLength="84.9" lengthAdjust="spacingAndGlyphs">Apoptotic cells staining</text>
<text transform="translate(531.9 308.0) rotate(-90)" font-family="Liberation Sans, sans-serif" font-size="8.5" font-weight="bold" fill="#0a0a0a" stroke="#0a0a0a" stroke-width="0.28" textLength="67.0" lengthAdjust="spacingAndGlyphs">Dead cells staining</text>
<path d="M88.0 509.3 V508.0 M81.1 508.0 H94.8" stroke="#000" stroke-width="0.8" fill="none"/><path d="M127.1 425.7 V414.6 M120.2 414.6 H133.9" stroke="#5c5c5c" stroke-width="0.8" fill="none"/>
<rect x="75.2" y="509.3" width="25.5" height="17.5" fill="#000"/>
<rect x="115.15" y="426.55" width="23.80" height="100.25" fill="#a0a0a0" stroke="#000" stroke-width="1.7"/>
<path d="M62.2 390.0 V526.8 M57.1 526.8 H154.0 M57.1 526.8 H62.2 M57.1 492.8 H62.2 M57.1 458.7 H62.2 M57.1 424.6 H62.2 M57.1 390.6 H62.2 M87.8 526.8 v5.0 M126.9 526.8 v5.0" stroke="#000" stroke-width="1.2" fill="none"/>
<g font-family="Liberation Sans, sans-serif" font-size="9.70" font-weight="bold" fill="#111"><text x="55.0" y="530.3" text-anchor="end">0</text><text x="55.0" y="496.2" text-anchor="end">5</text><text x="55.0" y="462.2" text-anchor="end">10</text><text x="55.0" y="428.1" text-anchor="end">15</text><text x="55.0" y="394.1" text-anchor="end">20</text></g>
<text transform="translate(35.3 507.8) rotate(-90)" font-family="Liberation Sans, sans-serif" font-size="11.09" font-weight="bold" fill="#111" textLength="99.8" lengthAdjust="spacingAndGlyphs">Apoptotic cells (%)</text>
<path d="M87.8 500.3 V398.0 H126.9 V406.5" stroke="#000" stroke-width="1.1" fill="none"/>
<path d="M94.49 385.08 L94.49 391.32 M91.79 386.64 L97.19 389.76 M97.19 386.64 L91.79 389.76 M103.03 385.08 L103.03 391.32 M100.33 386.64 L105.73 389.76 M105.73 386.64 L100.33 389.76 M111.57 385.08 L111.57 391.32 M108.87 386.64 L114.27 389.76 M114.27 386.64 L108.87 389.76 M120.11 385.08 L120.11 391.32 M117.41 386.64 L122.81 389.76 M122.81 386.64 L117.41 389.76" stroke="#111" stroke-width="1.15" fill="none"/>
<text x="4.8" y="384.6" font-family="Liberation Sans, sans-serif" font-size="12.2" font-weight="bold" fill="#000">I</text>
<text transform="translate(91.3 542.7) rotate(-45)" text-anchor="end" font-family="Liberation Sans, sans-serif" font-size="10.20" font-weight="bold" fill="#111">ACC/NK</text>
<text transform="translate(130.1 543.3) rotate(-45)" text-anchor="end" font-family="Liberation Sans, sans-serif" font-size="10.20" font-weight="bold" fill="#111">ACC<tspan dy="-4.4" font-size="6.6" font-weight="normal" letter-spacing=".3">-/-</tspan><tspan dy="4.4">/NK</tspan></text>
<path d="M245.6 454.3 V452.5 M239.1 452.5 H252.2" stroke="#000" stroke-width="0.8" fill="none"/><path d="M281.3 416.7 V410.4 M275.0 410.4 H287.6" stroke="#5c5c5c" stroke-width="0.8" fill="none"/>
<rect x="233.6" y="454.3" width="24.1" height="73.4" fill="#000"/>
<rect x="270.55" y="417.55" width="21.50" height="110.15" fill="#a0a0a0" stroke="#000" stroke-width="1.7"/>
<path d="M221.6 402.6 V527.7 M216.5 527.7 H305.8 M216.5 527.7 H221.6 M216.5 486.2 H221.6 M216.5 444.7 H221.6 M216.5 403.2 H221.6 M245.1 527.7 v5.0 M281.2 527.7 v5.0" stroke="#000" stroke-width="1.2" fill="none"/>
<g font-family="Liberation Sans, sans-serif" font-size="8.80" font-weight="bold" fill="#111"><text x="215.0" y="530.9" text-anchor="end">0</text><text x="215.0" y="489.4" text-anchor="end">2</text><text x="215.0" y="447.9" text-anchor="end">4</text><text x="215.0" y="406.4" text-anchor="end">6</text></g>
<text transform="translate(203.1 511.4) rotate(-90)" font-family="Liberation Sans, sans-serif" font-size="10.42" font-weight="bold" fill="#111" textLength="93.8" lengthAdjust="spacingAndGlyphs">Apoptotic cells (%)</text>
<path d="M245.1 443.8 V395.1 H281.2 V402.6" stroke="#000" stroke-width="1.1" fill="none"/>
<path d="M251.66 382.97 L251.66 388.83 M249.13 384.44 L254.20 387.36 M254.20 384.44 L249.13 387.36 M259.69 382.97 L259.69 388.83 M257.15 384.44 L262.22 387.36 M262.22 384.44 L257.15 387.36 M267.71 382.97 L267.71 388.83 M265.18 384.44 L270.25 387.36 M270.25 384.44 L265.18 387.36 M275.74 382.97 L275.74 388.83 M273.20 384.44 L278.27 387.36 M278.27 384.44 L273.20 387.36" stroke="#111" stroke-width="1.15" fill="none"/>
<text x="179.8" y="384.6" font-family="Liberation Sans, sans-serif" font-size="12.2" font-weight="bold" fill="#000">J</text>
<text transform="translate(248.6 542.8) rotate(-45)" text-anchor="end" font-family="Liberation Sans, sans-serif" font-size="9.59" font-weight="bold" fill="#111">A-253/NK</text>
<text transform="translate(284.4 543.4) rotate(-45)" text-anchor="end" font-family="Liberation Sans, sans-serif" font-size="9.59" font-weight="bold" fill="#111">A-253<tspan dy="-4.4" font-size="6.6" font-weight="normal" letter-spacing=".3">-/-</tspan><tspan dy="4.4">/NK</tspan></text>
<path d="M397.6 470.8 V467.2 M391.3 467.2 H403.9" stroke="#000" stroke-width="0.8" fill="none"/><path d="M432.9 421.5 V413.7 M426.6 413.7 H439.2" stroke="#5c5c5c" stroke-width="0.8" fill="none"/>
<rect x="386.0" y="470.8" width="23.2" height="56.9" fill="#000"/>
<rect x="422.05" y="422.35" width="21.70" height="105.35" fill="#a0a0a0" stroke="#000" stroke-width="1.7"/>
<path d="M373.7 390.9 V527.7 M368.6 527.7 H457.3 M368.6 527.7 H373.7 M368.6 493.7 H373.7 M368.6 459.6 H373.7 M368.6 425.6 H373.7 M368.6 391.5 H373.7 M397.1 527.7 v5.0 M432.6 527.7 v5.0" stroke="#000" stroke-width="1.2" fill="none"/>
<g font-family="Liberation Sans, sans-serif" font-size="9.60" font-weight="bold" fill="#111"><text x="367.0" y="531.1" text-anchor="end">0</text><text x="367.0" y="497.1" text-anchor="end">2</text><text x="367.0" y="463.0" text-anchor="end">4</text><text x="367.0" y="429.0" text-anchor="end">6</text><text x="367.0" y="394.9" text-anchor="end">8</text></g>
<text transform="translate(355.3 509.3) rotate(-90)" font-family="Liberation Sans, sans-serif" font-size="11.90" font-weight="bold" fill="#111" textLength="100.7" lengthAdjust="spacingAndGlyphs">Apoptotic cells (%)</text>
<path d="M397.1 459.7 V398.1 H432.6 V405.6" stroke="#000" stroke-width="1.1" fill="none"/>
<path d="M403.50 385.35 L403.50 391.05 M401.03 386.78 L405.97 389.62 M405.97 386.78 L401.03 389.62 M411.30 385.35 L411.30 391.05 M408.83 386.78 L413.77 389.62 M413.77 386.78 L408.83 389.62 M419.10 385.35 L419.10 391.05 M416.63 386.78 L421.57 389.62 M421.57 386.78 L416.63 389.62 M426.90 385.35 L426.90 391.05 M424.43 386.78 L429.37 389.62 M429.37 386.78 L424.43 389.62" stroke="#111" stroke-width="1.15" fill="none"/>
<text x="337.0" y="384.6" font-family="Liberation Sans, sans-serif" font-size="12.2" font-weight="bold" fill="#000">K</text>
<text transform="translate(400.6 543.6) rotate(-45)" text-anchor="end" font-family="Liberation Sans, sans-serif" font-size="9.70" font-weight="bold" fill="#111">ACC/JK</text>
<text transform="translate(435.8 544.2) rotate(-45)" text-anchor="end" font-family="Liberation Sans, sans-serif" font-size="9.70" font-weight="bold" fill="#111">ACC<tspan dy="-4.4" font-size="6.6" font-weight="normal" letter-spacing=".3">-/-</tspan><tspan dy="4.4">/JK</tspan></text>
<path d="M553.2 443.8 V439.9 M546.4 439.9 H560.0" stroke="#000" stroke-width="0.8" fill="none"/><path d="M591.5 419.5 V413.5 M584.9 413.5 H598.0" stroke="#5c5c5c" stroke-width="0.8" fill="none"/>
<rect x="540.6" y="443.8" width="25.2" height="80.7" fill="#000"/>
<rect x="580.25" y="420.35" width="22.40" height="104.15" fill="#a0a0a0" stroke="#000" stroke-width="1.7"/>
<path d="M527.6 389.4 V524.5 M522.5 524.5 H617.3 M522.5 524.5 H527.6 M522.5 479.7 H527.6 M522.5 434.8 H527.6 M522.5 390.0 H527.6 M553.2 524.5 v5.0 M591.4 524.5 v5.0" stroke="#000" stroke-width="1.2" fill="none"/>
<g font-family="Liberation Sans, sans-serif" font-size="8.80" font-weight="bold" fill="#111"><text x="521.0" y="527.7" text-anchor="end">0</text><text x="521.0" y="482.8" text-anchor="end">2</text><text x="521.0" y="438.0" text-anchor="end">4</text><text x="521.0" y="393.2" text-anchor="end">6</text></g>
<text transform="translate(507.1 506.4) rotate(-90)" font-family="Liberation Sans, sans-serif" font-size="11.03" font-weight="bold" fill="#111" textLength="99.3" lengthAdjust="spacingAndGlyphs">Apoptotic cells (%)</text>
<path d="M553.2 431.8 V397.5 H591.4 V405.6" stroke="#000" stroke-width="1.1" fill="none"/>
<path d="M567.65 385.10 L567.65 391.30 M564.97 386.65 L570.34 389.75 M570.34 386.65 L564.97 389.75 M576.15 385.10 L576.15 391.30 M573.46 386.65 L578.83 389.75 M578.83 386.65 L573.46 389.75" stroke="#111" stroke-width="1.15" fill="none"/>
<text x="492.4" y="384.6" font-family="Liberation Sans, sans-serif" font-size="12.2" font-weight="bold" fill="#000">L</text>
<text transform="translate(556.7 540.4) rotate(-45)" text-anchor="end" font-family="Liberation Sans, sans-serif" font-size="10.15" font-weight="bold" fill="#111">A-253/JK</text>
<text transform="translate(594.6 541.0) rotate(-45)" text-anchor="end" font-family="Liberation Sans, sans-serif" font-size="10.15" font-weight="bold" fill="#111">A-253<tspan dy="-4.4" font-size="6.6" font-weight="normal" letter-spacing=".3">-/-</tspan><tspan dy="4.4">/JK</tspan></text>
<path d="M244.1 624.4 V620.5 M238.4 620.5 H249.8" stroke="#000" stroke-width="0.8" fill="none"/><path d="M276.4 629.7 V619.1 M270.7 619.1 H282.1" stroke="#5c5c5c" stroke-width="0.8" fill="none"/>
<rect x="233.5" y="624.4" width="21.2" height="90.7" fill="#000"/>
<rect x="266.75" y="630.55" width="19.30" height="84.55" fill="#a0a0a0" stroke="#000" stroke-width="1.7"/>
<path d="M222.3 593.3 V715.1 M217.8 715.1 H298.5 M217.8 715.1 H222.3 M217.8 690.9 H222.3 M217.8 666.6 H222.3 M217.8 642.4 H222.3 M217.8 618.1 H222.3 M217.8 593.9 H222.3 M244.1 715.1 v4.3 M276.4 715.1 v4.3" stroke="#000" stroke-width="1.2" fill="none"/>
<g font-family="Liberation Sans, sans-serif" font-size="9.18" font-weight="bold" fill="#111"><text x="216.0" y="718.4" text-anchor="end">0</text><text x="216.0" y="694.1" text-anchor="end">1</text><text x="216.0" y="669.9" text-anchor="end">2</text><text x="216.0" y="645.7" text-anchor="end">3</text><text x="216.0" y="621.4" text-anchor="end">4</text><text x="216.0" y="597.2" text-anchor="end">5</text></g>
<text transform="translate(205.3 699.0) rotate(-90)" font-family="Liberation Sans, sans-serif" font-size="9.98" font-weight="bold" fill="#111" textLength="89.8" lengthAdjust="spacingAndGlyphs">Apoptotic cells (%)</text>
<path d="M244.1 613.1 V604.4 H276.4 V613.1" stroke="#000" stroke-width="1.1" fill="none"/>
<text x="259.9" y="598.7" text-anchor="middle" font-family="Liberation Sans, sans-serif" font-size="9.2" fill="#111">ns</text>
<text x="180.4" y="586.9" font-family="Liberation Sans, sans-serif" font-size="12.2" font-weight="bold" fill="#000">M</text>
<text x="244.1" y="729.6" text-anchor="middle" font-family="Liberation Sans, sans-serif" font-size="8.6" font-weight="bold" fill="#111">ACC</text>
<text x="263.8" y="729.6" text-anchor="start" font-family="Liberation Sans, sans-serif" font-size="8.6" font-weight="bold" fill="#111">ACC<tspan dy="-4.2" font-size="5.6" font-weight="normal">-/-</tspan></text>
<path d="M403.6 632.8 V627.6 M397.9 627.6 H409.3" stroke="#000" stroke-width="0.8" fill="none"/><path d="M435.8 617.0 V609.2 M430.2 609.2 H441.3" stroke="#5c5c5c" stroke-width="0.8" fill="none"/>
<rect x="393.1" y="632.8" width="21.0" height="79.4" fill="#000"/>
<rect x="426.25" y="617.85" width="19.00" height="94.35" fill="#a0a0a0" stroke="#000" stroke-width="1.7"/>
<path d="M381.8 596.7 V712.2 M377.3 712.2 H457.4 M377.3 712.2 H381.8 M377.3 689.2 H381.8 M377.3 666.2 H381.8 M377.3 643.3 H381.8 M377.3 620.3 H381.8 M377.3 597.3 H381.8 M402.8 712.2 v4.3 M435.6 712.2 v4.3" stroke="#000" stroke-width="1.2" fill="none"/>
<g font-family="Liberation Sans, sans-serif" font-size="8.73" font-weight="bold" fill="#111"><text x="375.5" y="715.3" text-anchor="end">0</text><text x="375.5" y="692.3" text-anchor="end">1</text><text x="375.5" y="669.4" text-anchor="end">2</text><text x="375.5" y="646.4" text-anchor="end">3</text><text x="375.5" y="623.4" text-anchor="end">4</text><text x="375.5" y="600.4" text-anchor="end">5</text></g>
<text transform="translate(363.7 697.2) rotate(-90)" font-family="Liberation Sans, sans-serif" font-size="9.49" font-weight="bold" fill="#111" textLength="85.4" lengthAdjust="spacingAndGlyphs">Apoptotic cells (%)</text>
<path d="M402.8 621.0 V595.2 H435.6 V602.1" stroke="#000" stroke-width="1.1" fill="none"/>
<text x="419.3" y="589.5" text-anchor="middle" font-family="Liberation Sans, sans-serif" font-size="9.2" fill="#111">ns</text>
<text x="337.3" y="586.9" font-family="Liberation Sans, sans-serif" font-size="12.2" font-weight="bold" fill="#000">N</text>
<text x="403.0" y="726.4" text-anchor="middle" font-family="Liberation Sans, sans-serif" font-size="8.6" font-weight="bold" fill="#111">A-253</text>
<text x="420.7" y="726.4" text-anchor="start" font-family="Liberation Sans, sans-serif" font-size="8.6" font-weight="bold" fill="#111">A-253<tspan dy="-4.2" font-size="5.6" font-weight="normal">-/-</tspan></text>
</svg>
</body></html>
